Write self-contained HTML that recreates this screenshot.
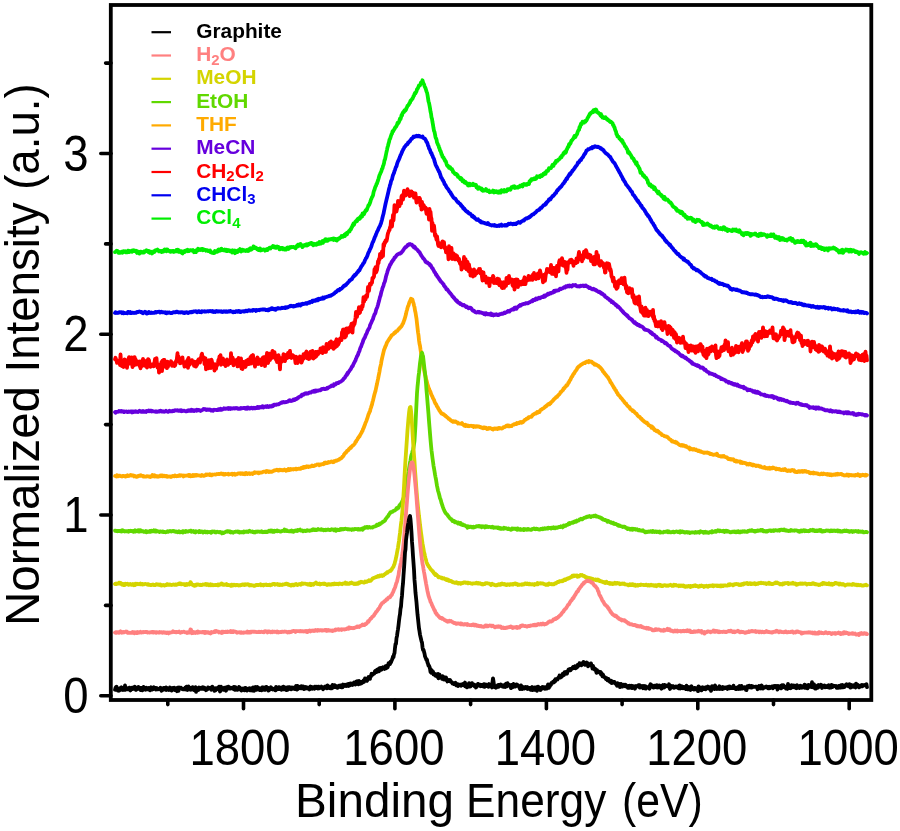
<!DOCTYPE html>
<html><head><meta charset="utf-8"><style>
html,body{margin:0;padding:0;background:#fff;}
svg{display:block;will-change:transform;}
.ax text{font-family:"Liberation Sans",sans-serif;font-size:48px;fill:#000;}
.leg text{font-family:"Liberation Sans",sans-serif;font-weight:bold;font-size:19.5px;}
.leg .sub{font-size:14px;}
.ax .tl{font-size:50px;}
</style></head><body>
<svg width="900" height="831" viewBox="0 0 900 831">
<rect width="900" height="831" fill="#fff"/>
<g fill="none" stroke-width="3.8" stroke-linejoin="round" stroke-linecap="round">
<path d="M115.0,252.1 115.5,252.0 116.0,251.3 116.5,250.8 117.0,251.1 117.5,250.9 118.0,251.7 118.5,252.8 119.0,251.9 119.5,252.0 120.0,252.8 120.5,252.7 121.0,252.5 121.5,251.8 122.0,252.2 122.5,252.7 123.0,251.5 123.5,252.1 124.0,251.2 124.5,251.6 125.0,251.3 125.5,252.2 126.0,251.6 126.5,252.4 127.0,252.3 127.5,252.0 128.0,250.6 128.5,251.7 129.0,252.0 129.5,252.0 130.0,250.9 130.5,251.4 131.0,251.0 131.5,250.9 132.0,251.8 132.5,250.4 133.0,250.7 133.5,251.1 134.0,250.3 134.5,250.7 135.0,251.0 135.5,251.3 136.0,250.8 136.5,251.9 137.0,252.9 137.5,251.3 138.0,252.9 138.5,252.5 139.0,252.0 139.5,253.6 140.0,252.8 140.5,251.6 141.0,252.3 141.5,252.5 142.0,252.0 142.5,252.4 143.0,251.9 143.5,252.2 144.0,252.6 144.5,251.2 145.0,251.6 145.5,251.1 146.0,251.2 146.5,250.3 147.0,250.6 147.5,250.8 148.0,251.6 148.5,252.1 149.0,250.9 149.5,251.7 150.0,252.9 150.5,251.6 151.0,252.6 151.5,252.8 152.0,253.5 152.5,252.9 153.0,251.9 153.5,251.5 154.0,251.2 154.5,251.9 155.0,250.4 155.5,250.2 156.0,250.5 156.5,250.1 157.0,250.1 157.5,249.6 158.0,250.4 158.5,250.3 159.0,251.4 159.5,251.2 160.0,250.9 160.5,251.5 161.0,251.0 161.5,252.0 162.0,251.4 162.5,251.8 163.0,250.6 163.5,251.5 164.0,250.1 164.5,249.6 165.0,250.4 165.5,249.7 166.0,250.1 166.5,251.2 167.0,249.4 167.5,249.6 168.0,250.3 168.5,250.8 169.0,250.7 169.5,250.9 170.0,251.7 170.5,251.8 171.0,251.0 171.5,251.6 172.0,251.7 172.5,250.9 173.0,251.6 173.5,250.9 174.0,251.9 174.5,251.5 175.0,251.4 175.5,251.0 176.0,251.2 176.5,250.0 177.0,250.4 177.5,251.3 178.0,249.8 178.5,251.7 179.0,250.2 179.5,251.8 180.0,251.0 180.5,252.1 181.0,252.0 181.5,251.2 182.0,253.1 182.5,253.4 183.0,252.4 183.5,252.1 184.0,251.9 184.5,251.1 185.0,251.9 185.5,250.6 186.0,250.7 186.5,250.1 187.0,250.1 187.5,249.7 188.0,251.3 188.5,250.5 189.0,251.1 189.5,250.6 190.0,250.1 190.5,250.3 191.0,250.2 191.5,250.6 192.0,250.4 192.5,250.5 193.0,250.0 193.5,250.5 194.0,252.2 194.5,250.9 195.0,250.8 195.5,251.6 196.0,252.1 196.5,250.1 197.0,250.4 197.5,249.8 198.0,248.8 198.5,250.2 199.0,249.6 199.5,249.7 200.0,249.2 200.5,249.9 201.0,249.3 201.5,249.5 202.0,248.8 202.5,248.8 203.0,250.3 203.5,249.3 204.0,249.9 204.5,249.9 205.0,249.8 205.5,249.9 206.0,250.7 206.5,250.1 207.0,250.2 207.5,250.3 208.0,251.0 208.5,250.8 209.0,250.9 209.5,250.6 210.0,250.4 210.5,252.1 211.0,252.4 211.5,252.1 212.0,252.7 212.5,252.9 213.0,253.0 213.5,253.0 214.0,252.0 214.5,252.9 215.0,251.0 215.5,251.9 216.0,251.4 216.5,251.5 217.0,251.9 217.5,251.6 218.0,249.9 218.5,249.5 219.0,250.9 219.5,249.7 220.0,250.2 220.5,250.6 221.0,249.0 221.5,248.7 222.0,250.2 222.5,250.1 223.0,250.0 223.5,250.3 224.0,249.9 224.5,249.6 225.0,250.5 225.5,250.1 226.0,249.8 226.5,251.1 227.0,250.7 227.5,251.0 228.0,250.1 228.5,250.4 229.0,250.2 229.5,250.4 230.0,251.2 230.5,250.7 231.0,251.5 231.5,251.5 232.0,252.5 232.5,250.3 233.0,251.5 233.5,250.6 234.0,250.5 234.5,250.8 235.0,253.2 235.5,252.4 236.0,250.8 236.5,251.2 237.0,251.2 237.5,252.1 238.0,251.5 238.5,250.1 239.0,250.9 239.5,250.0 240.0,249.1 240.5,250.5 241.0,251.5 241.5,250.5 242.0,249.6 242.5,249.6 243.0,250.8 243.5,250.2 244.0,250.2 244.5,250.3 245.0,250.4 245.5,251.0 246.0,250.9 246.5,250.8 247.0,250.0 247.5,250.9 248.0,250.0 248.5,250.9 249.0,249.2 249.5,249.5 250.0,249.3 250.5,248.2 251.0,249.8 251.5,249.4 252.0,248.1 252.5,248.6 253.0,248.3 253.5,246.4 254.0,248.1 254.5,247.9 255.0,248.1 255.5,247.5 256.0,248.1 256.5,248.2 257.0,249.2 257.5,248.9 258.0,248.9 258.5,250.0 259.0,248.9 259.5,249.2 260.0,248.4 260.5,250.5 261.0,250.2 261.5,250.2 262.0,250.0 262.5,249.6 263.0,249.7 263.5,249.4 264.0,249.5 264.5,249.8 265.0,250.7 265.5,250.1 266.0,249.7 266.5,249.2 267.0,249.0 267.5,250.1 268.0,249.2 268.5,248.8 269.0,248.3 269.5,247.7 270.0,248.1 270.5,248.4 271.0,247.4 271.5,247.2 272.0,247.1 272.5,247.2 273.0,246.1 273.5,246.9 274.0,246.6 274.5,247.6 275.0,246.6 275.5,247.3 276.0,247.8 276.5,246.7 277.0,246.5 277.5,247.1 278.0,247.2 278.5,246.9 279.0,248.1 279.5,249.4 280.0,248.2 280.5,248.3 281.0,247.9 281.5,248.7 282.0,247.8 282.5,247.9 283.0,249.4 283.5,248.2 284.0,249.4 284.5,249.6 285.0,248.8 285.5,248.9 286.0,249.6 286.5,248.2 287.0,247.9 287.5,247.4 288.0,248.1 288.5,248.9 289.0,248.5 289.5,247.3 290.0,247.1 290.5,247.1 291.0,247.4 291.5,246.9 292.0,247.1 292.5,247.1 293.0,246.8 293.5,247.0 294.0,247.3 294.5,247.1 295.0,247.5 295.5,248.3 296.0,247.4 296.5,246.9 297.0,245.6 297.5,246.5 298.0,244.7 298.5,244.7 299.0,245.8 299.5,245.5 300.0,244.9 300.5,244.0 301.0,244.9 301.5,245.0 302.0,246.0 302.5,247.1 303.0,246.1 303.5,245.5 304.0,245.2 304.5,245.7 305.0,245.5 305.5,244.7 306.0,245.2 306.5,244.3 307.0,245.5 307.5,245.3 308.0,245.1 308.5,244.0 309.0,244.3 309.5,243.7 310.0,243.4 310.5,243.3 311.0,242.8 311.5,242.9 312.0,244.4 312.5,244.1 313.0,244.6 313.5,245.3 314.0,243.7 314.5,244.3 315.0,244.7 315.5,244.7 316.0,244.1 316.5,244.8 317.0,244.2 317.5,243.2 318.0,243.2 318.5,244.0 319.0,243.6 319.5,242.0 320.0,243.7 320.5,243.1 321.0,243.4 321.5,242.1 322.0,241.9 322.5,241.1 323.0,242.9 323.5,240.9 324.0,241.7 324.5,240.1 325.0,240.5 325.5,239.3 326.0,240.0 326.5,240.8 327.0,239.5 327.5,240.8 328.0,240.3 328.5,239.4 329.0,239.5 329.5,239.4 330.0,239.6 330.5,239.2 331.0,239.0 331.5,239.3 332.0,238.9 332.5,238.7 333.0,239.4 333.5,239.9 334.0,238.5 334.5,239.4 335.0,239.1 335.5,239.0 336.0,240.1 336.5,239.3 337.0,240.5 337.5,239.0 338.0,239.5 338.5,238.9 339.0,238.2 339.5,238.6 340.0,237.7 340.5,237.7 341.0,237.0 341.5,236.1 342.0,236.5 342.5,236.4 343.0,236.8 343.5,235.6 344.0,236.0 344.5,234.8 345.0,235.9 345.5,234.5 346.0,233.6 346.5,234.2 347.0,234.4 347.5,232.4 348.0,232.2 348.5,231.9 349.0,231.1 349.5,231.5 350.0,230.1 350.5,229.4 351.0,229.3 351.5,227.5 352.0,227.3 352.5,225.6 353.0,224.6 353.5,223.4 354.0,224.9 354.5,222.8 355.0,222.3 355.5,221.5 356.0,221.0 356.5,220.5 357.0,221.2 357.5,219.2 358.0,218.6 358.5,218.6 359.0,218.1 359.5,218.9 360.0,218.4 360.5,216.8 361.0,216.0 361.5,216.0 362.0,216.6 362.5,213.5 363.0,215.0 363.5,213.5 364.0,214.2 364.5,212.3 365.0,212.1 365.5,210.6 366.0,210.0 366.5,210.5 367.0,209.4 367.5,207.8 368.0,206.7 368.5,205.2 369.0,205.1 369.5,204.1 370.0,202.8 370.5,201.4 371.0,199.4 371.5,198.6 372.0,197.2 372.5,196.5 373.0,195.3 373.5,192.6 374.0,190.7 374.5,189.6 375.0,187.9 375.5,186.5 376.0,185.7 376.5,183.9 377.0,183.6 377.5,181.8 378.0,180.5 378.5,178.8 379.0,176.9 379.5,175.2 380.0,174.3 380.5,172.8 381.0,172.1 381.5,170.8 382.0,168.8 382.5,168.3 383.0,166.1 383.5,164.9 384.0,163.3 384.5,160.3 385.0,159.3 385.5,157.0 386.0,154.5 386.5,152.0 387.0,149.8 387.5,147.3 388.0,145.8 388.5,143.7 389.0,142.2 389.5,139.7 390.0,139.0 390.5,137.4 391.0,135.8 391.5,134.3 392.0,133.7 392.5,131.3 393.0,131.6 393.5,130.5 394.0,129.7 394.5,129.0 395.0,127.7 395.5,127.1 396.0,126.9 396.5,125.9 397.0,124.9 397.5,123.0 398.0,123.3 398.5,122.8 399.0,121.9 399.5,120.5 400.0,118.6 400.5,119.1 401.0,117.5 401.5,115.0 402.0,115.6 402.5,113.4 403.0,112.4 403.5,111.8 404.0,112.1 404.5,110.3 405.0,110.1 405.5,110.4 406.0,109.7 406.5,108.1 407.0,107.3 407.5,105.9 408.0,105.4 408.5,105.2 409.0,104.2 409.5,103.1 410.0,102.7 410.5,100.7 411.0,100.3 411.5,100.0 412.0,99.1 412.5,98.7 413.0,97.5 413.5,96.2 414.0,95.8 414.5,94.1 415.0,92.9 415.5,93.4 416.0,92.1 416.5,91.4 417.0,89.2 417.5,89.0 418.0,87.9 418.5,86.9 419.0,85.3 419.5,85.4 420.0,85.2 420.5,83.9 421.0,82.5 421.5,82.2 422.0,82.4 422.5,80.3 423.0,82.2 423.5,83.3 424.0,84.3 424.5,86.1 425.0,87.1 425.5,88.1 426.0,89.7 426.5,91.5 427.0,92.5 427.5,95.0 428.0,98.1 428.5,101.4 429.0,102.8 429.5,105.4 430.0,108.1 430.5,111.5 431.0,113.6 431.5,117.4 432.0,118.9 432.5,122.2 433.0,124.9 433.5,128.2 434.0,130.9 434.5,131.8 435.0,134.4 435.5,137.2 436.0,138.4 436.5,139.5 437.0,142.5 437.5,143.5 438.0,144.8 438.5,145.5 439.0,147.7 439.5,148.4 440.0,150.6 440.5,150.8 441.0,152.3 441.5,154.2 442.0,154.8 442.5,156.7 443.0,157.3 443.5,157.4 444.0,158.8 444.5,159.3 445.0,160.9 445.5,160.8 446.0,161.9 446.5,163.8 447.0,165.3 447.5,166.1 448.0,165.8 448.5,166.6 449.0,167.9 449.5,167.3 450.0,167.1 450.5,168.2 451.0,169.0 451.5,168.9 452.0,169.1 452.5,170.0 453.0,172.0 453.5,171.8 454.0,172.7 454.5,173.4 455.0,174.0 455.5,173.7 456.0,174.5 456.5,174.0 457.0,174.8 457.5,175.0 458.0,176.9 458.5,176.9 459.0,177.2 459.5,177.9 460.0,178.4 460.5,179.2 461.0,178.1 461.5,178.6 462.0,179.3 462.5,181.4 463.0,180.8 463.5,180.5 464.0,181.4 464.5,182.6 465.0,181.7 465.5,182.0 466.0,183.4 466.5,183.4 467.0,183.9 467.5,183.6 468.0,185.4 468.5,185.6 469.0,185.2 469.5,185.4 470.0,183.7 470.5,185.2 471.0,184.6 471.5,184.9 472.0,185.0 472.5,184.5 473.0,183.7 473.5,185.1 474.0,184.6 474.5,185.1 475.0,185.2 475.5,185.7 476.0,184.8 476.5,187.3 477.0,187.0 477.5,187.9 478.0,188.8 478.5,188.0 479.0,187.3 479.5,188.1 480.0,188.1 480.5,188.8 481.0,189.4 481.5,188.5 482.0,190.2 482.5,189.4 483.0,190.7 483.5,190.5 484.0,190.5 484.5,190.5 485.0,190.1 485.5,189.9 486.0,189.1 486.5,189.9 487.0,191.0 487.5,191.1 488.0,191.0 488.5,191.0 489.0,190.6 489.5,192.3 490.0,191.8 490.5,192.0 491.0,191.9 491.5,191.9 492.0,191.4 492.5,191.3 493.0,190.6 493.5,190.9 494.0,192.5 494.5,191.2 495.0,191.2 495.5,191.9 496.0,192.1 496.5,191.2 497.0,191.7 497.5,192.4 498.0,192.0 498.5,191.9 499.0,192.7 499.5,191.3 500.0,191.8 500.5,191.3 501.0,192.4 501.5,190.1 502.0,190.7 502.5,190.6 503.0,191.3 503.5,191.2 504.0,191.7 504.5,190.0 505.0,191.4 505.5,190.8 506.0,190.6 506.5,191.2 507.0,190.2 507.5,189.3 508.0,190.1 508.5,189.1 509.0,189.3 509.5,189.6 510.0,189.2 510.5,189.7 511.0,188.3 511.5,187.2 512.0,187.3 512.5,186.9 513.0,186.5 513.5,187.5 514.0,186.9 514.5,186.2 515.0,188.0 515.5,187.5 516.0,187.7 516.5,187.4 517.0,187.5 517.5,187.0 518.0,187.6 518.5,187.0 519.0,187.0 519.5,186.9 520.0,185.7 520.5,186.3 521.0,186.1 521.5,186.1 522.0,185.0 522.5,186.5 523.0,185.4 523.5,184.4 524.0,183.9 524.5,184.7 525.0,184.7 525.5,184.3 526.0,184.8 526.5,184.2 527.0,184.7 527.5,183.6 528.0,183.6 528.5,183.7 529.0,184.0 529.5,181.3 530.0,181.0 530.5,180.2 531.0,180.8 531.5,179.2 532.0,179.3 532.5,179.4 533.0,178.8 533.5,178.8 534.0,179.2 534.5,178.3 535.0,178.6 535.5,179.0 536.0,178.8 536.5,177.9 537.0,176.3 537.5,176.6 538.0,177.1 538.5,176.9 539.0,176.6 539.5,176.1 540.0,177.0 540.5,176.0 541.0,175.3 541.5,175.1 542.0,176.1 542.5,174.9 543.0,175.1 543.5,173.8 544.0,174.2 544.5,172.9 545.0,172.7 545.5,173.8 546.0,172.3 546.5,171.1 547.0,170.9 547.5,170.8 548.0,170.9 548.5,169.5 549.0,168.2 549.5,168.6 550.0,168.3 550.5,167.8 551.0,168.0 551.5,166.8 552.0,166.6 552.5,164.9 553.0,165.5 553.5,165.7 554.0,164.3 554.5,163.4 555.0,162.7 555.5,163.1 556.0,160.9 556.5,160.9 557.0,160.9 557.5,160.8 558.0,159.8 558.5,159.9 559.0,159.2 559.5,159.0 560.0,158.4 560.5,157.2 561.0,157.3 561.5,157.2 562.0,155.4 562.5,155.1 563.0,155.0 563.5,153.3 564.0,153.5 564.5,152.2 565.0,152.9 565.5,152.9 566.0,152.0 566.5,149.7 567.0,149.3 567.5,147.9 568.0,146.9 568.5,146.8 569.0,144.3 569.5,144.9 570.0,143.4 570.5,143.4 571.0,141.8 571.5,140.4 572.0,140.2 572.5,139.8 573.0,138.7 573.5,138.5 574.0,137.4 574.5,136.0 575.0,137.3 575.5,136.6 576.0,135.5 576.5,134.7 577.0,134.3 577.5,132.4 578.0,131.1 578.5,130.2 579.0,129.8 579.5,127.0 580.0,127.4 580.5,125.1 581.0,123.8 581.5,124.4 582.0,122.9 582.5,121.7 583.0,122.0 583.5,122.6 584.0,122.7 584.5,121.5 585.0,121.8 585.5,121.7 586.0,120.4 586.5,120.3 587.0,119.3 587.5,118.2 588.0,117.3 588.5,116.6 589.0,115.7 589.5,114.4 590.0,113.6 590.5,113.8 591.0,112.6 591.5,112.5 592.0,112.3 592.5,111.6 593.0,112.3 593.5,110.1 594.0,110.9 594.5,110.1 595.0,111.4 595.5,111.5 596.0,109.5 596.5,110.4 597.0,111.8 597.5,112.3 598.0,112.7 598.5,112.7 599.0,113.5 599.5,114.1 600.0,114.3 600.5,115.5 601.0,114.1 601.5,116.4 602.0,116.0 602.5,117.6 603.0,117.3 603.5,117.2 604.0,118.1 604.5,117.4 605.0,117.5 605.5,117.2 606.0,118.3 606.5,118.8 607.0,119.5 607.5,119.2 608.0,120.3 608.5,120.2 609.0,120.5 609.5,121.3 610.0,121.9 610.5,121.4 611.0,121.8 611.5,122.3 612.0,122.9 612.5,123.0 613.0,125.0 613.5,125.1 614.0,126.8 614.5,127.3 615.0,129.4 615.5,130.7 616.0,131.6 616.5,134.3 617.0,134.5 617.5,136.4 618.0,136.8 618.5,136.6 619.0,137.5 619.5,138.6 620.0,139.0 620.5,139.6 621.0,140.1 621.5,139.8 622.0,141.4 622.5,140.8 623.0,143.0 623.5,143.1 624.0,143.9 624.5,145.1 625.0,146.4 625.5,146.4 626.0,147.2 626.5,148.6 627.0,148.8 627.5,150.2 628.0,152.5 628.5,151.6 629.0,153.3 629.5,152.7 630.0,154.3 630.5,154.6 631.0,155.4 631.5,156.4 632.0,157.9 632.5,157.7 633.0,158.5 633.5,158.6 634.0,160.4 634.5,160.6 635.0,162.0 635.5,162.1 636.0,163.9 636.5,162.3 637.0,164.1 637.5,165.7 638.0,166.0 638.5,166.8 639.0,168.2 639.5,168.6 640.0,170.5 640.5,172.8 641.0,172.9 641.5,172.4 642.0,173.3 642.5,174.2 643.0,175.6 643.5,175.0 644.0,175.5 644.5,176.9 645.0,177.4 645.5,177.3 646.0,177.7 646.5,178.5 647.0,180.0 647.5,180.1 648.0,182.8 648.5,182.8 649.0,184.0 649.5,185.4 650.0,185.4 650.5,184.5 651.0,186.1 651.5,186.7 652.0,186.0 652.5,186.3 653.0,187.3 653.5,186.8 654.0,189.1 654.5,187.3 655.0,188.6 655.5,189.6 656.0,190.3 656.5,191.1 657.0,191.7 657.5,191.9 658.0,193.2 658.5,191.6 659.0,193.3 659.5,193.3 660.0,194.3 660.5,194.8 661.0,194.6 661.5,195.3 662.0,196.6 662.5,196.8 663.0,196.5 663.5,198.4 664.0,198.9 664.5,196.9 665.0,198.2 665.5,199.8 666.0,199.1 666.5,199.2 667.0,199.4 667.5,199.6 668.0,200.3 668.5,200.6 669.0,201.9 669.5,201.8 670.0,202.3 670.5,202.3 671.0,203.6 671.5,203.6 672.0,204.6 672.5,205.9 673.0,206.1 673.5,206.8 674.0,207.1 674.5,207.4 675.0,207.7 675.5,208.1 676.0,209.3 676.5,208.8 677.0,210.8 677.5,210.6 678.0,210.5 678.5,211.0 679.0,211.1 679.5,211.8 680.0,211.5 680.5,213.0 681.0,212.2 681.5,211.7 682.0,213.0 682.5,212.6 683.0,214.2 683.5,215.2 684.0,215.4 684.5,214.6 685.0,215.3 685.5,217.1 686.0,216.6 686.5,216.6 687.0,217.5 687.5,218.7 688.0,218.3 688.5,217.8 689.0,218.2 689.5,218.6 690.0,218.0 690.5,217.8 691.0,218.5 691.5,218.0 692.0,218.7 692.5,219.1 693.0,220.9 693.5,219.6 694.0,220.6 694.5,221.1 695.0,221.7 695.5,222.1 696.0,221.1 696.5,220.6 697.0,219.8 697.5,220.0 698.0,220.7 698.5,220.4 699.0,219.9 699.5,220.5 700.0,221.0 700.5,221.7 701.0,221.6 701.5,222.4 702.0,222.0 702.5,223.0 703.0,225.1 703.5,223.1 704.0,224.4 704.5,224.9 705.0,224.6 705.5,224.3 706.0,224.6 706.5,224.5 707.0,224.4 707.5,223.4 708.0,224.5 708.5,224.3 709.0,224.8 709.5,225.4 710.0,225.9 710.5,226.2 711.0,225.5 711.5,226.6 712.0,227.0 712.5,227.2 713.0,227.6 713.5,227.0 714.0,227.1 714.5,227.7 715.0,226.4 715.5,227.3 716.0,226.8 716.5,226.9 717.0,226.2 717.5,227.0 718.0,227.7 718.5,228.5 719.0,228.8 719.5,228.3 720.0,228.4 720.5,228.1 721.0,228.9 721.5,228.4 722.0,228.8 722.5,229.4 723.0,228.1 723.5,227.2 724.0,227.7 724.5,227.5 725.0,228.0 725.5,229.9 726.0,229.6 726.5,228.9 727.0,230.4 727.5,231.0 728.0,230.0 728.5,229.7 729.0,229.8 729.5,230.0 730.0,230.2 730.5,230.5 731.0,230.7 731.5,230.9 732.0,231.2 732.5,230.9 733.0,229.5 733.5,230.2 734.0,230.3 734.5,229.7 735.0,230.4 735.5,229.6 736.0,229.4 736.5,231.0 737.0,230.7 737.5,230.7 738.0,231.4 738.5,231.8 739.0,231.7 739.5,230.3 740.0,231.7 740.5,232.2 741.0,232.3 741.5,233.4 742.0,234.3 742.5,233.6 743.0,233.4 743.5,235.3 744.0,233.8 744.5,233.2 745.0,234.0 745.5,233.9 746.0,233.1 746.5,234.0 747.0,233.2 747.5,232.9 748.0,233.6 748.5,234.1 749.0,233.4 749.5,234.1 750.0,234.0 750.5,235.9 751.0,233.9 751.5,235.2 752.0,234.3 752.5,234.1 753.0,234.4 753.5,234.3 754.0,234.4 754.5,233.8 755.0,233.4 755.5,233.6 756.0,234.5 756.5,234.8 757.0,235.6 757.5,235.2 758.0,235.7 758.5,236.0 759.0,235.1 759.5,234.0 760.0,234.1 760.5,233.8 761.0,235.4 761.5,233.7 762.0,234.7 762.5,234.2 763.0,234.9 763.5,234.6 764.0,234.2 764.5,234.4 765.0,234.9 765.5,235.2 766.0,235.1 766.5,235.6 767.0,236.9 767.5,235.1 768.0,236.3 768.5,235.5 769.0,236.0 769.5,236.1 770.0,235.4 770.5,235.8 771.0,234.4 771.5,236.1 772.0,235.1 772.5,236.0 773.0,235.9 773.5,234.4 774.0,235.7 774.5,236.6 775.0,237.8 775.5,237.3 776.0,237.5 776.5,236.6 777.0,238.3 777.5,238.5 778.0,237.6 778.5,237.6 779.0,237.0 779.5,238.7 780.0,240.0 780.5,238.9 781.0,239.3 781.5,239.0 782.0,238.1 782.5,239.6 783.0,238.2 783.5,238.9 784.0,239.4 784.5,240.0 785.0,239.9 785.5,240.1 786.0,239.7 786.5,239.6 787.0,240.5 787.5,240.0 788.0,239.5 788.5,239.2 789.0,239.4 789.5,238.3 790.0,238.4 790.5,238.1 791.0,239.2 791.5,239.5 792.0,240.7 792.5,238.9 793.0,239.8 793.5,241.2 794.0,241.0 794.5,241.3 795.0,242.9 795.5,241.8 796.0,241.4 796.5,241.2 797.0,242.1 797.5,242.0 798.0,241.0 798.5,241.2 799.0,242.1 799.5,242.1 800.0,241.4 800.5,242.1 801.0,242.1 801.5,240.6 802.0,241.5 802.5,242.0 803.0,241.5 803.5,240.7 804.0,242.1 804.5,243.1 805.0,244.0 805.5,242.2 806.0,245.5 806.5,243.6 807.0,245.1 807.5,245.3 808.0,245.2 808.5,244.6 809.0,243.7 809.5,244.7 810.0,243.9 810.5,242.8 811.0,246.1 811.5,244.9 812.0,245.7 812.5,244.2 813.0,245.7 813.5,245.9 814.0,245.9 814.5,245.0 815.0,244.4 815.5,245.2 816.0,244.2 816.5,244.7 817.0,246.1 817.5,245.8 818.0,246.5 818.5,246.7 819.0,248.1 819.5,247.9 820.0,247.2 820.5,248.2 821.0,247.3 821.5,248.0 822.0,249.1 822.5,248.1 823.0,248.9 823.5,248.3 824.0,249.2 824.5,250.1 825.0,248.6 825.5,249.2 826.0,248.5 826.5,248.3 827.0,248.3 827.5,249.9 828.0,250.4 828.5,249.2 829.0,248.3 829.5,249.0 830.0,248.2 830.5,248.7 831.0,248.3 831.5,248.3 832.0,248.6 832.5,248.0 833.0,248.3 833.5,247.6 834.0,248.4 834.5,247.9 835.0,248.8 835.5,248.6 836.0,249.5 836.5,250.1 837.0,249.5 837.5,250.2 838.0,250.5 838.5,251.7 839.0,252.4 839.5,251.9 840.0,251.2 840.5,252.3 841.0,250.5 841.5,252.4 842.0,251.1 842.5,249.7 843.0,252.9 843.5,252.2 844.0,250.5 844.5,251.1 845.0,250.7 845.5,250.7 846.0,249.5 846.5,249.7 847.0,250.1 847.5,249.8 848.0,250.4 848.5,250.0 849.0,251.6 849.5,250.0 850.0,250.8 850.5,249.7 851.0,250.1 851.5,251.6 852.0,250.2 852.5,251.0 853.0,250.7 853.5,250.2 854.0,250.8 854.5,250.9 855.0,251.1 855.5,252.1 856.0,252.2 856.5,251.6 857.0,251.6 857.5,252.4 858.0,252.2 858.5,253.0 859.0,254.0 859.5,252.9 860.0,252.4 860.5,252.4 861.0,252.2 861.5,252.4 862.0,252.5 862.5,253.1 863.0,253.2 863.5,253.8 864.0,253.0 864.5,252.9 865.0,252.0 865.5,253.6 866.0,252.8 866.5,253.5 867.0,253.0" stroke="#00ee00"/>
<path d="M115.0,313.0 115.5,312.2 116.0,312.8 116.5,312.8 117.0,313.0 117.5,312.8 118.0,312.9 118.5,312.4 119.0,312.5 119.5,312.2 120.0,312.2 120.5,312.4 121.0,312.5 121.5,312.3 122.0,313.2 122.5,312.8 123.0,312.5 123.5,313.3 124.0,312.8 124.5,313.2 125.0,313.1 125.5,313.2 126.0,313.2 126.5,312.8 127.0,312.9 127.5,313.3 128.0,311.9 128.5,312.5 129.0,312.5 129.5,312.1 130.0,312.0 130.5,313.1 131.0,312.4 131.5,313.1 132.0,312.7 132.5,312.6 133.0,312.8 133.5,312.9 134.0,313.1 134.5,312.9 135.0,312.8 135.5,312.6 136.0,312.8 136.5,312.5 137.0,311.8 137.5,311.8 138.0,312.0 138.5,311.7 139.0,311.7 139.5,311.5 140.0,311.7 140.5,312.0 141.0,312.2 141.5,312.0 142.0,312.8 142.5,312.2 143.0,313.2 143.5,312.7 144.0,312.6 144.5,312.4 145.0,311.8 145.5,312.7 146.0,312.9 146.5,313.5 147.0,312.5 147.5,313.4 148.0,312.7 148.5,313.0 149.0,312.0 149.5,312.8 150.0,312.7 150.5,313.0 151.0,312.9 151.5,312.5 152.0,313.1 152.5,312.9 153.0,312.9 153.5,312.9 154.0,312.9 154.5,312.5 155.0,312.0 155.5,311.9 156.0,312.6 156.5,312.3 157.0,312.0 157.5,311.8 158.0,311.9 158.5,311.8 159.0,311.7 159.5,311.7 160.0,312.6 160.5,312.1 161.0,311.9 161.5,311.7 162.0,311.9 162.5,312.4 163.0,312.4 163.5,312.2 164.0,312.4 164.5,312.4 165.0,312.2 165.5,313.0 166.0,312.7 166.5,313.3 167.0,312.4 167.5,312.5 168.0,312.9 168.5,312.6 169.0,312.3 169.5,312.5 170.0,313.0 170.5,313.1 171.0,313.0 171.5,313.2 172.0,313.1 172.5,312.7 173.0,312.4 173.5,312.1 174.0,312.3 174.5,312.4 175.0,312.2 175.5,312.3 176.0,312.0 176.5,311.6 177.0,311.7 177.5,312.2 178.0,312.1 178.5,312.5 179.0,312.1 179.5,312.4 180.0,312.6 180.5,312.5 181.0,312.1 181.5,312.3 182.0,312.4 182.5,312.2 183.0,312.7 183.5,312.9 184.0,312.4 184.5,313.1 185.0,312.4 185.5,312.4 186.0,312.3 186.5,312.2 187.0,312.5 187.5,312.4 188.0,313.0 188.5,312.7 189.0,312.7 189.5,312.4 190.0,312.0 190.5,312.3 191.0,311.9 191.5,312.3 192.0,311.8 192.5,312.1 193.0,311.6 193.5,311.5 194.0,311.3 194.5,311.3 195.0,311.5 195.5,311.7 196.0,311.3 196.5,311.7 197.0,312.3 197.5,311.5 198.0,311.4 198.5,311.3 199.0,311.1 199.5,312.0 200.0,311.7 200.5,311.8 201.0,312.2 201.5,312.3 202.0,311.2 202.5,311.7 203.0,311.5 203.5,311.4 204.0,311.4 204.5,311.2 205.0,311.7 205.5,311.4 206.0,311.3 206.5,311.6 207.0,311.4 207.5,311.2 208.0,311.2 208.5,311.6 209.0,311.2 209.5,311.1 210.0,310.9 210.5,311.2 211.0,311.1 211.5,311.5 212.0,311.6 212.5,311.0 213.0,311.7 213.5,312.0 214.0,311.9 214.5,311.5 215.0,312.1 215.5,311.4 216.0,311.1 216.5,311.0 217.0,311.3 217.5,311.6 218.0,311.7 218.5,311.5 219.0,311.2 219.5,311.4 220.0,311.5 220.5,311.7 221.0,311.3 221.5,311.9 222.0,312.0 222.5,311.7 223.0,311.9 223.5,311.4 224.0,311.2 224.5,311.4 225.0,311.8 225.5,311.8 226.0,311.3 226.5,311.8 227.0,311.4 227.5,311.9 228.0,311.6 228.5,311.2 229.0,311.6 229.5,311.1 230.0,311.0 230.5,310.9 231.0,311.5 231.5,311.5 232.0,311.6 232.5,311.6 233.0,312.2 233.5,311.7 234.0,311.6 234.5,312.2 235.0,312.2 235.5,311.8 236.0,311.1 236.5,311.3 237.0,311.6 237.5,311.4 238.0,311.8 238.5,310.9 239.0,311.5 239.5,311.2 240.0,311.9 240.5,311.5 241.0,312.0 241.5,311.5 242.0,311.3 242.5,311.3 243.0,311.3 243.5,311.1 244.0,311.6 244.5,311.6 245.0,311.1 245.5,310.7 246.0,310.9 246.5,310.6 247.0,311.2 247.5,310.8 248.0,310.8 248.5,310.5 249.0,310.1 249.5,310.4 250.0,310.3 250.5,310.8 251.0,310.6 251.5,310.3 252.0,310.3 252.5,310.7 253.0,309.9 253.5,309.9 254.0,310.1 254.5,310.0 255.0,310.1 255.5,310.5 256.0,310.9 256.5,309.9 257.0,310.4 257.5,310.3 258.0,310.2 258.5,310.0 259.0,309.9 259.5,310.2 260.0,309.7 260.5,309.7 261.0,309.7 261.5,309.6 262.0,309.4 262.5,309.7 263.0,309.4 263.5,309.5 264.0,309.5 264.5,309.3 265.0,309.5 265.5,309.6 266.0,310.1 266.5,309.9 267.0,309.9 267.5,310.3 268.0,310.3 268.5,309.4 269.0,310.2 269.5,309.4 270.0,309.0 270.5,309.0 271.0,308.5 271.5,308.3 272.0,309.2 272.5,308.3 273.0,308.8 273.5,309.2 274.0,308.8 274.5,309.1 275.0,309.3 275.5,309.8 276.0,308.7 276.5,308.8 277.0,308.8 277.5,308.5 278.0,308.0 278.5,308.5 279.0,308.3 279.5,308.4 280.0,308.6 280.5,308.5 281.0,308.3 281.5,308.2 282.0,307.7 282.5,308.0 283.0,308.0 283.5,307.8 284.0,307.9 284.5,307.5 285.0,308.1 285.5,308.2 286.0,307.3 286.5,307.5 287.0,307.2 287.5,307.6 288.0,307.2 288.5,306.9 289.0,306.6 289.5,306.5 290.0,305.9 290.5,306.2 291.0,305.7 291.5,306.0 292.0,306.0 292.5,306.3 293.0,306.1 293.5,306.5 294.0,305.9 294.5,306.3 295.0,306.0 295.5,306.0 296.0,305.8 296.5,305.9 297.0,304.9 297.5,305.4 298.0,304.8 298.5,305.5 299.0,304.5 299.5,304.8 300.0,304.5 300.5,305.5 301.0,304.5 301.5,304.8 302.0,304.4 302.5,303.8 303.0,304.0 303.5,304.1 304.0,303.7 304.5,303.8 305.0,303.3 305.5,303.3 306.0,303.1 306.5,303.3 307.0,303.7 307.5,303.1 308.0,302.9 308.5,302.5 309.0,302.3 309.5,302.8 310.0,301.9 310.5,301.8 311.0,301.8 311.5,301.5 312.0,302.1 312.5,300.6 313.0,301.3 313.5,301.2 314.0,300.4 314.5,300.4 315.0,300.5 315.5,300.7 316.0,299.9 316.5,299.6 317.0,300.3 317.5,300.4 318.0,299.6 318.5,298.8 319.0,299.7 319.5,298.9 320.0,299.1 320.5,298.6 321.0,298.4 321.5,298.3 322.0,298.8 322.5,298.7 323.0,297.5 323.5,297.8 324.0,298.4 324.5,297.6 325.0,297.1 325.5,297.3 326.0,297.1 326.5,297.0 327.0,296.8 327.5,296.6 328.0,296.4 328.5,296.4 329.0,295.9 329.5,295.8 330.0,295.7 330.5,295.9 331.0,295.4 331.5,295.0 332.0,294.9 332.5,294.5 333.0,294.4 333.5,293.9 334.0,293.9 334.5,293.3 335.0,292.5 335.5,292.0 336.0,292.1 336.5,291.6 337.0,291.1 337.5,290.4 338.0,290.0 338.5,290.4 339.0,290.3 339.5,290.0 340.0,289.0 340.5,289.4 341.0,288.6 341.5,288.5 342.0,288.2 342.5,287.4 343.0,287.1 343.5,286.2 344.0,286.1 344.5,285.4 345.0,285.6 345.5,285.1 346.0,284.9 346.5,284.2 347.0,283.4 347.5,283.2 348.0,282.4 348.5,282.1 349.0,281.5 349.5,280.6 350.0,280.4 350.5,280.0 351.0,279.4 351.5,279.3 352.0,279.0 352.5,277.8 353.0,277.3 353.5,276.2 354.0,276.3 354.5,275.7 355.0,274.6 355.5,274.8 356.0,274.3 356.5,273.4 357.0,272.9 357.5,272.1 358.0,272.0 358.5,270.7 359.0,270.3 359.5,270.3 360.0,268.9 360.5,268.2 361.0,267.2 361.5,266.1 362.0,265.6 362.5,264.9 363.0,263.7 363.5,263.3 364.0,262.7 364.5,261.7 365.0,260.0 365.5,259.3 366.0,258.1 366.5,257.8 367.0,256.5 367.5,255.4 368.0,253.7 368.5,252.5 369.0,251.7 369.5,250.6 370.0,249.2 370.5,248.4 371.0,247.3 371.5,246.0 372.0,244.3 372.5,242.7 373.0,242.0 373.5,240.8 374.0,239.4 374.5,238.0 375.0,236.7 375.5,235.8 376.0,234.3 376.5,233.2 377.0,231.8 377.5,230.9 378.0,230.1 378.5,228.7 379.0,227.6 379.5,226.7 380.0,226.0 380.5,224.4 381.0,223.4 381.5,221.4 382.0,219.7 382.5,217.5 383.0,215.5 383.5,213.8 384.0,211.1 384.5,208.8 385.0,206.4 385.5,204.0 386.0,201.8 386.5,199.8 387.0,197.8 387.5,195.6 388.0,193.5 388.5,191.3 389.0,189.0 389.5,187.2 390.0,185.1 390.5,183.9 391.0,181.3 391.5,180.2 392.0,179.3 392.5,176.9 393.0,175.1 393.5,174.0 394.0,172.9 394.5,171.1 395.0,169.9 395.5,168.3 396.0,166.8 396.5,166.4 397.0,164.1 397.5,162.6 398.0,161.3 398.5,160.4 399.0,159.2 399.5,158.1 400.0,156.8 400.5,155.2 401.0,154.6 401.5,153.2 402.0,152.1 402.5,150.7 403.0,149.9 403.5,148.9 404.0,148.1 404.5,146.9 405.0,146.6 405.5,146.0 406.0,145.1 406.5,144.8 407.0,144.2 407.5,144.3 408.0,142.7 408.5,142.8 409.0,141.8 409.5,141.5 410.0,141.2 410.5,140.0 411.0,139.5 411.5,138.6 412.0,138.8 412.5,138.0 413.0,137.6 413.5,136.6 414.0,136.4 414.5,136.9 415.0,136.4 415.5,136.2 416.0,136.3 416.5,135.7 417.0,136.3 417.5,136.0 418.0,136.1 418.5,135.8 419.0,136.3 419.5,136.0 420.0,136.6 420.5,136.7 421.0,136.8 421.5,136.9 422.0,137.1 422.5,136.4 423.0,137.7 423.5,137.8 424.0,138.3 424.5,138.6 425.0,138.8 425.5,139.7 426.0,140.7 426.5,141.9 427.0,142.4 427.5,143.5 428.0,145.6 428.5,146.2 429.0,148.4 429.5,149.1 430.0,150.0 430.5,151.7 431.0,153.0 431.5,153.1 432.0,155.0 432.5,155.5 433.0,157.3 433.5,158.0 434.0,159.0 434.5,161.1 435.0,162.6 435.5,164.4 436.0,165.6 436.5,166.5 437.0,167.4 437.5,168.5 438.0,169.6 438.5,170.5 439.0,171.7 439.5,172.1 440.0,174.1 440.5,175.2 441.0,177.2 441.5,177.8 442.0,178.6 442.5,179.9 443.0,180.3 443.5,181.5 444.0,182.0 444.5,183.9 445.0,184.6 445.5,185.0 446.0,186.1 446.5,187.2 447.0,187.8 447.5,188.5 448.0,188.9 448.5,189.7 449.0,190.7 449.5,191.6 450.0,191.9 450.5,192.5 451.0,193.9 451.5,194.1 452.0,195.4 452.5,195.9 453.0,196.8 453.5,197.7 454.0,197.9 454.5,198.4 455.0,198.4 455.5,198.9 456.0,199.8 456.5,200.6 457.0,201.1 457.5,201.9 458.0,201.9 458.5,202.4 459.0,203.2 459.5,203.4 460.0,203.9 460.5,204.2 461.0,205.5 461.5,205.5 462.0,206.6 462.5,206.6 463.0,208.0 463.5,207.9 464.0,209.0 464.5,208.8 465.0,209.7 465.5,210.8 466.0,210.7 466.5,211.5 467.0,211.7 467.5,211.6 468.0,212.7 468.5,213.0 469.0,212.9 469.5,213.7 470.0,213.7 470.5,214.0 471.0,214.7 471.5,214.9 472.0,216.2 472.5,215.5 473.0,216.7 473.5,217.3 474.0,216.8 474.5,217.4 475.0,218.5 475.5,218.6 476.0,219.1 476.5,219.7 477.0,219.5 477.5,219.5 478.0,219.3 478.5,220.4 479.0,220.4 479.5,221.1 480.0,221.4 480.5,221.2 481.0,222.4 481.5,222.5 482.0,222.6 482.5,222.2 483.0,222.6 483.5,222.7 484.0,222.9 484.5,222.8 485.0,223.4 485.5,223.5 486.0,223.7 486.5,223.5 487.0,224.1 487.5,223.8 488.0,223.1 488.5,223.8 489.0,224.2 489.5,224.8 490.0,224.7 490.5,224.9 491.0,225.0 491.5,225.5 492.0,225.3 492.5,225.2 493.0,225.2 493.5,225.6 494.0,225.3 494.5,225.0 495.0,225.8 495.5,225.4 496.0,225.7 496.5,225.8 497.0,226.1 497.5,226.0 498.0,225.6 498.5,225.6 499.0,225.2 499.5,226.0 500.0,225.5 500.5,225.7 501.0,225.2 501.5,224.6 502.0,225.7 502.5,225.3 503.0,225.3 503.5,225.4 504.0,225.6 504.5,225.6 505.0,224.9 505.5,225.6 506.0,225.0 506.5,224.9 507.0,225.4 507.5,224.9 508.0,224.4 508.5,223.8 509.0,224.2 509.5,224.2 510.0,223.9 510.5,223.5 511.0,223.7 511.5,223.6 512.0,224.1 512.5,224.3 513.0,224.4 513.5,223.8 514.0,224.1 514.5,224.1 515.0,223.7 515.5,223.6 516.0,224.1 516.5,223.3 517.0,223.3 517.5,222.7 518.0,222.7 518.5,222.1 519.0,222.5 519.5,222.7 520.0,222.8 520.5,222.3 521.0,221.9 521.5,221.5 522.0,221.0 522.5,220.9 523.0,220.9 523.5,220.2 524.0,220.5 524.5,219.6 525.0,219.0 525.5,218.9 526.0,218.4 526.5,218.1 527.0,218.5 527.5,217.8 528.0,217.7 528.5,217.8 529.0,217.5 529.5,216.7 530.0,217.0 530.5,216.3 531.0,215.8 531.5,215.5 532.0,214.7 532.5,214.5 533.0,214.4 533.5,214.3 534.0,213.6 534.5,213.2 535.0,213.0 535.5,212.6 536.0,211.9 536.5,211.7 537.0,210.8 537.5,210.6 538.0,210.5 538.5,210.0 539.0,209.5 539.5,209.7 540.0,208.7 540.5,208.0 541.0,208.0 541.5,207.9 542.0,206.9 542.5,206.7 543.0,205.8 543.5,205.3 544.0,204.9 544.5,204.7 545.0,204.9 545.5,203.6 546.0,203.9 546.5,202.5 547.0,202.2 547.5,201.8 548.0,201.1 548.5,200.5 549.0,199.4 549.5,199.6 550.0,198.8 550.5,199.4 551.0,198.1 551.5,197.7 552.0,196.8 552.5,196.4 553.0,195.6 553.5,195.8 554.0,194.9 554.5,194.5 555.0,193.6 555.5,193.1 556.0,193.0 556.5,191.6 557.0,190.7 557.5,190.7 558.0,189.6 558.5,189.2 559.0,189.0 559.5,187.9 560.0,187.9 560.5,186.9 561.0,186.9 561.5,186.3 562.0,185.2 562.5,184.6 563.0,183.8 563.5,183.5 564.0,183.1 564.5,181.7 565.0,181.7 565.5,180.3 566.0,179.7 566.5,178.6 567.0,178.9 567.5,177.5 568.0,176.8 568.5,175.8 569.0,175.6 569.5,174.0 570.0,174.0 570.5,174.0 571.0,172.6 571.5,172.1 572.0,171.7 572.5,170.6 573.0,170.2 573.5,169.8 574.0,168.9 574.5,168.3 575.0,167.3 575.5,166.8 576.0,165.9 576.5,165.7 577.0,164.8 577.5,163.8 578.0,162.5 578.5,162.9 579.0,162.3 579.5,161.2 580.0,160.3 580.5,160.0 581.0,160.0 581.5,158.7 582.0,158.1 582.5,157.5 583.0,157.1 583.5,155.9 584.0,155.0 584.5,154.1 585.0,153.9 585.5,152.9 586.0,151.7 586.5,150.6 587.0,150.2 587.5,150.2 588.0,149.3 588.5,149.5 589.0,149.1 589.5,148.8 590.0,148.7 590.5,148.4 591.0,147.8 591.5,147.7 592.0,148.3 592.5,147.0 593.0,147.1 593.5,147.4 594.0,146.9 594.5,146.5 595.0,146.2 595.5,146.7 596.0,146.8 596.5,146.9 597.0,146.6 597.5,147.1 598.0,146.7 598.5,147.2 599.0,147.1 599.5,147.6 600.0,148.0 600.5,148.4 601.0,148.2 601.5,149.2 602.0,149.1 602.5,149.4 603.0,150.1 603.5,150.2 604.0,151.2 604.5,151.8 605.0,152.2 605.5,153.0 606.0,153.2 606.5,153.8 607.0,153.8 607.5,154.6 608.0,154.8 608.5,155.4 609.0,156.0 609.5,156.6 610.0,156.7 610.5,157.4 611.0,158.4 611.5,159.3 612.0,160.0 612.5,160.9 613.0,161.7 613.5,162.1 614.0,162.7 614.5,163.1 615.0,164.0 615.5,165.0 616.0,166.1 616.5,166.9 617.0,167.7 617.5,168.5 618.0,169.7 618.5,170.4 619.0,171.4 619.5,172.4 620.0,173.1 620.5,173.9 621.0,175.2 621.5,176.1 622.0,176.9 622.5,177.7 623.0,179.5 623.5,179.5 624.0,180.6 624.5,181.6 625.0,182.0 625.5,183.1 626.0,184.4 626.5,184.8 627.0,185.5 627.5,186.1 628.0,186.7 628.5,187.6 629.0,188.0 629.5,188.6 630.0,189.4 630.5,190.4 631.0,190.9 631.5,191.8 632.0,191.8 632.5,193.5 633.0,194.6 633.5,195.1 634.0,195.4 634.5,196.1 635.0,197.2 635.5,197.5 636.0,198.8 636.5,199.1 637.0,200.2 637.5,201.1 638.0,200.7 638.5,202.2 639.0,202.6 639.5,203.1 640.0,204.0 640.5,204.8 641.0,205.8 641.5,205.7 642.0,207.1 642.5,208.0 643.0,208.2 643.5,208.9 644.0,209.5 644.5,209.9 645.0,211.2 645.5,211.8 646.0,212.7 646.5,213.9 647.0,214.1 647.5,214.7 648.0,215.9 648.5,215.8 649.0,216.7 649.5,217.7 650.0,218.5 650.5,219.7 651.0,220.1 651.5,221.5 652.0,222.2 652.5,222.8 653.0,223.3 653.5,224.4 654.0,225.4 654.5,225.7 655.0,227.0 655.5,228.0 656.0,228.7 656.5,229.9 657.0,230.5 657.5,230.6 658.0,231.5 658.5,231.9 659.0,232.9 659.5,233.1 660.0,234.2 660.5,234.5 661.0,235.2 661.5,235.3 662.0,235.4 662.5,236.8 663.0,236.8 663.5,237.8 664.0,238.2 664.5,239.0 665.0,240.2 665.5,240.5 666.0,241.5 666.5,241.2 667.0,242.4 667.5,242.5 668.0,243.0 668.5,243.5 669.0,244.1 669.5,245.1 670.0,244.6 670.5,245.8 671.0,246.2 671.5,247.3 672.0,247.4 672.5,248.2 673.0,248.6 673.5,249.5 674.0,250.2 674.5,250.4 675.0,251.2 675.5,251.3 676.0,252.4 676.5,253.1 677.0,253.1 677.5,254.1 678.0,253.7 678.5,254.2 679.0,254.9 679.5,255.6 680.0,256.2 680.5,256.6 681.0,257.0 681.5,257.6 682.0,257.6 682.5,257.8 683.0,258.1 683.5,259.5 684.0,258.5 684.5,259.6 685.0,260.5 685.5,260.6 686.0,260.6 686.5,261.2 687.0,261.7 687.5,262.1 688.0,261.8 688.5,262.7 689.0,263.1 689.5,263.9 690.0,264.5 690.5,264.6 691.0,264.9 691.5,266.1 692.0,267.1 692.5,267.2 693.0,267.6 693.5,268.6 694.0,268.0 694.5,268.9 695.0,268.8 695.5,269.3 696.0,269.6 696.5,270.3 697.0,269.8 697.5,270.2 698.0,270.1 698.5,271.0 699.0,271.1 699.5,271.7 700.0,271.6 700.5,272.2 701.0,273.0 701.5,273.1 702.0,273.7 702.5,274.1 703.0,274.4 703.5,274.5 704.0,275.7 704.5,275.8 705.0,276.5 705.5,275.9 706.0,276.4 706.5,276.6 707.0,277.2 707.5,278.0 708.0,278.1 708.5,278.1 709.0,278.3 709.5,278.7 710.0,278.6 710.5,279.0 711.0,279.2 711.5,278.7 712.0,279.4 712.5,280.1 713.0,279.8 713.5,280.1 714.0,280.1 714.5,280.5 715.0,281.3 715.5,281.3 716.0,281.5 716.5,281.4 717.0,282.5 717.5,282.5 718.0,282.8 718.5,283.7 719.0,283.8 719.5,283.1 720.0,284.0 720.5,283.9 721.0,283.6 721.5,284.1 722.0,283.6 722.5,283.9 723.0,284.1 723.5,284.4 724.0,285.2 724.5,284.8 725.0,285.0 725.5,285.2 726.0,285.6 726.5,285.5 727.0,285.9 727.5,285.6 728.0,285.8 728.5,286.4 729.0,287.0 729.5,287.2 730.0,288.1 730.5,289.0 731.0,288.7 731.5,289.2 732.0,289.8 732.5,289.2 733.0,289.2 733.5,289.0 734.0,289.4 734.5,289.5 735.0,289.4 735.5,289.5 736.0,290.1 736.5,290.1 737.0,289.5 737.5,290.1 738.0,290.2 738.5,290.5 739.0,290.4 739.5,290.5 740.0,290.8 740.5,290.8 741.0,291.7 741.5,291.8 742.0,292.4 742.5,292.1 743.0,292.3 743.5,292.1 744.0,292.1 744.5,292.6 745.0,292.4 745.5,292.8 746.0,292.5 746.5,293.1 747.0,292.7 747.5,293.2 748.0,293.3 748.5,293.8 749.0,293.8 749.5,293.9 750.0,294.3 750.5,294.1 751.0,294.3 751.5,294.4 752.0,294.2 752.5,294.1 753.0,294.4 753.5,294.3 754.0,294.6 754.5,294.8 755.0,294.8 755.5,294.5 756.0,294.3 756.5,294.8 757.0,294.9 757.5,295.4 758.0,295.1 758.5,295.4 759.0,295.9 759.5,295.9 760.0,296.2 760.5,297.1 761.0,297.2 761.5,297.1 762.0,297.1 762.5,296.8 763.0,297.3 763.5,297.1 764.0,297.1 764.5,296.9 765.0,297.0 765.5,296.9 766.0,297.0 766.5,297.2 767.0,296.9 767.5,296.3 768.0,296.6 768.5,296.4 769.0,296.7 769.5,297.2 770.0,297.2 770.5,296.9 771.0,297.3 771.5,297.1 772.0,297.2 772.5,297.4 773.0,297.9 773.5,298.8 774.0,298.2 774.5,299.1 775.0,299.1 775.5,298.7 776.0,298.8 776.5,298.6 777.0,298.9 777.5,299.3 778.0,299.2 778.5,299.7 779.0,299.9 779.5,299.9 780.0,300.0 780.5,300.0 781.0,300.2 781.5,299.9 782.0,300.5 782.5,300.5 783.0,300.3 783.5,301.2 784.0,300.4 784.5,300.4 785.0,300.8 785.5,300.2 786.0,300.6 786.5,300.5 787.0,300.9 787.5,301.4 788.0,301.7 788.5,302.1 789.0,302.2 789.5,302.4 790.0,302.3 790.5,302.0 791.0,302.6 791.5,302.2 792.0,302.3 792.5,303.1 793.0,302.9 793.5,302.8 794.0,303.1 794.5,303.2 795.0,302.7 795.5,303.2 796.0,303.0 796.5,303.6 797.0,303.4 797.5,304.1 798.0,303.9 798.5,303.4 799.0,303.7 799.5,303.3 800.0,303.8 800.5,304.1 801.0,304.2 801.5,303.8 802.0,304.5 802.5,304.9 803.0,304.9 803.5,305.3 804.0,304.6 804.5,305.2 805.0,304.8 805.5,305.2 806.0,305.3 806.5,305.5 807.0,305.3 807.5,305.6 808.0,305.4 808.5,305.4 809.0,306.1 809.5,306.0 810.0,305.6 810.5,306.0 811.0,306.3 811.5,306.8 812.0,306.7 812.5,306.6 813.0,305.9 813.5,306.5 814.0,306.8 814.5,306.9 815.0,307.1 815.5,306.9 816.0,307.6 816.5,307.5 817.0,307.0 817.5,306.7 818.0,307.7 818.5,306.9 819.0,307.5 819.5,307.7 820.0,306.9 820.5,307.3 821.0,307.1 821.5,307.3 822.0,307.2 822.5,307.6 823.0,307.2 823.5,307.0 824.0,307.5 824.5,307.2 825.0,307.3 825.5,308.3 826.0,307.6 826.5,307.9 827.0,308.2 827.5,308.0 828.0,307.8 828.5,308.8 829.0,308.2 829.5,308.2 830.0,308.2 830.5,308.0 831.0,308.1 831.5,308.6 832.0,309.4 832.5,309.0 833.0,309.2 833.5,308.6 834.0,309.0 834.5,308.7 835.0,309.3 835.5,309.0 836.0,309.1 836.5,309.1 837.0,309.1 837.5,308.9 838.0,309.8 838.5,309.4 839.0,309.6 839.5,310.0 840.0,310.0 840.5,310.4 841.0,310.6 841.5,310.4 842.0,310.4 842.5,310.4 843.0,310.7 843.5,309.9 844.0,310.6 844.5,310.3 845.0,310.3 845.5,310.7 846.0,310.6 846.5,311.0 847.0,311.3 847.5,310.3 848.0,311.1 848.5,311.8 849.0,311.6 849.5,311.9 850.0,311.6 850.5,311.3 851.0,311.5 851.5,312.2 852.0,312.3 852.5,311.9 853.0,312.1 853.5,312.2 854.0,311.6 854.5,311.9 855.0,312.4 855.5,312.4 856.0,311.6 856.5,312.1 857.0,311.3 857.5,311.3 858.0,310.9 858.5,312.0 859.0,311.7 859.5,312.7 860.0,312.2 860.5,312.3 861.0,311.7 861.5,312.8 862.0,312.4 862.5,312.6 863.0,312.0 863.5,313.0 864.0,313.1 864.5,312.6 865.0,312.7 865.5,312.8 866.0,313.0 866.5,312.9 867.0,313.4" stroke="#0000f0"/>
<path d="M115.0,359.3 115.5,357.7 116.0,360.1 116.5,360.4 117.0,362.8 117.5,362.4 118.0,360.8 118.5,361.2 119.0,360.9 119.5,361.0 120.0,365.1 120.5,354.5 121.0,361.2 121.5,363.2 122.0,366.2 122.5,360.9 123.0,365.3 123.5,367.0 124.0,363.5 124.5,359.5 125.0,363.5 125.5,361.1 126.0,365.8 126.5,361.4 127.0,367.9 127.5,362.7 128.0,359.3 128.5,359.4 129.0,357.2 129.5,360.8 130.0,363.6 130.5,359.0 131.0,362.3 131.5,357.5 132.0,361.3 132.5,367.2 133.0,357.6 133.5,365.1 134.0,365.2 134.5,357.1 135.0,358.3 135.5,359.4 136.0,364.6 136.5,360.8 137.0,361.5 137.5,363.8 138.0,362.4 138.5,362.9 139.0,361.7 139.5,366.0 140.0,361.4 140.5,368.4 141.0,363.3 141.5,362.2 142.0,366.1 142.5,365.5 143.0,358.8 143.5,364.7 144.0,360.4 144.5,361.7 145.0,365.9 145.5,361.2 146.0,364.1 146.5,361.8 147.0,367.7 147.5,362.1 148.0,359.2 148.5,359.5 149.0,360.3 149.5,363.5 150.0,363.7 150.5,366.8 151.0,365.0 151.5,365.1 152.0,365.7 152.5,364.4 153.0,365.3 153.5,366.3 154.0,366.0 154.5,362.3 155.0,359.0 155.5,361.7 156.0,365.0 156.5,358.2 157.0,364.3 157.5,367.5 158.0,365.5 158.5,364.5 159.0,372.6 159.5,371.6 160.0,366.8 160.5,370.4 161.0,369.4 161.5,361.8 162.0,371.1 162.5,360.7 163.0,362.2 163.5,359.9 164.0,363.3 164.5,359.9 165.0,363.8 165.5,366.9 166.0,364.6 166.5,363.3 167.0,368.2 167.5,361.6 168.0,366.6 168.5,363.2 169.0,364.4 169.5,363.7 170.0,363.7 170.5,363.1 171.0,361.3 171.5,362.3 172.0,365.8 172.5,365.2 173.0,363.1 173.5,364.8 174.0,364.8 174.5,365.9 175.0,365.6 175.5,364.2 176.0,361.0 176.5,361.9 177.0,357.5 177.5,353.1 178.0,360.7 178.5,356.5 179.0,358.6 179.5,358.1 180.0,363.4 180.5,358.7 181.0,362.9 181.5,360.9 182.0,358.7 182.5,357.6 183.0,363.0 183.5,362.6 184.0,363.7 184.5,366.7 185.0,362.7 185.5,362.9 186.0,362.0 186.5,362.6 187.0,361.4 187.5,360.0 188.0,367.9 188.5,357.8 189.0,364.0 189.5,364.9 190.0,364.3 190.5,361.3 191.0,363.1 191.5,362.1 192.0,360.2 192.5,362.9 193.0,362.0 193.5,362.0 194.0,365.8 194.5,361.6 195.0,366.2 195.5,363.7 196.0,366.6 196.5,365.3 197.0,365.1 197.5,361.0 198.0,360.6 198.5,359.4 199.0,361.4 199.5,362.2 200.0,362.5 200.5,357.9 201.0,359.4 201.5,354.9 202.0,353.8 202.5,358.0 203.0,359.2 203.5,357.5 204.0,357.4 204.5,364.0 205.0,360.6 205.5,358.4 206.0,369.4 206.5,363.8 207.0,362.6 207.5,365.5 208.0,361.9 208.5,368.4 209.0,360.1 209.5,360.8 210.0,364.0 210.5,362.3 211.0,368.0 211.5,359.7 212.0,361.8 212.5,364.2 213.0,365.0 213.5,366.3 214.0,365.0 214.5,370.6 215.0,364.2 215.5,366.7 216.0,369.0 216.5,366.0 217.0,365.6 217.5,364.2 218.0,362.4 218.5,359.7 219.0,360.0 219.5,356.3 220.0,360.9 220.5,355.1 221.0,364.8 221.5,363.7 222.0,362.2 222.5,359.0 223.0,358.5 223.5,364.0 224.0,361.9 224.5,363.5 225.0,360.7 225.5,366.1 226.0,361.5 226.5,364.3 227.0,359.5 227.5,362.2 228.0,364.9 228.5,361.7 229.0,360.9 229.5,363.3 230.0,360.2 230.5,363.2 231.0,353.2 231.5,361.6 232.0,362.2 232.5,357.5 233.0,358.9 233.5,365.3 234.0,360.2 234.5,361.1 235.0,364.0 235.5,361.2 236.0,363.3 236.5,360.0 237.0,363.7 237.5,366.4 238.0,364.7 238.5,357.9 239.0,365.2 239.5,363.2 240.0,360.2 240.5,366.4 241.0,358.3 241.5,368.6 242.0,362.5 242.5,369.0 243.0,365.1 243.5,361.8 244.0,365.5 244.5,365.9 245.0,366.1 245.5,366.9 246.0,361.0 246.5,364.1 247.0,364.4 247.5,361.4 248.0,359.6 248.5,359.5 249.0,364.0 249.5,363.8 250.0,359.0 250.5,357.2 251.0,363.7 251.5,355.9 252.0,360.3 252.5,357.6 253.0,355.0 253.5,360.2 254.0,359.6 254.5,364.2 255.0,366.6 255.5,360.1 256.0,363.2 256.5,363.0 257.0,358.5 257.5,357.4 258.0,364.1 258.5,359.1 259.0,360.4 259.5,360.1 260.0,360.9 260.5,359.9 261.0,363.7 261.5,365.1 262.0,360.7 262.5,357.9 263.0,361.6 263.5,357.2 264.0,359.0 264.5,363.6 265.0,366.0 265.5,360.3 266.0,356.1 266.5,361.0 267.0,352.9 267.5,357.2 268.0,363.1 268.5,360.8 269.0,354.8 269.5,353.6 270.0,360.1 270.5,357.5 271.0,355.8 271.5,358.2 272.0,355.0 272.5,350.8 273.0,357.6 273.5,353.4 274.0,352.5 274.5,352.2 275.0,357.2 275.5,355.2 276.0,359.8 276.5,358.1 277.0,362.1 277.5,358.6 278.0,358.3 278.5,355.2 279.0,357.9 279.5,363.0 280.0,369.4 280.5,357.8 281.0,358.2 281.5,361.7 282.0,361.6 282.5,358.0 283.0,359.4 283.5,354.2 284.0,357.0 284.5,359.6 285.0,361.1 285.5,355.8 286.0,355.1 286.5,356.8 287.0,358.3 287.5,356.5 288.0,353.0 288.5,355.8 289.0,357.3 289.5,352.6 290.0,350.9 290.5,356.0 291.0,355.9 291.5,358.0 292.0,356.3 292.5,355.1 293.0,356.6 293.5,355.9 294.0,356.9 294.5,358.4 295.0,358.7 295.5,363.0 296.0,356.6 296.5,359.5 297.0,357.8 297.5,363.1 298.0,359.5 298.5,357.4 299.0,360.3 299.5,358.1 300.0,356.5 300.5,361.9 301.0,359.7 301.5,362.6 302.0,361.1 302.5,360.0 303.0,357.9 303.5,354.2 304.0,358.3 304.5,355.8 305.0,356.7 305.5,354.4 306.0,352.4 306.5,351.6 307.0,356.5 307.5,358.4 308.0,354.5 308.5,356.6 309.0,359.0 309.5,352.8 310.0,353.9 310.5,351.6 311.0,357.8 311.5,355.5 312.0,353.8 312.5,350.9 313.0,355.2 313.5,358.5 314.0,355.2 314.5,354.7 315.0,357.3 315.5,352.0 316.0,355.0 316.5,356.1 317.0,352.1 317.5,351.7 318.0,354.2 318.5,352.9 319.0,352.0 319.5,352.6 320.0,352.0 320.5,348.3 321.0,348.4 321.5,351.0 322.0,352.5 322.5,353.1 323.0,347.2 323.5,352.3 324.0,351.2 324.5,348.7 325.0,349.6 325.5,349.9 326.0,352.0 326.5,344.0 327.0,348.1 327.5,345.9 328.0,345.4 328.5,348.8 329.0,347.7 329.5,342.6 330.0,344.4 330.5,345.7 331.0,341.3 331.5,347.3 332.0,344.7 332.5,345.1 333.0,345.2 333.5,348.8 334.0,343.7 334.5,342.4 335.0,347.7 335.5,341.6 336.0,341.5 336.5,339.3 337.0,346.1 337.5,344.1 338.0,344.8 338.5,343.9 339.0,342.6 339.5,339.9 340.0,338.6 340.5,340.3 341.0,337.8 341.5,340.1 342.0,332.2 342.5,331.9 343.0,329.8 343.5,336.0 344.0,329.3 344.5,335.2 345.0,337.5 345.5,333.6 346.0,336.1 346.5,328.4 347.0,332.6 347.5,328.6 348.0,332.6 348.5,331.1 349.0,327.9 349.5,331.5 350.0,329.3 350.5,326.5 351.0,326.3 351.5,323.7 352.0,326.9 352.5,332.6 353.0,324.2 353.5,326.1 354.0,322.2 354.5,324.2 355.0,321.4 355.5,317.7 356.0,311.8 356.5,313.6 357.0,316.9 357.5,312.2 358.0,314.0 358.5,310.8 359.0,307.1 359.5,313.1 360.0,312.5 360.5,309.4 361.0,309.0 361.5,309.5 362.0,305.7 362.5,306.8 363.0,304.0 363.5,297.1 364.0,301.8 364.5,299.4 365.0,297.5 365.5,299.4 366.0,295.6 366.5,296.9 367.0,296.9 367.5,292.9 368.0,287.0 368.5,287.8 369.0,290.9 369.5,286.4 370.0,283.6 370.5,284.2 371.0,284.5 371.5,282.7 372.0,282.7 372.5,277.8 373.0,278.4 373.5,277.4 374.0,276.5 374.5,269.1 375.0,272.0 375.5,267.1 376.0,272.5 376.5,271.4 377.0,270.1 377.5,266.2 378.0,261.2 378.5,263.4 379.0,258.8 379.5,259.5 380.0,254.1 380.5,253.7 381.0,255.3 381.5,257.5 382.0,251.3 382.5,256.1 383.0,256.1 383.5,244.1 384.0,246.2 384.5,242.4 385.0,243.2 385.5,240.5 386.0,240.0 386.5,241.0 387.0,239.1 387.5,235.5 388.0,233.2 388.5,231.9 389.0,230.4 389.5,230.1 390.0,227.2 390.5,227.1 391.0,221.0 391.5,225.3 392.0,226.4 392.5,220.7 393.0,214.8 393.5,220.4 394.0,214.0 394.5,205.2 395.0,211.0 395.5,211.8 396.0,210.0 396.5,211.4 397.0,208.9 397.5,207.0 398.0,200.8 398.5,202.5 399.0,205.4 399.5,206.1 400.0,200.8 400.5,201.3 401.0,203.5 401.5,196.4 402.0,195.5 402.5,199.2 403.0,199.5 403.5,196.5 404.0,190.7 404.5,195.9 405.0,191.3 405.5,195.6 406.0,192.5 406.5,192.5 407.0,192.7 407.5,189.2 408.0,192.9 408.5,194.4 409.0,192.8 409.5,196.0 410.0,191.3 410.5,195.9 411.0,194.6 411.5,191.4 412.0,193.9 412.5,192.7 413.0,192.7 413.5,194.6 414.0,197.6 414.5,194.6 415.0,196.7 415.5,193.5 416.0,198.8 416.5,202.5 417.0,202.2 417.5,201.6 418.0,199.1 418.5,198.1 419.0,200.8 419.5,197.9 420.0,198.9 420.5,205.5 421.0,201.4 421.5,209.6 422.0,202.0 422.5,207.9 423.0,204.5 423.5,208.7 424.0,205.7 424.5,208.7 425.0,208.2 425.5,207.5 426.0,210.5 426.5,213.8 427.0,209.0 427.5,213.8 428.0,212.5 428.5,213.0 429.0,219.7 429.5,208.9 430.0,213.8 430.5,211.8 431.0,217.1 431.5,218.7 432.0,230.8 432.5,222.9 433.0,228.1 433.5,228.3 434.0,225.6 434.5,230.3 435.0,235.9 435.5,234.4 436.0,236.9 436.5,239.7 437.0,236.3 437.5,239.9 438.0,244.4 438.5,246.0 439.0,242.8 439.5,244.8 440.0,245.4 440.5,245.2 441.0,247.3 441.5,245.5 442.0,245.5 442.5,241.3 443.0,242.5 443.5,246.7 444.0,242.2 444.5,248.2 445.0,246.8 445.5,247.5 446.0,252.4 446.5,249.5 447.0,249.5 447.5,250.2 448.0,252.1 448.5,259.3 449.0,246.2 449.5,251.9 450.0,251.6 450.5,255.4 451.0,252.7 451.5,248.0 452.0,259.0 452.5,253.3 453.0,256.6 453.5,253.3 454.0,254.2 454.5,255.8 455.0,259.4 455.5,259.2 456.0,255.2 456.5,258.1 457.0,255.9 457.5,257.6 458.0,258.4 458.5,260.7 459.0,258.8 459.5,261.4 460.0,263.6 460.5,264.2 461.0,262.5 461.5,269.5 462.0,263.6 462.5,266.6 463.0,264.6 463.5,266.7 464.0,257.0 464.5,267.9 465.0,261.7 465.5,259.0 466.0,263.0 466.5,269.3 467.0,265.5 467.5,262.0 468.0,265.2 468.5,271.1 469.0,264.5 469.5,268.4 470.0,268.5 470.5,275.6 471.0,269.8 471.5,275.0 472.0,270.6 472.5,271.2 473.0,276.6 473.5,275.8 474.0,269.4 474.5,275.6 475.0,275.3 475.5,271.7 476.0,273.7 476.5,273.7 477.0,271.5 477.5,271.1 478.0,270.8 478.5,271.8 479.0,269.0 479.5,272.6 480.0,269.0 480.5,273.6 481.0,273.6 481.5,271.6 482.0,277.2 482.5,280.5 483.0,279.3 483.5,272.5 484.0,280.0 484.5,277.6 485.0,277.4 485.5,276.5 486.0,278.6 486.5,282.7 487.0,280.9 487.5,278.8 488.0,278.5 488.5,279.5 489.0,282.5 489.5,286.2 490.0,278.6 490.5,281.5 491.0,280.4 491.5,279.1 492.0,281.7 492.5,281.6 493.0,276.0 493.5,276.9 494.0,283.1 494.5,281.2 495.0,282.3 495.5,280.1 496.0,280.8 496.5,283.1 497.0,280.4 497.5,278.6 498.0,281.4 498.5,283.9 499.0,279.1 499.5,285.4 500.0,285.2 500.5,281.9 501.0,285.0 501.5,285.5 502.0,287.8 502.5,288.1 503.0,282.7 503.5,282.2 504.0,287.9 504.5,284.6 505.0,284.5 505.5,283.4 506.0,285.9 506.5,277.9 507.0,283.5 507.5,277.9 508.0,281.7 508.5,283.1 509.0,275.9 509.5,280.9 510.0,279.5 510.5,280.1 511.0,281.6 511.5,279.4 512.0,280.2 512.5,285.1 513.0,285.9 513.5,282.3 514.0,279.9 514.5,289.6 515.0,285.9 515.5,283.4 516.0,279.3 516.5,280.3 517.0,282.6 517.5,279.7 518.0,287.0 518.5,283.7 519.0,285.0 519.5,281.7 520.0,282.2 520.5,282.4 521.0,284.6 521.5,282.3 522.0,281.4 522.5,282.1 523.0,281.2 523.5,284.2 524.0,279.5 524.5,277.3 525.0,280.0 525.5,284.0 526.0,278.7 526.5,280.3 527.0,278.9 527.5,280.5 528.0,279.5 528.5,276.0 529.0,277.0 529.5,279.7 530.0,279.8 530.5,279.2 531.0,279.0 531.5,276.1 532.0,276.2 532.5,279.9 533.0,274.5 533.5,277.6 534.0,272.9 534.5,276.9 535.0,276.0 535.5,274.6 536.0,279.1 536.5,275.3 537.0,275.8 537.5,275.4 538.0,273.4 538.5,278.4 539.0,272.8 539.5,274.3 540.0,270.3 540.5,272.9 541.0,274.0 541.5,275.1 542.0,275.4 542.5,278.2 543.0,282.3 543.5,277.6 544.0,276.7 544.5,274.6 545.0,280.8 545.5,277.0 546.0,273.1 546.5,272.9 547.0,268.9 547.5,270.4 548.0,271.6 548.5,271.6 549.0,269.1 549.5,269.2 550.0,272.3 550.5,271.4 551.0,264.8 551.5,270.6 552.0,273.9 552.5,269.3 553.0,272.0 553.5,267.9 554.0,274.0 554.5,268.7 555.0,267.9 555.5,269.7 556.0,276.3 556.5,268.0 557.0,265.9 557.5,270.0 558.0,268.7 558.5,271.5 559.0,262.5 559.5,260.3 560.0,262.5 560.5,263.5 561.0,263.0 561.5,264.8 562.0,258.1 562.5,260.3 563.0,262.5 563.5,265.6 564.0,265.1 564.5,263.2 565.0,262.0 565.5,267.4 566.0,268.0 566.5,272.8 567.0,265.2 567.5,269.9 568.0,262.1 568.5,263.4 569.0,262.4 569.5,262.2 570.0,260.3 570.5,260.5 571.0,261.2 571.5,259.8 572.0,262.7 572.5,260.9 573.0,261.5 573.5,265.9 574.0,263.2 574.5,263.0 575.0,262.5 575.5,262.4 576.0,263.0 576.5,258.4 577.0,262.4 577.5,262.4 578.0,260.3 578.5,255.3 579.0,252.0 579.5,255.1 580.0,256.9 580.5,259.1 581.0,256.8 581.5,256.6 582.0,261.3 582.5,255.1 583.0,259.1 583.5,258.1 584.0,251.6 584.5,255.5 585.0,253.2 585.5,252.3 586.0,250.2 586.5,251.4 587.0,257.1 587.5,255.4 588.0,257.5 588.5,254.4 589.0,256.9 589.5,257.7 590.0,255.0 590.5,255.3 591.0,261.2 591.5,260.5 592.0,257.5 592.5,259.5 593.0,261.4 593.5,264.3 594.0,257.0 594.5,260.7 595.0,264.4 595.5,258.7 596.0,262.4 596.5,251.8 597.0,262.8 597.5,259.5 598.0,255.2 598.5,262.9 599.0,264.2 599.5,265.2 600.0,265.7 600.5,262.8 601.0,261.1 601.5,262.1 602.0,263.5 602.5,265.0 603.0,263.2 603.5,265.2 604.0,267.9 604.5,267.0 605.0,272.6 605.5,272.5 606.0,263.9 606.5,265.4 607.0,263.3 607.5,263.5 608.0,267.8 608.5,263.7 609.0,263.8 609.5,266.5 610.0,270.5 610.5,269.1 611.0,271.1 611.5,276.4 612.0,277.1 612.5,278.7 613.0,281.4 613.5,277.6 614.0,282.2 614.5,281.2 615.0,286.7 615.5,287.0 616.0,282.5 616.5,288.9 617.0,282.1 617.5,287.9 618.0,284.9 618.5,281.6 619.0,280.4 619.5,281.9 620.0,282.1 620.5,279.9 621.0,283.2 621.5,278.1 622.0,282.2 622.5,282.6 623.0,278.1 623.5,284.3 624.0,280.5 624.5,277.7 625.0,283.3 625.5,285.0 626.0,288.9 626.5,286.2 627.0,292.3 627.5,292.9 628.0,292.4 628.5,293.2 629.0,290.6 629.5,288.1 630.0,291.3 630.5,292.5 631.0,291.3 631.5,291.2 632.0,289.2 632.5,296.9 633.0,297.9 633.5,295.1 634.0,300.2 634.5,302.7 635.0,301.0 635.5,303.5 636.0,303.4 636.5,297.3 637.0,300.2 637.5,302.1 638.0,303.1 638.5,304.6 639.0,296.3 639.5,302.3 640.0,305.8 640.5,308.9 641.0,311.8 641.5,306.4 642.0,309.2 642.5,308.3 643.0,313.9 643.5,308.7 644.0,315.7 644.5,315.5 645.0,314.6 645.5,307.7 646.0,311.9 646.5,315.7 647.0,310.0 647.5,313.2 648.0,313.5 648.5,316.1 649.0,314.3 649.5,313.9 650.0,311.6 650.5,312.4 651.0,312.0 651.5,314.5 652.0,312.4 652.5,316.3 653.0,309.8 653.5,318.6 654.0,316.2 654.5,321.1 655.0,319.7 655.5,323.1 656.0,326.1 656.5,321.8 657.0,324.5 657.5,324.7 658.0,326.5 658.5,322.1 659.0,326.1 659.5,325.8 660.0,324.0 660.5,325.2 661.0,321.1 661.5,328.6 662.0,326.1 662.5,330.0 663.0,323.0 663.5,322.5 664.0,326.8 664.5,322.1 665.0,327.6 665.5,325.7 666.0,327.3 666.5,329.3 667.0,329.0 667.5,334.0 668.0,330.8 668.5,325.9 669.0,332.3 669.5,326.5 670.0,330.7 670.5,327.5 671.0,328.8 671.5,334.6 672.0,329.7 672.5,329.7 673.0,330.5 673.5,332.0 674.0,337.9 674.5,332.1 675.0,333.3 675.5,339.2 676.0,334.2 676.5,338.1 677.0,342.6 677.5,340.0 678.0,338.9 678.5,338.4 679.0,337.7 679.5,338.4 680.0,340.1 680.5,342.9 681.0,342.2 681.5,338.3 682.0,338.2 682.5,342.6 683.0,336.6 683.5,341.2 684.0,342.6 684.5,341.8 685.0,343.4 685.5,348.0 686.0,343.4 686.5,345.8 687.0,346.8 687.5,349.0 688.0,345.3 688.5,352.1 689.0,348.5 689.5,348.7 690.0,348.2 690.5,346.9 691.0,345.5 691.5,350.6 692.0,347.7 692.5,346.9 693.0,350.2 693.5,346.5 694.0,351.0 694.5,350.3 695.0,348.4 695.5,352.9 696.0,346.5 696.5,351.6 697.0,346.6 697.5,349.3 698.0,351.3 698.5,348.6 699.0,345.3 699.5,346.7 700.0,346.0 700.5,344.1 701.0,345.0 701.5,349.0 702.0,351.5 702.5,346.7 703.0,352.4 703.5,354.8 704.0,354.2 704.5,351.3 705.0,356.6 705.5,350.6 706.0,355.5 706.5,358.2 707.0,348.6 707.5,354.8 708.0,354.7 708.5,354.1 709.0,350.9 709.5,351.3 710.0,347.6 710.5,350.9 711.0,351.2 711.5,347.5 712.0,346.5 712.5,347.8 713.0,349.3 713.5,350.0 714.0,350.1 714.5,351.3 715.0,348.4 715.5,345.4 716.0,355.2 716.5,358.1 717.0,351.2 717.5,353.5 718.0,356.0 718.5,357.1 719.0,355.3 719.5,355.8 720.0,350.9 720.5,351.0 721.0,350.0 721.5,347.1 722.0,351.0 722.5,349.3 723.0,350.0 723.5,346.3 724.0,350.1 724.5,344.6 725.0,348.4 725.5,340.3 726.0,344.3 726.5,348.6 727.0,345.1 727.5,346.7 728.0,342.2 728.5,351.3 729.0,349.7 729.5,349.2 730.0,351.4 730.5,352.0 731.0,355.3 731.5,352.3 732.0,347.7 732.5,350.7 733.0,354.7 733.5,352.9 734.0,350.4 734.5,353.1 735.0,351.6 735.5,352.4 736.0,345.8 736.5,346.6 737.0,349.8 737.5,346.8 738.0,348.0 738.5,352.3 739.0,346.6 739.5,348.4 740.0,346.6 740.5,346.7 741.0,348.4 741.5,344.8 742.0,343.1 742.5,352.0 743.0,347.6 743.5,350.3 744.0,347.1 744.5,346.6 745.0,347.4 745.5,347.0 746.0,341.4 746.5,347.5 747.0,341.5 747.5,344.6 748.0,350.9 748.5,344.7 749.0,349.1 749.5,343.9 750.0,346.4 750.5,344.7 751.0,345.2 751.5,341.1 752.0,340.1 752.5,342.4 753.0,336.3 753.5,337.2 754.0,340.2 754.5,336.2 755.0,334.9 755.5,333.9 756.0,337.0 756.5,335.4 757.0,336.7 757.5,335.9 758.0,341.5 758.5,335.8 759.0,332.0 759.5,337.6 760.0,337.2 760.5,337.1 761.0,331.6 761.5,337.8 762.0,333.4 762.5,332.3 763.0,327.5 763.5,332.8 764.0,331.8 764.5,336.4 765.0,332.7 765.5,331.3 766.0,335.4 766.5,332.8 767.0,336.2 767.5,331.9 768.0,334.0 768.5,333.2 769.0,333.2 769.5,331.6 770.0,330.4 770.5,332.3 771.0,330.9 771.5,333.0 772.0,332.2 772.5,327.5 773.0,333.9 773.5,338.4 774.0,336.4 774.5,338.0 775.0,338.3 775.5,336.3 776.0,334.3 776.5,340.0 777.0,340.5 777.5,339.1 778.0,338.6 778.5,338.2 779.0,336.6 779.5,336.6 780.0,335.0 780.5,334.8 781.0,330.7 781.5,331.1 782.0,334.2 782.5,332.3 783.0,327.4 783.5,334.7 784.0,328.9 784.5,340.1 785.0,337.0 785.5,336.7 786.0,333.1 786.5,331.6 787.0,333.8 787.5,334.2 788.0,331.9 788.5,334.3 789.0,335.8 789.5,335.9 790.0,332.3 790.5,330.1 791.0,336.4 791.5,335.4 792.0,338.8 792.5,342.2 793.0,342.3 793.5,338.8 794.0,340.7 794.5,341.6 795.0,336.9 795.5,336.8 796.0,337.6 796.5,334.8 797.0,333.3 797.5,332.5 798.0,334.5 798.5,333.0 799.0,337.0 799.5,334.6 800.0,340.1 800.5,340.5 801.0,335.6 801.5,343.0 802.0,340.4 802.5,346.0 803.0,344.2 803.5,342.9 804.0,344.5 804.5,341.0 805.0,343.1 805.5,343.3 806.0,342.2 806.5,344.1 807.0,340.8 807.5,345.1 808.0,340.6 808.5,345.3 809.0,344.9 809.5,345.6 810.0,342.3 810.5,351.5 811.0,343.1 811.5,344.0 812.0,341.7 812.5,347.4 813.0,342.6 813.5,346.6 814.0,342.0 814.5,345.8 815.0,345.0 815.5,349.3 816.0,347.1 816.5,346.4 817.0,350.4 817.5,346.6 818.0,347.4 818.5,351.8 819.0,344.8 819.5,351.1 820.0,347.7 820.5,346.0 821.0,348.6 821.5,349.6 822.0,346.5 822.5,347.9 823.0,350.9 823.5,351.4 824.0,349.9 824.5,348.7 825.0,348.7 825.5,350.0 826.0,353.5 826.5,353.4 827.0,352.8 827.5,355.6 828.0,351.3 828.5,351.2 829.0,351.1 829.5,356.8 830.0,346.3 830.5,352.1 831.0,352.6 831.5,352.0 832.0,358.6 832.5,356.8 833.0,356.9 833.5,353.6 834.0,357.6 834.5,355.3 835.0,356.0 835.5,356.1 836.0,354.2 836.5,357.1 837.0,360.0 837.5,358.9 838.0,357.0 838.5,351.4 839.0,358.5 839.5,357.7 840.0,353.6 840.5,352.2 841.0,354.8 841.5,351.1 842.0,355.5 842.5,351.3 843.0,352.3 843.5,355.2 844.0,351.7 844.5,355.5 845.0,356.8 845.5,352.0 846.0,357.6 846.5,353.8 847.0,356.8 847.5,356.4 848.0,355.2 848.5,355.7 849.0,353.4 849.5,356.5 850.0,356.7 850.5,363.0 851.0,361.4 851.5,355.2 852.0,360.5 852.5,358.8 853.0,357.0 853.5,358.8 854.0,359.2 854.5,355.3 855.0,355.5 855.5,356.4 856.0,353.3 856.5,356.2 857.0,355.7 857.5,354.5 858.0,354.5 858.5,357.9 859.0,359.8 859.5,358.7 860.0,355.9 860.5,360.0 861.0,358.3 861.5,359.1 862.0,360.3 862.5,354.7 863.0,356.4 863.5,354.9 864.0,353.9 864.5,361.0 865.0,358.2 865.5,351.6 866.0,357.4 866.5,355.5 867.0,360.4" stroke="#ff0000"/>
<path d="M115.0,412.1 115.5,412.7 116.0,411.9 116.5,411.8 117.0,411.8 117.5,411.9 118.0,411.7 118.5,411.7 119.0,410.9 119.5,411.4 120.0,411.2 120.5,411.2 121.0,411.5 121.5,410.9 122.0,411.7 122.5,411.7 123.0,411.2 123.5,411.6 124.0,412.1 124.5,411.5 125.0,411.8 125.5,411.6 126.0,411.5 126.5,411.5 127.0,411.7 127.5,412.2 128.0,412.0 128.5,411.5 129.0,411.9 129.5,411.6 130.0,411.4 130.5,411.8 131.0,411.5 131.5,411.5 132.0,412.4 132.5,411.5 133.0,412.2 133.5,411.6 134.0,412.0 134.5,411.9 135.0,411.7 135.5,411.2 136.0,411.9 136.5,411.9 137.0,411.7 137.5,411.9 138.0,412.1 138.5,411.4 139.0,411.4 139.5,410.8 140.0,411.1 140.5,411.1 141.0,411.7 141.5,411.3 142.0,411.3 142.5,411.7 143.0,411.1 143.5,411.8 144.0,411.4 144.5,411.4 145.0,411.9 145.5,411.6 146.0,411.9 146.5,411.0 147.0,411.4 147.5,411.1 148.0,411.0 148.5,410.5 149.0,411.3 149.5,411.0 150.0,410.7 150.5,410.6 151.0,410.7 151.5,411.4 152.0,411.0 152.5,411.0 153.0,411.4 153.5,411.3 154.0,411.4 154.5,411.6 155.0,411.6 155.5,411.8 156.0,411.3 156.5,411.8 157.0,411.7 157.5,411.8 158.0,411.6 158.5,411.3 159.0,411.2 159.5,411.5 160.0,411.0 160.5,410.8 161.0,411.4 161.5,411.6 162.0,411.3 162.5,411.5 163.0,411.2 163.5,411.4 164.0,411.8 164.5,411.7 165.0,411.5 165.5,411.3 166.0,410.8 166.5,411.3 167.0,411.4 167.5,411.5 168.0,411.8 168.5,411.3 169.0,411.4 169.5,410.7 170.0,411.3 170.5,411.2 171.0,411.3 171.5,411.1 172.0,411.0 172.5,411.3 173.0,410.7 173.5,411.0 174.0,411.1 174.5,410.4 175.0,410.2 175.5,410.5 176.0,410.4 176.5,410.5 177.0,410.5 177.5,410.2 178.0,410.6 178.5,410.9 179.0,410.5 179.5,410.6 180.0,410.3 180.5,410.9 181.0,411.2 181.5,410.3 182.0,410.9 182.5,411.1 183.0,410.7 183.5,410.9 184.0,410.7 184.5,410.8 185.0,411.1 185.5,411.3 186.0,411.1 186.5,411.3 187.0,411.0 187.5,410.5 188.0,411.1 188.5,410.9 189.0,410.2 189.5,410.8 190.0,410.4 190.5,410.3 191.0,410.9 191.5,409.7 192.0,410.0 192.5,410.7 193.0,410.5 193.5,410.3 194.0,411.1 194.5,410.7 195.0,410.1 195.5,410.2 196.0,410.6 196.5,410.8 197.0,409.7 197.5,410.4 198.0,410.2 198.5,409.9 199.0,410.4 199.5,410.1 200.0,410.4 200.5,410.9 201.0,410.5 201.5,410.4 202.0,410.1 202.5,409.8 203.0,409.7 203.5,408.9 204.0,409.1 204.5,409.4 205.0,409.1 205.5,409.3 206.0,409.9 206.5,410.1 207.0,409.5 207.5,409.5 208.0,409.9 208.5,409.8 209.0,409.5 209.5,409.8 210.0,409.8 210.5,409.7 211.0,410.6 211.5,410.2 212.0,410.1 212.5,410.1 213.0,410.7 213.5,410.1 214.0,409.6 214.5,409.9 215.0,409.9 215.5,409.8 216.0,410.0 216.5,410.1 217.0,409.9 217.5,409.8 218.0,410.1 218.5,409.2 219.0,409.8 219.5,409.5 220.0,409.5 220.5,408.7 221.0,409.9 221.5,408.9 222.0,409.1 222.5,409.5 223.0,409.0 223.5,409.0 224.0,408.3 224.5,408.7 225.0,408.8 225.5,408.9 226.0,408.5 226.5,408.6 227.0,408.6 227.5,408.2 228.0,408.1 228.5,408.9 229.0,408.1 229.5,408.8 230.0,408.4 230.5,408.9 231.0,408.2 231.5,408.6 232.0,408.5 232.5,408.3 233.0,408.5 233.5,408.1 234.0,408.3 234.5,408.2 235.0,408.5 235.5,408.3 236.0,407.9 236.5,408.2 237.0,408.4 237.5,408.2 238.0,408.9 238.5,408.7 239.0,408.8 239.5,408.3 240.0,408.4 240.5,408.7 241.0,407.9 241.5,408.4 242.0,408.3 242.5,408.1 243.0,408.2 243.5,407.9 244.0,408.2 244.5,407.9 245.0,407.9 245.5,408.7 246.0,408.2 246.5,407.8 247.0,408.8 247.5,408.3 248.0,407.4 248.5,408.4 249.0,408.5 249.5,408.2 250.0,408.5 250.5,407.9 251.0,408.0 251.5,407.6 252.0,408.0 252.5,408.5 253.0,408.3 253.5,408.4 254.0,407.8 254.5,408.2 255.0,407.9 255.5,408.3 256.0,407.6 256.5,407.8 257.0,407.2 257.5,407.9 258.0,407.0 258.5,407.3 259.0,408.0 259.5,407.3 260.0,407.0 260.5,407.4 261.0,407.5 261.5,407.4 262.0,406.5 262.5,407.1 263.0,406.3 263.5,407.5 264.0,406.8 264.5,406.6 265.0,406.8 265.5,406.7 266.0,406.2 266.5,407.0 267.0,406.5 267.5,406.0 268.0,407.0 268.5,407.0 269.0,406.9 269.5,406.6 270.0,406.1 270.5,406.5 271.0,406.7 271.5,406.3 272.0,406.4 272.5,405.6 273.0,406.0 273.5,405.7 274.0,404.8 274.5,404.6 275.0,404.7 275.5,404.9 276.0,404.9 276.5,404.5 277.0,404.5 277.5,404.3 278.0,404.3 278.5,404.3 279.0,404.0 279.5,403.7 280.0,403.5 280.5,403.0 281.0,403.0 281.5,402.4 282.0,402.8 282.5,402.2 283.0,402.3 283.5,402.0 284.0,402.2 284.5,402.4 285.0,402.3 285.5,402.1 286.0,401.8 286.5,402.0 287.0,401.8 287.5,401.7 288.0,401.7 288.5,401.0 289.0,400.4 289.5,400.8 290.0,400.2 290.5,400.4 291.0,401.1 291.5,400.9 292.0,400.5 292.5,400.4 293.0,400.4 293.5,399.6 294.0,400.0 294.5,399.5 295.0,399.9 295.5,398.9 296.0,399.3 296.5,398.6 297.0,398.8 297.5,397.9 298.0,398.1 298.5,397.4 299.0,396.9 299.5,396.7 300.0,396.5 300.5,396.2 301.0,396.3 301.5,395.8 302.0,394.6 302.5,395.1 303.0,394.4 303.5,394.7 304.0,394.7 304.5,393.8 305.0,393.5 305.5,393.7 306.0,393.3 306.5,393.7 307.0,393.3 307.5,393.3 308.0,393.6 308.5,392.8 309.0,392.9 309.5,392.4 310.0,392.6 310.5,392.7 311.0,392.6 311.5,392.0 312.0,391.6 312.5,391.4 313.0,391.1 313.5,391.5 314.0,391.8 314.5,390.6 315.0,390.6 315.5,391.6 316.0,390.6 316.5,391.0 317.0,390.4 317.5,390.9 318.0,390.7 318.5,390.4 319.0,390.4 319.5,390.1 320.0,390.1 320.5,390.3 321.0,389.9 321.5,389.2 322.0,388.9 322.5,388.9 323.0,388.8 323.5,388.8 324.0,388.6 324.5,389.1 325.0,388.9 325.5,389.0 326.0,388.8 326.5,388.8 327.0,388.0 327.5,388.5 328.0,387.7 328.5,387.4 329.0,387.2 329.5,387.0 330.0,386.8 330.5,386.5 331.0,386.2 331.5,385.6 332.0,386.0 332.5,385.6 333.0,385.3 333.5,385.9 334.0,384.3 334.5,384.6 335.0,384.7 335.5,384.4 336.0,384.2 336.5,383.2 337.0,383.1 337.5,383.2 338.0,382.7 338.5,383.0 339.0,382.3 339.5,382.1 340.0,382.1 340.5,381.7 341.0,381.5 341.5,381.0 342.0,380.8 342.5,380.2 343.0,379.9 343.5,378.9 344.0,378.3 344.5,378.2 345.0,377.5 345.5,376.3 346.0,375.8 346.5,374.7 347.0,374.9 347.5,373.0 348.0,373.4 348.5,371.9 349.0,371.7 349.5,370.8 350.0,370.0 350.5,369.6 351.0,368.7 351.5,367.6 352.0,366.5 352.5,366.5 353.0,365.4 353.5,364.1 354.0,363.0 354.5,362.2 355.0,361.1 355.5,360.4 356.0,358.6 356.5,357.7 357.0,356.3 357.5,355.7 358.0,354.7 358.5,352.9 359.0,351.8 359.5,350.8 360.0,349.0 360.5,347.5 361.0,346.8 361.5,345.3 362.0,343.8 362.5,343.0 363.0,341.4 363.5,339.6 364.0,339.1 364.5,337.8 365.0,337.3 365.5,335.6 366.0,334.5 366.5,333.6 367.0,332.5 367.5,330.9 368.0,330.2 368.5,329.0 369.0,328.4 369.5,327.6 370.0,325.4 370.5,324.3 371.0,323.2 371.5,322.1 372.0,320.9 372.5,319.9 373.0,319.0 373.5,317.0 374.0,315.7 374.5,314.3 375.0,313.9 375.5,312.6 376.0,310.3 376.5,308.8 377.0,307.9 377.5,306.6 378.0,304.8 378.5,302.8 379.0,301.1 379.5,299.1 380.0,296.9 380.5,295.8 381.0,293.5 381.5,291.5 382.0,290.0 382.5,288.0 383.0,286.9 383.5,285.6 384.0,283.3 384.5,282.4 385.0,281.0 385.5,278.8 386.0,276.5 386.5,274.9 387.0,273.3 387.5,271.4 388.0,269.9 388.5,268.8 389.0,267.4 389.5,266.4 390.0,264.7 390.5,264.6 391.0,263.4 391.5,262.5 392.0,261.3 392.5,261.2 393.0,259.9 393.5,259.8 394.0,258.9 394.5,257.6 395.0,257.1 395.5,257.1 396.0,256.2 396.5,255.3 397.0,255.0 397.5,254.6 398.0,254.1 398.5,254.0 399.0,253.7 399.5,253.6 400.0,253.7 400.5,252.9 401.0,253.1 401.5,252.4 402.0,251.9 402.5,251.3 403.0,250.6 403.5,249.7 404.0,249.1 404.5,248.2 405.0,247.9 405.5,247.1 406.0,246.9 406.5,246.8 407.0,246.0 407.5,245.7 408.0,244.7 408.5,245.0 409.0,244.1 409.5,244.1 410.0,244.0 410.5,244.4 411.0,244.3 411.5,244.6 412.0,244.8 412.5,245.8 413.0,246.0 413.5,246.9 414.0,247.4 414.5,246.6 415.0,247.3 415.5,248.1 416.0,248.8 416.5,249.0 417.0,249.5 417.5,250.1 418.0,250.6 418.5,251.4 419.0,251.8 419.5,252.0 420.0,253.1 420.5,254.2 421.0,254.8 421.5,255.8 422.0,256.5 422.5,257.2 423.0,258.2 423.5,258.6 424.0,259.0 424.5,259.8 425.0,260.6 425.5,261.8 426.0,261.8 426.5,262.6 427.0,262.8 427.5,262.4 428.0,263.5 428.5,263.5 429.0,263.7 429.5,264.1 430.0,265.4 430.5,264.9 431.0,265.9 431.5,267.1 432.0,267.8 432.5,268.0 433.0,269.3 433.5,270.1 434.0,271.0 434.5,272.1 435.0,272.5 435.5,273.4 436.0,274.8 436.5,274.6 437.0,275.9 437.5,276.9 438.0,277.2 438.5,278.1 439.0,278.6 439.5,279.7 440.0,280.1 440.5,281.1 441.0,281.7 441.5,282.0 442.0,282.5 442.5,283.3 443.0,283.9 443.5,284.2 444.0,285.7 444.5,286.2 445.0,287.1 445.5,287.1 446.0,288.4 446.5,289.4 447.0,289.5 447.5,289.5 448.0,290.5 448.5,291.1 449.0,291.8 449.5,292.3 450.0,293.2 450.5,293.5 451.0,294.3 451.5,294.7 452.0,295.6 452.5,296.5 453.0,296.6 453.5,297.6 454.0,297.7 454.5,298.5 455.0,299.1 455.5,300.0 456.0,299.9 456.5,301.0 457.0,300.7 457.5,301.6 458.0,302.4 458.5,302.8 459.0,302.7 459.5,303.0 460.0,303.9 460.5,303.6 461.0,304.3 461.5,304.2 462.0,304.4 462.5,305.3 463.0,305.2 463.5,305.2 464.0,304.9 464.5,305.7 465.0,306.0 465.5,306.3 466.0,307.1 466.5,306.4 467.0,307.3 467.5,307.5 468.0,307.4 468.5,308.3 469.0,307.6 469.5,308.1 470.0,308.2 470.5,307.7 471.0,308.2 471.5,308.7 472.0,309.7 472.5,310.3 473.0,310.7 473.5,311.1 474.0,310.7 474.5,311.7 475.0,311.6 475.5,312.2 476.0,312.3 476.5,312.6 477.0,312.2 477.5,312.3 478.0,311.8 478.5,312.2 479.0,311.9 479.5,312.6 480.0,312.1 480.5,312.4 481.0,312.3 481.5,312.6 482.0,313.0 482.5,312.9 483.0,313.3 483.5,313.1 484.0,314.0 484.5,313.6 485.0,314.1 485.5,314.5 486.0,313.1 486.5,313.6 487.0,313.9 487.5,314.3 488.0,313.9 488.5,314.3 489.0,314.0 489.5,314.5 490.0,314.0 490.5,314.7 491.0,313.6 491.5,314.0 492.0,315.1 492.5,314.7 493.0,314.4 493.5,315.4 494.0,315.0 494.5,315.0 495.0,314.5 495.5,314.8 496.0,314.8 496.5,314.2 497.0,314.9 497.5,314.7 498.0,315.2 498.5,315.1 499.0,314.4 499.5,314.2 500.0,314.3 500.5,314.2 501.0,313.8 501.5,313.7 502.0,313.8 502.5,313.7 503.0,313.8 503.5,313.4 504.0,312.9 504.5,312.5 505.0,313.1 505.5,312.6 506.0,312.5 506.5,312.3 507.0,311.7 507.5,311.9 508.0,311.0 508.5,311.4 509.0,310.9 509.5,311.5 510.0,310.7 510.5,310.3 511.0,310.1 511.5,310.0 512.0,309.3 512.5,309.2 513.0,308.9 513.5,309.6 514.0,308.6 514.5,307.8 515.0,308.4 515.5,308.8 516.0,307.5 516.5,308.7 517.0,307.4 517.5,307.5 518.0,306.8 518.5,306.6 519.0,306.0 519.5,305.7 520.0,305.1 520.5,305.8 521.0,304.8 521.5,304.9 522.0,304.6 522.5,304.1 523.0,304.2 523.5,304.0 524.0,303.8 524.5,303.9 525.0,303.8 525.5,303.3 526.0,303.1 526.5,303.1 527.0,303.2 527.5,303.4 528.0,303.2 528.5,302.7 529.0,302.7 529.5,302.2 530.0,302.2 530.5,301.7 531.0,301.5 531.5,301.0 532.0,300.8 532.5,301.2 533.0,300.0 533.5,300.1 534.0,299.7 534.5,300.0 535.0,300.1 535.5,299.4 536.0,298.5 536.5,299.4 537.0,299.3 537.5,298.4 538.0,298.7 538.5,298.5 539.0,297.7 539.5,298.4 540.0,298.2 540.5,298.0 541.0,297.3 541.5,297.2 542.0,297.0 542.5,297.1 543.0,296.4 543.5,297.0 544.0,296.5 544.5,295.6 545.0,296.6 545.5,295.9 546.0,295.4 546.5,295.3 547.0,294.4 547.5,294.7 548.0,293.6 548.5,293.7 549.0,294.2 549.5,293.9 550.0,293.2 550.5,292.9 551.0,293.3 551.5,292.8 552.0,292.7 552.5,292.7 553.0,291.9 553.5,292.2 554.0,291.0 554.5,291.8 555.0,290.6 555.5,290.7 556.0,290.5 556.5,290.8 557.0,290.7 557.5,290.4 558.0,290.4 558.5,290.3 559.0,290.0 559.5,289.2 560.0,288.8 560.5,288.6 561.0,289.0 561.5,288.7 562.0,288.5 562.5,288.4 563.0,288.1 563.5,287.7 564.0,287.3 564.5,286.9 565.0,287.6 565.5,287.2 566.0,286.2 566.5,286.3 567.0,286.3 567.5,286.6 568.0,285.8 568.5,286.1 569.0,286.4 569.5,285.5 570.0,285.9 570.5,286.1 571.0,285.8 571.5,286.6 572.0,286.1 572.5,285.7 573.0,285.1 573.5,285.6 574.0,285.4 574.5,285.1 575.0,285.2 575.5,285.0 576.0,285.6 576.5,286.1 577.0,286.3 577.5,286.4 578.0,286.5 578.5,286.1 579.0,286.2 579.5,286.6 580.0,286.3 580.5,285.7 581.0,286.0 581.5,286.0 582.0,285.9 582.5,285.6 583.0,285.4 583.5,285.8 584.0,286.2 584.5,285.8 585.0,285.6 585.5,286.0 586.0,285.6 586.5,286.2 587.0,286.2 587.5,286.8 588.0,286.7 588.5,287.3 589.0,288.0 589.5,287.5 590.0,287.6 590.5,288.3 591.0,288.5 591.5,288.8 592.0,288.8 592.5,289.3 593.0,289.3 593.5,288.7 594.0,289.4 594.5,289.7 595.0,290.1 595.5,289.7 596.0,289.9 596.5,290.8 597.0,290.6 597.5,291.2 598.0,291.6 598.5,292.0 599.0,292.0 599.5,291.8 600.0,292.7 600.5,292.4 601.0,292.7 601.5,293.8 602.0,293.9 602.5,293.7 603.0,294.3 603.5,294.8 604.0,295.1 604.5,295.2 605.0,296.5 605.5,296.9 606.0,297.2 606.5,297.3 607.0,297.9 607.5,298.4 608.0,298.3 608.5,299.0 609.0,299.3 609.5,300.1 610.0,300.4 610.5,300.2 611.0,300.8 611.5,301.9 612.0,301.4 612.5,302.1 613.0,302.2 613.5,303.2 614.0,303.3 614.5,303.7 615.0,303.9 615.5,304.6 616.0,305.4 616.5,305.7 617.0,305.5 617.5,306.7 618.0,306.5 618.5,306.7 619.0,307.5 619.5,307.8 620.0,308.4 620.5,309.0 621.0,309.8 621.5,310.2 622.0,310.4 622.5,311.6 623.0,311.7 623.5,312.7 624.0,313.0 624.5,313.4 625.0,313.8 625.5,314.6 626.0,314.7 626.5,315.0 627.0,316.0 627.5,315.6 628.0,316.8 628.5,317.4 629.0,317.6 629.5,318.5 630.0,318.6 630.5,318.7 631.0,318.9 631.5,319.8 632.0,319.7 632.5,320.3 633.0,321.3 633.5,321.8 634.0,322.7 634.5,322.4 635.0,322.2 635.5,323.3 636.0,323.8 636.5,323.6 637.0,324.5 637.5,324.9 638.0,324.4 638.5,324.8 639.0,324.9 639.5,325.8 640.0,326.1 640.5,326.4 641.0,326.1 641.5,326.5 642.0,326.6 642.5,327.0 643.0,327.5 643.5,327.9 644.0,328.9 644.5,329.4 645.0,329.8 645.5,329.8 646.0,329.7 646.5,329.9 647.0,330.2 647.5,330.1 648.0,330.4 648.5,330.7 649.0,331.0 649.5,331.6 650.0,331.7 650.5,332.7 651.0,332.3 651.5,333.3 652.0,333.0 652.5,334.3 653.0,334.4 653.5,334.3 654.0,334.8 654.5,335.0 655.0,335.7 655.5,336.3 656.0,337.4 656.5,336.6 657.0,337.9 657.5,337.8 658.0,338.4 658.5,339.0 659.0,339.3 659.5,339.5 660.0,339.6 660.5,339.9 661.0,340.2 661.5,340.9 662.0,340.4 662.5,341.0 663.0,341.2 663.5,341.6 664.0,341.9 664.5,342.8 665.0,343.4 665.5,343.4 666.0,343.0 666.5,343.8 667.0,343.8 667.5,344.7 668.0,345.3 668.5,345.5 669.0,346.0 669.5,346.1 670.0,346.0 670.5,346.5 671.0,347.6 671.5,348.3 672.0,349.0 672.5,348.9 673.0,349.3 673.5,349.7 674.0,350.3 674.5,350.2 675.0,350.3 675.5,351.3 676.0,351.4 676.5,351.8 677.0,351.7 677.5,352.5 678.0,352.4 678.5,352.8 679.0,353.7 679.5,354.0 680.0,354.6 680.5,355.2 681.0,355.1 681.5,356.0 682.0,355.6 682.5,356.4 683.0,356.1 683.5,356.8 684.0,357.0 684.5,357.4 685.0,357.9 685.5,357.4 686.0,358.4 686.5,358.4 687.0,359.1 687.5,359.5 688.0,359.7 688.5,360.0 689.0,360.2 689.5,361.0 690.0,361.0 690.5,361.8 691.0,361.6 691.5,362.9 692.0,362.6 692.5,363.7 693.0,363.5 693.5,364.1 694.0,364.1 694.5,364.5 695.0,364.4 695.5,365.0 696.0,364.9 696.5,365.1 697.0,365.7 697.5,365.2 698.0,366.2 698.5,366.1 699.0,366.0 699.5,366.8 700.0,366.9 700.5,367.7 701.0,367.2 701.5,367.6 702.0,367.9 702.5,367.5 703.0,368.5 703.5,368.3 704.0,369.3 704.5,369.8 705.0,369.7 705.5,369.7 706.0,370.7 706.5,371.2 707.0,371.7 707.5,371.8 708.0,371.8 708.5,372.4 709.0,372.5 709.5,373.6 710.0,373.1 710.5,373.4 711.0,373.8 711.5,373.6 712.0,374.0 712.5,374.2 713.0,374.2 713.5,374.5 714.0,375.1 714.5,375.1 715.0,374.8 715.5,375.3 716.0,376.0 716.5,375.8 717.0,376.3 717.5,376.5 718.0,376.9 718.5,377.0 719.0,377.2 719.5,377.3 720.0,377.9 720.5,377.8 721.0,378.9 721.5,378.6 722.0,378.7 722.5,379.3 723.0,379.2 723.5,379.5 724.0,379.7 724.5,379.8 725.0,380.1 725.5,380.5 726.0,381.4 726.5,381.1 727.0,381.4 727.5,381.6 728.0,382.1 728.5,382.7 729.0,381.9 729.5,382.6 730.0,382.7 730.5,382.8 731.0,383.3 731.5,383.0 732.0,383.9 732.5,383.9 733.0,383.7 733.5,384.6 734.0,384.6 734.5,384.8 735.0,384.1 735.5,384.5 736.0,384.5 736.5,385.0 737.0,385.4 737.5,384.6 738.0,385.4 738.5,385.7 739.0,386.4 739.5,386.4 740.0,386.2 740.5,386.8 741.0,386.6 741.5,386.7 742.0,387.0 742.5,386.9 743.0,387.2 743.5,386.8 744.0,388.3 744.5,388.3 745.0,388.4 745.5,388.2 746.0,388.3 746.5,389.0 747.0,389.4 747.5,390.3 748.0,390.0 748.5,389.5 749.0,390.0 749.5,390.1 750.0,389.8 750.5,390.4 751.0,390.4 751.5,390.3 752.0,390.5 752.5,391.1 753.0,391.7 753.5,391.2 754.0,391.3 754.5,392.1 755.0,391.2 755.5,392.6 756.0,391.9 756.5,392.3 757.0,392.7 757.5,391.7 758.0,391.9 758.5,393.1 759.0,392.5 759.5,392.9 760.0,393.4 760.5,394.1 761.0,394.5 761.5,394.4 762.0,394.4 762.5,394.5 763.0,394.7 763.5,395.1 764.0,394.8 764.5,395.5 765.0,394.8 765.5,395.4 766.0,396.0 766.5,396.1 767.0,395.9 767.5,395.7 768.0,395.9 768.5,396.3 769.0,396.5 769.5,396.4 770.0,396.1 770.5,396.3 771.0,396.7 771.5,396.8 772.0,396.1 772.5,396.5 773.0,396.2 773.5,396.6 774.0,398.0 774.5,397.1 775.0,397.2 775.5,397.4 776.0,397.4 776.5,397.5 777.0,398.3 777.5,398.4 778.0,399.2 778.5,398.5 779.0,399.3 779.5,399.7 780.0,398.7 780.5,399.6 781.0,399.0 781.5,399.7 782.0,400.0 782.5,399.6 783.0,399.8 783.5,399.7 784.0,400.2 784.5,400.7 785.0,400.5 785.5,400.7 786.0,401.1 786.5,401.4 787.0,400.8 787.5,401.5 788.0,401.4 788.5,401.9 789.0,402.3 789.5,402.2 790.0,402.8 790.5,402.3 791.0,402.6 791.5,402.6 792.0,403.0 792.5,403.1 793.0,403.0 793.5,402.8 794.0,403.2 794.5,403.2 795.0,403.6 795.5,403.3 796.0,403.8 796.5,403.4 797.0,402.7 797.5,403.2 798.0,402.8 798.5,403.6 799.0,403.9 799.5,403.8 800.0,404.3 800.5,404.0 801.0,404.1 801.5,404.9 802.0,405.1 802.5,404.7 803.0,405.2 803.5,405.1 804.0,405.1 804.5,405.4 805.0,405.1 805.5,404.9 806.0,405.2 806.5,405.5 807.0,405.2 807.5,406.2 808.0,406.4 808.5,406.3 809.0,406.4 809.5,408.0 810.0,407.2 810.5,407.4 811.0,407.7 811.5,407.4 812.0,407.3 812.5,407.5 813.0,407.2 813.5,407.9 814.0,407.4 814.5,408.2 815.0,408.3 815.5,407.6 816.0,408.7 816.5,407.6 817.0,408.2 817.5,407.6 818.0,407.8 818.5,407.5 819.0,408.6 819.5,408.2 820.0,408.6 820.5,408.4 821.0,408.5 821.5,408.5 822.0,408.6 822.5,409.1 823.0,409.3 823.5,409.4 824.0,409.3 824.5,409.9 825.0,410.3 825.5,410.1 826.0,410.4 826.5,410.3 827.0,410.1 827.5,410.2 828.0,410.3 828.5,410.6 829.0,410.7 829.5,411.2 830.0,410.6 830.5,410.3 831.0,411.2 831.5,410.8 832.0,410.9 832.5,411.7 833.0,411.4 833.5,411.2 834.0,411.4 834.5,411.3 835.0,411.6 835.5,411.2 836.0,411.2 836.5,411.3 837.0,412.0 837.5,412.0 838.0,411.4 838.5,412.0 839.0,411.6 839.5,412.1 840.0,411.8 840.5,412.3 841.0,412.2 841.5,412.3 842.0,412.5 842.5,412.7 843.0,412.6 843.5,412.4 844.0,413.4 844.5,412.9 845.0,412.5 845.5,412.3 846.0,412.2 846.5,412.8 847.0,413.3 847.5,412.3 848.0,412.7 848.5,412.3 849.0,413.3 849.5,413.1 850.0,413.2 850.5,413.5 851.0,413.7 851.5,413.6 852.0,413.2 852.5,413.0 853.0,413.3 853.5,413.2 854.0,414.5 854.5,414.0 855.0,414.2 855.5,414.4 856.0,415.0 856.5,414.3 857.0,414.8 857.5,414.5 858.0,414.3 858.5,413.7 859.0,414.5 859.5,413.9 860.0,413.9 860.5,414.1 861.0,414.1 861.5,414.5 862.0,414.1 862.5,414.5 863.0,414.7 863.5,414.7 864.0,415.1 864.5,414.9 865.0,415.5 865.5,415.0 866.0,414.8 866.5,415.2 867.0,415.5" stroke="#6600dd"/>
<path d="M115.0,476.0 115.5,476.1 116.0,476.0 116.5,476.4 117.0,475.3 117.5,476.0 118.0,476.3 118.5,476.2 119.0,475.7 119.5,475.6 120.0,475.8 120.5,476.1 121.0,476.2 121.5,476.3 122.0,476.5 122.5,476.0 123.0,476.0 123.5,476.0 124.0,475.9 124.5,476.1 125.0,476.1 125.5,476.6 126.0,475.9 126.5,475.6 127.0,476.0 127.5,475.3 128.0,475.7 128.5,476.0 129.0,475.9 129.5,475.8 130.0,475.4 130.5,475.0 131.0,475.3 131.5,475.1 132.0,475.6 132.5,475.4 133.0,475.8 133.5,475.4 134.0,476.4 134.5,476.0 135.0,476.0 135.5,476.2 136.0,476.4 136.5,476.9 137.0,476.7 137.5,476.1 138.0,476.4 138.5,476.2 139.0,475.7 139.5,475.9 140.0,475.5 140.5,475.8 141.0,475.3 141.5,475.8 142.0,475.8 142.5,475.9 143.0,475.9 143.5,476.6 144.0,476.2 144.5,476.4 145.0,476.6 145.5,476.7 146.0,476.6 146.5,476.3 147.0,476.2 147.5,476.3 148.0,476.4 148.5,476.5 149.0,476.5 149.5,476.8 150.0,476.4 150.5,476.9 151.0,476.5 151.5,476.0 152.0,476.3 152.5,475.0 153.0,476.2 153.5,475.9 154.0,475.8 154.5,475.2 155.0,476.5 155.5,475.8 156.0,476.0 156.5,476.5 157.0,476.3 157.5,476.2 158.0,476.7 158.5,476.2 159.0,476.6 159.5,476.2 160.0,476.4 160.5,475.5 161.0,476.1 161.5,475.7 162.0,476.2 162.5,475.4 163.0,476.2 163.5,476.0 164.0,476.1 164.5,475.8 165.0,476.3 165.5,476.4 166.0,476.0 166.5,475.9 167.0,476.1 167.5,476.8 168.0,476.4 168.5,476.7 169.0,476.5 169.5,476.5 170.0,476.6 170.5,476.4 171.0,476.9 171.5,476.5 172.0,476.5 172.5,475.9 173.0,476.3 173.5,475.9 174.0,475.9 174.5,476.3 175.0,475.5 175.5,475.8 176.0,476.1 176.5,476.3 177.0,475.9 177.5,476.2 178.0,476.1 178.5,475.7 179.0,475.3 179.5,475.2 180.0,475.9 180.5,475.7 181.0,475.2 181.5,475.4 182.0,475.4 182.5,475.5 183.0,475.6 183.5,476.4 184.0,475.6 184.5,475.9 185.0,475.7 185.5,475.7 186.0,475.6 186.5,475.6 187.0,475.4 187.5,475.6 188.0,475.5 188.5,475.1 189.0,475.9 189.5,475.0 190.0,475.6 190.5,476.2 191.0,475.4 191.5,476.0 192.0,476.0 192.5,475.7 193.0,474.9 193.5,475.9 194.0,475.4 194.5,475.2 195.0,475.7 195.5,475.0 196.0,475.6 196.5,475.1 197.0,475.5 197.5,475.1 198.0,475.4 198.5,475.3 199.0,475.4 199.5,475.7 200.0,475.6 200.5,475.6 201.0,476.0 201.5,475.6 202.0,475.0 202.5,475.5 203.0,475.6 203.5,475.9 204.0,475.8 204.5,475.7 205.0,475.2 205.5,475.3 206.0,474.4 206.5,475.1 207.0,474.7 207.5,474.7 208.0,474.4 208.5,474.6 209.0,474.5 209.5,474.9 210.0,474.3 210.5,475.0 211.0,474.8 211.5,475.3 212.0,474.6 212.5,474.5 213.0,474.6 213.5,474.6 214.0,474.6 214.5,474.4 215.0,474.4 215.5,474.6 216.0,474.6 216.5,474.2 217.0,474.0 217.5,474.1 218.0,474.2 218.5,473.8 219.0,474.0 219.5,474.1 220.0,474.0 220.5,473.7 221.0,473.8 221.5,473.4 222.0,473.8 222.5,474.2 223.0,473.8 223.5,474.6 224.0,474.7 224.5,474.2 225.0,474.6 225.5,473.9 226.0,474.0 226.5,474.2 227.0,474.2 227.5,474.1 228.0,473.8 228.5,474.6 229.0,474.1 229.5,474.1 230.0,474.2 230.5,474.1 231.0,474.0 231.5,474.0 232.0,473.7 232.5,474.7 233.0,474.0 233.5,473.8 234.0,474.0 234.5,473.7 235.0,474.7 235.5,474.2 236.0,474.4 236.5,474.3 237.0,474.0 237.5,473.9 238.0,473.4 238.5,473.5 239.0,473.3 239.5,473.5 240.0,473.3 240.5,474.0 241.0,473.9 241.5,473.7 242.0,473.2 242.5,474.0 243.0,474.1 243.5,473.8 244.0,473.4 244.5,474.0 245.0,474.2 245.5,473.2 246.0,474.0 246.5,473.1 247.0,473.6 247.5,474.0 248.0,473.4 248.5,473.4 249.0,473.2 249.5,473.3 250.0,474.0 250.5,473.8 251.0,473.3 251.5,473.3 252.0,473.4 252.5,474.0 253.0,473.3 253.5,473.4 254.0,472.7 254.5,472.3 255.0,473.0 255.5,472.6 256.0,472.4 256.5,472.6 257.0,472.7 257.5,472.8 258.0,472.5 258.5,473.3 259.0,473.0 259.5,473.0 260.0,472.5 260.5,472.6 261.0,472.4 261.5,472.6 262.0,472.4 262.5,472.2 263.0,471.9 263.5,471.6 264.0,471.7 264.5,471.7 265.0,471.6 265.5,471.3 266.0,472.2 266.5,471.7 267.0,471.0 267.5,471.2 268.0,471.2 268.5,471.7 269.0,472.0 269.5,471.4 270.0,471.9 270.5,471.6 271.0,471.9 271.5,471.9 272.0,471.5 272.5,471.5 273.0,471.1 273.5,470.8 274.0,470.4 274.5,470.7 275.0,470.4 275.5,470.1 276.0,470.1 276.5,470.0 277.0,469.7 277.5,469.9 278.0,470.4 278.5,470.0 279.0,470.5 279.5,469.8 280.0,469.7 280.5,470.1 281.0,470.3 281.5,469.9 282.0,470.2 282.5,470.3 283.0,470.3 283.5,470.0 284.0,470.0 284.5,469.6 285.0,470.1 285.5,470.3 286.0,470.7 286.5,469.9 287.0,470.0 287.5,469.9 288.0,470.3 288.5,469.0 289.0,469.3 289.5,470.1 290.0,469.6 290.5,469.0 291.0,469.3 291.5,469.6 292.0,469.5 292.5,469.3 293.0,469.1 293.5,469.5 294.0,469.1 294.5,469.2 295.0,469.0 295.5,468.8 296.0,469.4 296.5,468.8 297.0,469.2 297.5,468.9 298.0,468.9 298.5,468.8 299.0,468.6 299.5,468.7 300.0,468.8 300.5,468.8 301.0,468.5 301.5,467.8 302.0,468.1 302.5,467.7 303.0,468.0 303.5,467.0 304.0,467.7 304.5,467.0 305.0,467.4 305.5,466.8 306.0,467.2 306.5,466.8 307.0,466.3 307.5,466.6 308.0,467.0 308.5,467.1 309.0,466.4 309.5,466.7 310.0,466.7 310.5,466.6 311.0,466.5 311.5,466.0 312.0,465.6 312.5,466.1 313.0,465.8 313.5,466.1 314.0,465.6 314.5,465.8 315.0,465.2 315.5,465.4 316.0,465.1 316.5,465.0 317.0,464.5 317.5,464.6 318.0,464.3 318.5,464.4 319.0,464.6 319.5,465.3 320.0,464.4 320.5,464.5 321.0,464.3 321.5,464.5 322.0,464.1 322.5,464.1 323.0,463.8 323.5,464.2 324.0,463.8 324.5,462.8 325.0,463.4 325.5,463.3 326.0,462.6 326.5,462.9 327.0,463.0 327.5,462.7 328.0,462.8 328.5,462.0 329.0,462.6 329.5,462.4 330.0,462.1 330.5,461.8 331.0,461.7 331.5,461.5 332.0,461.9 332.5,461.7 333.0,462.2 333.5,461.4 334.0,461.9 334.5,461.2 335.0,461.1 335.5,460.7 336.0,460.9 336.5,460.5 337.0,460.5 337.5,460.5 338.0,459.8 338.5,459.8 339.0,459.7 339.5,459.1 340.0,458.7 340.5,458.6 341.0,458.3 341.5,458.0 342.0,457.6 342.5,456.6 343.0,456.3 343.5,455.9 344.0,454.6 344.5,454.2 345.0,453.2 345.5,452.8 346.0,452.7 346.5,451.7 347.0,450.9 347.5,450.8 348.0,450.3 348.5,450.1 349.0,448.9 349.5,448.6 350.0,448.4 350.5,447.5 351.0,447.9 351.5,446.5 352.0,446.4 352.5,445.7 353.0,445.3 353.5,445.2 354.0,444.5 354.5,444.0 355.0,443.2 355.5,441.8 356.0,441.8 356.5,440.4 357.0,440.0 357.5,439.2 358.0,438.2 358.5,437.7 359.0,436.5 359.5,436.4 360.0,435.2 360.5,434.5 361.0,433.5 361.5,432.7 362.0,431.5 362.5,431.1 363.0,429.1 363.5,428.4 364.0,427.0 364.5,425.6 365.0,424.5 365.5,422.8 366.0,421.9 366.5,420.6 367.0,419.0 367.5,417.8 368.0,416.0 368.5,414.4 369.0,413.4 369.5,412.0 370.0,411.4 370.5,408.9 371.0,407.6 371.5,405.9 372.0,404.5 372.5,402.1 373.0,400.5 373.5,398.4 374.0,396.3 374.5,394.3 375.0,392.4 375.5,391.0 376.0,388.5 376.5,386.2 377.0,384.0 377.5,381.5 378.0,379.2 378.5,376.6 379.0,374.2 379.5,371.6 380.0,368.3 380.5,366.3 381.0,364.1 381.5,360.8 382.0,358.5 382.5,356.3 383.0,354.3 383.5,352.1 384.0,350.0 384.5,348.7 385.0,347.6 385.5,346.1 386.0,345.4 386.5,343.9 387.0,342.5 387.5,341.7 388.0,341.0 388.5,340.1 389.0,339.5 389.5,338.5 390.0,338.1 390.5,337.1 391.0,336.6 391.5,335.4 392.0,335.0 392.5,334.9 393.0,334.3 393.5,334.0 394.0,333.4 394.5,332.7 395.0,333.0 395.5,332.5 396.0,331.4 396.5,331.3 397.0,331.1 397.5,330.8 398.0,330.0 398.5,329.1 399.0,329.1 399.5,328.1 400.0,328.0 400.5,327.1 401.0,326.8 401.5,326.1 402.0,325.4 402.5,324.1 403.0,323.6 403.5,322.3 404.0,320.7 404.5,319.5 405.0,317.8 405.5,316.0 406.0,314.1 406.5,311.5 407.0,310.0 407.5,308.0 408.0,306.2 408.5,305.4 409.0,303.5 409.5,302.0 410.0,301.2 410.5,300.1 411.0,298.8 411.5,299.0 412.0,299.2 412.5,299.7 413.0,301.9 413.5,303.2 414.0,305.5 414.5,307.1 415.0,310.5 415.5,312.5 416.0,315.7 416.5,318.6 417.0,323.4 417.5,327.8 418.0,332.3 418.5,335.2 419.0,340.3 419.5,343.8 420.0,345.8 420.5,349.5 421.0,352.6 421.5,355.9 422.0,358.1 422.5,361.2 423.0,363.9 423.5,366.7 424.0,369.1 424.5,372.0 425.0,374.4 425.5,376.0 426.0,378.9 426.5,380.3 427.0,382.3 427.5,384.4 428.0,385.7 428.5,387.4 429.0,388.8 429.5,390.1 430.0,391.0 430.5,392.1 431.0,393.8 431.5,394.9 432.0,395.9 432.5,396.9 433.0,398.3 433.5,399.1 434.0,399.8 434.5,401.4 435.0,402.6 435.5,403.7 436.0,404.2 436.5,405.2 437.0,406.4 437.5,407.0 438.0,407.9 438.5,409.0 439.0,409.6 439.5,410.8 440.0,411.1 440.5,412.2 441.0,412.7 441.5,413.6 442.0,413.3 442.5,413.6 443.0,414.3 443.5,414.1 444.0,414.5 444.5,415.2 445.0,415.7 445.5,415.6 446.0,416.5 446.5,416.7 447.0,417.2 447.5,417.6 448.0,417.9 448.5,418.7 449.0,418.9 449.5,419.1 450.0,419.6 450.5,420.2 451.0,420.5 451.5,421.0 452.0,420.8 452.5,421.1 453.0,421.8 453.5,421.3 454.0,421.9 454.5,421.7 455.0,421.4 455.5,421.3 456.0,422.1 456.5,422.0 457.0,422.4 457.5,422.4 458.0,423.5 458.5,423.3 459.0,423.4 459.5,423.6 460.0,423.6 460.5,423.6 461.0,423.8 461.5,423.6 462.0,423.1 462.5,424.3 463.0,424.5 463.5,424.7 464.0,425.5 464.5,424.9 465.0,424.7 465.5,426.1 466.0,425.9 466.5,425.3 467.0,425.7 467.5,426.0 468.0,425.4 468.5,425.9 469.0,426.3 469.5,426.1 470.0,425.8 470.5,425.9 471.0,425.7 471.5,426.1 472.0,426.1 472.5,426.0 473.0,426.0 473.5,427.0 474.0,426.5 474.5,426.1 475.0,426.3 475.5,426.9 476.0,426.9 476.5,426.2 477.0,426.5 477.5,426.7 478.0,426.4 478.5,426.3 479.0,426.5 479.5,427.0 480.0,426.9 480.5,426.9 481.0,427.4 481.5,427.8 482.0,427.8 482.5,427.6 483.0,428.2 483.5,427.4 484.0,427.7 484.5,427.4 485.0,428.1 485.5,428.0 486.0,427.7 486.5,428.1 487.0,429.0 487.5,428.7 488.0,428.5 488.5,428.7 489.0,427.9 489.5,428.1 490.0,428.0 490.5,428.2 491.0,428.4 491.5,428.7 492.0,429.0 492.5,429.0 493.0,429.6 493.5,428.6 494.0,428.7 494.5,428.8 495.0,428.4 495.5,428.5 496.0,428.8 496.5,428.5 497.0,428.9 497.5,429.1 498.0,428.4 498.5,427.9 499.0,428.5 499.5,428.0 500.0,428.3 500.5,428.1 501.0,428.4 501.5,428.6 502.0,428.6 502.5,428.2 503.0,427.8 503.5,427.2 504.0,427.1 504.5,427.1 505.0,427.0 505.5,426.4 506.0,426.1 506.5,425.6 507.0,425.5 507.5,425.4 508.0,426.2 508.5,425.5 509.0,426.3 509.5,425.8 510.0,426.3 510.5,426.1 511.0,426.2 511.5,426.2 512.0,425.4 512.5,425.1 513.0,425.0 513.5,424.5 514.0,424.6 514.5,424.1 515.0,424.0 515.5,424.0 516.0,423.6 516.5,423.9 517.0,422.9 517.5,423.4 518.0,423.3 518.5,422.8 519.0,422.7 519.5,423.0 520.0,422.5 520.5,422.0 521.0,422.1 521.5,422.7 522.0,422.0 522.5,422.4 523.0,422.1 523.5,421.2 524.0,421.0 524.5,420.2 525.0,419.9 525.5,419.5 526.0,419.5 526.5,418.7 527.0,418.7 527.5,418.5 528.0,418.4 528.5,417.3 529.0,417.1 529.5,417.1 530.0,417.0 530.5,416.8 531.0,416.5 531.5,416.7 532.0,415.9 532.5,415.4 533.0,414.7 533.5,414.6 534.0,414.2 534.5,413.9 535.0,413.4 535.5,413.4 536.0,413.6 536.5,412.7 537.0,412.1 537.5,412.8 538.0,412.5 538.5,411.9 539.0,411.5 539.5,412.1 540.0,410.7 540.5,410.0 541.0,409.8 541.5,409.7 542.0,409.0 542.5,408.8 543.0,408.7 543.5,408.2 544.0,408.0 544.5,407.5 545.0,406.7 545.5,406.7 546.0,405.9 546.5,406.1 547.0,405.2 547.5,405.0 548.0,404.2 548.5,404.3 549.0,403.7 549.5,404.3 550.0,403.5 550.5,403.4 551.0,402.3 551.5,402.0 552.0,401.7 552.5,400.8 553.0,400.8 553.5,399.7 554.0,399.3 554.5,398.8 555.0,398.2 555.5,398.0 556.0,397.2 556.5,397.1 557.0,396.9 557.5,396.1 558.0,395.6 558.5,395.0 559.0,394.6 559.5,394.2 560.0,393.3 560.5,392.2 561.0,392.1 561.5,391.4 562.0,391.0 562.5,390.3 563.0,390.1 563.5,388.7 564.0,388.2 564.5,388.1 565.0,387.0 565.5,386.9 566.0,386.3 566.5,385.1 567.0,385.3 567.5,384.8 568.0,383.7 568.5,382.4 569.0,382.2 569.5,380.9 570.0,380.3 570.5,379.6 571.0,378.3 571.5,377.2 572.0,376.7 572.5,375.9 573.0,374.8 573.5,374.0 574.0,373.7 574.5,372.7 575.0,371.8 575.5,371.0 576.0,370.5 576.5,369.8 577.0,368.9 577.5,367.8 578.0,367.4 578.5,366.7 579.0,366.3 579.5,366.2 580.0,365.7 580.5,365.2 581.0,364.8 581.5,364.4 582.0,364.3 582.5,363.8 583.0,363.6 583.5,363.2 584.0,363.2 584.5,362.8 585.0,363.1 585.5,362.4 586.0,361.8 586.5,361.9 587.0,361.4 587.5,361.8 588.0,361.6 588.5,362.2 589.0,361.0 589.5,361.3 590.0,361.4 590.5,361.6 591.0,361.9 591.5,361.6 592.0,362.0 592.5,362.7 593.0,363.4 593.5,363.2 594.0,363.5 594.5,364.6 595.0,364.7 595.5,364.9 596.0,364.5 596.5,364.8 597.0,365.2 597.5,365.5 598.0,365.7 598.5,366.0 599.0,366.8 599.5,366.8 600.0,367.2 600.5,367.8 601.0,368.3 601.5,369.2 602.0,369.7 602.5,370.3 603.0,371.5 603.5,371.9 604.0,372.4 604.5,373.5 605.0,373.7 605.5,374.5 606.0,375.1 606.5,375.6 607.0,376.3 607.5,377.1 608.0,377.3 608.5,378.3 609.0,379.2 609.5,380.0 610.0,380.9 610.5,382.3 611.0,382.7 611.5,383.4 612.0,384.3 612.5,385.2 613.0,386.1 613.5,386.7 614.0,388.0 614.5,388.1 615.0,389.4 615.5,390.2 616.0,390.6 616.5,391.9 617.0,392.7 617.5,393.1 618.0,394.7 618.5,395.0 619.0,395.3 619.5,396.0 620.0,396.5 620.5,397.5 621.0,398.1 621.5,398.3 622.0,399.0 622.5,399.6 623.0,400.3 623.5,400.8 624.0,401.3 624.5,402.3 625.0,403.0 625.5,403.4 626.0,403.4 626.5,404.5 627.0,405.3 627.5,405.6 628.0,406.3 628.5,406.7 629.0,406.9 629.5,407.2 630.0,408.7 630.5,408.9 631.0,409.6 631.5,409.8 632.0,410.2 632.5,410.9 633.0,410.5 633.5,411.2 634.0,411.4 634.5,412.1 635.0,412.7 635.5,413.2 636.0,413.6 636.5,413.6 637.0,414.6 637.5,415.3 638.0,415.8 638.5,416.6 639.0,416.7 639.5,416.7 640.0,417.3 640.5,418.0 641.0,418.8 641.5,418.7 642.0,419.7 642.5,420.2 643.0,420.2 643.5,421.1 644.0,421.1 644.5,421.8 645.0,422.1 645.5,422.5 646.0,422.4 646.5,423.2 647.0,422.8 647.5,423.7 648.0,424.1 648.5,425.2 649.0,425.3 649.5,425.5 650.0,425.7 650.5,426.4 651.0,426.5 651.5,427.7 652.0,426.6 652.5,427.8 653.0,427.5 653.5,428.9 654.0,428.8 654.5,430.0 655.0,429.8 655.5,430.6 656.0,430.8 656.5,431.4 657.0,431.3 657.5,430.7 658.0,431.6 658.5,431.7 659.0,432.7 659.5,432.9 660.0,433.1 660.5,433.5 661.0,433.8 661.5,434.0 662.0,435.1 662.5,435.1 663.0,435.3 663.5,435.3 664.0,435.8 664.5,436.2 665.0,436.3 665.5,436.3 666.0,436.6 666.5,436.5 667.0,437.1 667.5,436.9 668.0,437.5 668.5,437.9 669.0,438.7 669.5,439.1 670.0,439.4 670.5,439.5 671.0,440.1 671.5,440.9 672.0,441.4 672.5,440.9 673.0,441.4 673.5,441.8 674.0,442.0 674.5,442.0 675.0,442.3 675.5,441.8 676.0,442.8 676.5,442.2 677.0,442.9 677.5,443.3 678.0,443.9 678.5,444.2 679.0,444.5 679.5,445.0 680.0,444.8 680.5,445.2 681.0,445.6 681.5,445.0 682.0,444.9 682.5,445.1 683.0,445.8 683.5,445.9 684.0,445.5 684.5,445.8 685.0,446.1 685.5,446.5 686.0,445.9 686.5,446.5 687.0,446.9 687.5,447.3 688.0,447.6 688.5,447.7 689.0,448.2 689.5,447.6 690.0,449.5 690.5,449.0 691.0,449.1 691.5,448.7 692.0,449.1 692.5,449.6 693.0,449.7 693.5,449.3 694.0,449.0 694.5,449.5 695.0,449.5 695.5,450.0 696.0,449.6 696.5,450.1 697.0,450.4 697.5,450.4 698.0,451.0 698.5,450.6 699.0,450.7 699.5,451.0 700.0,451.5 700.5,451.3 701.0,451.4 701.5,452.0 702.0,452.1 702.5,452.1 703.0,452.5 703.5,452.5 704.0,452.9 704.5,452.8 705.0,452.5 705.5,452.6 706.0,452.5 706.5,452.7 707.0,452.8 707.5,452.5 708.0,452.7 708.5,453.0 709.0,453.3 709.5,453.2 710.0,453.9 710.5,453.6 711.0,454.1 711.5,454.0 712.0,454.1 712.5,454.6 713.0,454.8 713.5,454.8 714.0,454.8 714.5,454.6 715.0,454.4 715.5,454.5 716.0,454.8 716.5,455.0 717.0,453.8 717.5,455.1 718.0,455.5 718.5,455.8 719.0,455.8 719.5,456.2 720.0,456.1 720.5,456.3 721.0,456.6 721.5,456.1 722.0,456.2 722.5,456.5 723.0,456.0 723.5,456.5 724.0,456.1 724.5,456.7 725.0,456.9 725.5,457.0 726.0,457.2 726.5,457.6 727.0,457.5 727.5,458.3 728.0,458.6 728.5,459.1 729.0,458.7 729.5,458.9 730.0,459.4 730.5,459.5 731.0,458.9 731.5,459.4 732.0,459.6 732.5,459.5 733.0,459.2 733.5,459.5 734.0,460.1 734.5,460.9 735.0,460.5 735.5,461.2 736.0,461.5 736.5,460.7 737.0,460.9 737.5,461.6 738.0,461.4 738.5,461.4 739.0,461.3 739.5,461.7 740.0,461.5 740.5,462.7 741.0,461.9 741.5,461.9 742.0,462.6 742.5,463.1 743.0,462.6 743.5,462.8 744.0,462.7 744.5,463.1 745.0,463.0 745.5,463.2 746.0,463.2 746.5,463.6 747.0,464.4 747.5,463.9 748.0,464.0 748.5,464.6 749.0,463.8 749.5,463.7 750.0,464.3 750.5,463.9 751.0,464.5 751.5,464.9 752.0,464.4 752.5,464.7 753.0,465.4 753.5,464.7 754.0,465.0 754.5,465.4 755.0,465.3 755.5,465.3 756.0,466.1 756.5,465.6 757.0,465.9 757.5,465.7 758.0,465.8 758.5,465.6 759.0,466.3 759.5,466.1 760.0,466.7 760.5,466.3 761.0,466.7 761.5,467.2 762.0,467.3 762.5,467.3 763.0,467.6 763.5,467.4 764.0,467.8 764.5,467.1 765.0,467.9 765.5,468.3 766.0,468.2 766.5,468.3 767.0,468.0 767.5,468.5 768.0,468.4 768.5,468.6 769.0,468.6 769.5,467.7 770.0,468.8 770.5,468.6 771.0,468.6 771.5,468.0 772.0,468.4 772.5,468.2 773.0,467.5 773.5,467.6 774.0,468.2 774.5,468.1 775.0,468.5 775.5,468.5 776.0,469.3 776.5,468.6 777.0,468.9 777.5,469.1 778.0,469.0 778.5,469.2 779.0,469.4 779.5,469.0 780.0,469.5 780.5,469.8 781.0,469.8 781.5,470.1 782.0,469.9 782.5,469.5 783.0,470.0 783.5,469.6 784.0,470.0 784.5,469.5 785.0,469.1 785.5,469.6 786.0,470.3 786.5,470.6 787.0,470.5 787.5,470.9 788.0,470.3 788.5,470.4 789.0,470.9 789.5,470.6 790.0,470.6 790.5,471.0 791.0,470.8 791.5,470.2 792.0,470.4 792.5,469.9 793.0,470.5 793.5,470.7 794.0,470.3 794.5,471.6 795.0,471.9 795.5,471.7 796.0,472.0 796.5,472.2 797.0,471.7 797.5,472.0 798.0,471.7 798.5,471.1 799.0,471.2 799.5,471.3 800.0,471.8 800.5,471.5 801.0,471.7 801.5,471.2 802.0,470.9 802.5,471.8 803.0,471.9 803.5,471.2 804.0,471.0 804.5,471.5 805.0,470.9 805.5,471.3 806.0,471.1 806.5,471.8 807.0,471.9 807.5,471.9 808.0,472.0 808.5,471.9 809.0,472.2 809.5,472.9 810.0,472.6 810.5,473.2 811.0,472.7 811.5,473.0 812.0,473.0 812.5,473.1 813.0,473.4 813.5,472.6 814.0,473.4 814.5,473.4 815.0,473.2 815.5,473.2 816.0,473.1 816.5,473.5 817.0,473.4 817.5,473.3 818.0,473.7 818.5,474.2 819.0,474.2 819.5,474.2 820.0,474.4 820.5,474.1 821.0,474.1 821.5,473.5 822.0,473.9 822.5,474.2 823.0,473.7 823.5,473.5 824.0,474.1 824.5,473.9 825.0,473.9 825.5,474.1 826.0,474.3 826.5,474.1 827.0,473.9 827.5,474.7 828.0,474.3 828.5,474.2 829.0,474.5 829.5,474.9 830.0,474.2 830.5,475.0 831.0,474.6 831.5,475.2 832.0,474.8 832.5,474.6 833.0,474.9 833.5,474.9 834.0,474.4 834.5,474.5 835.0,474.3 835.5,474.7 836.0,474.1 836.5,474.4 837.0,473.9 837.5,474.6 838.0,473.8 838.5,474.1 839.0,474.4 839.5,474.2 840.0,474.2 840.5,474.0 841.0,474.2 841.5,473.9 842.0,474.6 842.5,474.9 843.0,475.0 843.5,474.9 844.0,475.4 844.5,475.3 845.0,475.5 845.5,475.4 846.0,475.3 846.5,475.0 847.0,474.4 847.5,475.4 848.0,475.2 848.5,475.8 849.0,474.7 849.5,475.5 850.0,475.0 850.5,475.2 851.0,475.0 851.5,475.3 852.0,475.2 852.5,475.4 853.0,475.2 853.5,475.3 854.0,475.5 854.5,475.3 855.0,475.1 855.5,475.5 856.0,475.0 856.5,475.1 857.0,474.9 857.5,474.9 858.0,474.2 858.5,475.4 859.0,475.0 859.5,475.6 860.0,476.0 860.5,475.1 861.0,475.7 861.5,475.4 862.0,475.4 862.5,474.8 863.0,475.0 863.5,475.0 864.0,475.3 864.5,475.5 865.0,475.0 865.5,474.8 866.0,475.6 866.5,474.9 867.0,475.0" stroke="#ffaa00"/>
<path d="M115.0,530.7 115.5,530.6 116.0,531.0 116.5,531.0 117.0,530.8 117.5,531.2 118.0,530.8 118.5,531.0 119.0,530.8 119.5,531.0 120.0,531.2 120.5,531.3 121.0,530.7 121.5,531.0 122.0,531.4 122.5,530.2 123.0,530.5 123.5,530.6 124.0,531.1 124.5,531.5 125.0,531.4 125.5,531.2 126.0,531.1 126.5,531.3 127.0,531.3 127.5,531.4 128.0,531.0 128.5,531.7 129.0,531.0 129.5,531.3 130.0,531.2 130.5,530.8 131.0,531.1 131.5,531.0 132.0,531.0 132.5,531.3 133.0,530.9 133.5,531.8 134.0,531.4 134.5,530.8 135.0,530.3 135.5,531.4 136.0,531.0 136.5,531.0 137.0,530.6 137.5,530.5 138.0,530.3 138.5,531.6 139.0,531.3 139.5,530.6 140.0,531.4 140.5,530.3 141.0,531.2 141.5,531.3 142.0,531.0 142.5,531.2 143.0,531.1 143.5,531.5 144.0,531.9 144.5,531.8 145.0,531.7 145.5,531.9 146.0,531.1 146.5,532.3 147.0,531.8 147.5,531.5 148.0,531.8 148.5,531.8 149.0,531.9 149.5,531.9 150.0,530.9 150.5,531.8 151.0,531.7 151.5,530.7 152.0,531.3 152.5,531.2 153.0,531.0 153.5,531.2 154.0,530.3 154.5,530.9 155.0,530.5 155.5,531.6 156.0,530.7 156.5,530.7 157.0,531.5 157.5,531.4 158.0,531.3 158.5,531.4 159.0,531.6 159.5,532.0 160.0,531.3 160.5,531.4 161.0,531.5 161.5,531.7 162.0,531.8 162.5,531.5 163.0,532.1 163.5,531.7 164.0,532.0 164.5,532.0 165.0,531.9 165.5,532.3 166.0,532.2 166.5,531.9 167.0,531.9 167.5,531.3 168.0,531.8 168.5,531.3 169.0,531.4 169.5,531.4 170.0,530.9 170.5,531.2 171.0,531.3 171.5,531.5 172.0,531.3 172.5,531.0 173.0,530.9 173.5,531.3 174.0,531.0 174.5,531.1 175.0,531.5 175.5,531.8 176.0,531.6 176.5,531.5 177.0,532.1 177.5,532.3 178.0,531.9 178.5,531.9 179.0,531.3 179.5,532.3 180.0,531.7 180.5,532.2 181.0,531.8 181.5,531.9 182.0,531.8 182.5,531.3 183.0,532.6 183.5,531.2 184.0,531.7 184.5,531.4 185.0,531.5 185.5,532.0 186.0,531.0 186.5,531.5 187.0,531.6 187.5,531.5 188.0,531.6 188.5,531.3 189.0,531.1 189.5,531.2 190.0,531.2 190.5,530.7 191.0,530.6 191.5,531.8 192.0,531.5 192.5,531.6 193.0,531.6 193.5,531.1 194.0,531.9 194.5,531.4 195.0,531.6 195.5,532.4 196.0,531.3 196.5,531.6 197.0,531.6 197.5,531.6 198.0,531.5 198.5,531.4 199.0,532.2 199.5,531.0 200.0,531.4 200.5,532.1 201.0,531.9 201.5,531.5 202.0,531.5 202.5,531.7 203.0,532.6 203.5,532.0 204.0,531.6 204.5,532.0 205.0,531.6 205.5,532.2 206.0,531.8 206.5,532.0 207.0,531.7 207.5,532.4 208.0,532.0 208.5,532.1 209.0,531.8 209.5,532.1 210.0,532.3 210.5,532.0 211.0,532.8 211.5,531.9 212.0,531.5 212.5,531.9 213.0,531.4 213.5,531.7 214.0,531.6 214.5,531.5 215.0,532.3 215.5,532.1 216.0,532.5 216.5,532.1 217.0,531.7 217.5,531.8 218.0,532.0 218.5,532.1 219.0,532.2 219.5,532.4 220.0,532.0 220.5,532.5 221.0,532.2 221.5,532.4 222.0,533.4 222.5,533.0 223.0,532.4 223.5,533.0 224.0,532.7 224.5,532.4 225.0,532.4 225.5,531.8 226.0,531.7 226.5,531.4 227.0,531.7 227.5,531.1 228.0,531.3 228.5,531.6 229.0,531.3 229.5,531.7 230.0,532.2 230.5,531.6 231.0,532.4 231.5,532.0 232.0,532.0 232.5,532.4 233.0,532.7 233.5,532.1 234.0,532.1 234.5,532.0 235.0,531.8 235.5,531.9 236.0,531.5 236.5,531.6 237.0,531.7 237.5,531.5 238.0,532.1 238.5,531.6 239.0,531.6 239.5,532.6 240.0,532.5 240.5,532.1 241.0,532.3 241.5,532.2 242.0,531.9 242.5,532.3 243.0,532.1 243.5,532.4 244.0,531.4 244.5,532.1 245.0,531.9 245.5,531.7 246.0,531.8 246.5,531.8 247.0,531.5 247.5,531.6 248.0,531.9 248.5,531.2 249.0,531.4 249.5,530.8 250.0,531.3 250.5,531.6 251.0,531.6 251.5,531.6 252.0,531.4 252.5,532.0 253.0,531.7 253.5,532.3 254.0,532.1 254.5,531.9 255.0,532.4 255.5,531.7 256.0,532.0 256.5,531.6 257.0,531.5 257.5,531.8 258.0,531.6 258.5,531.5 259.0,531.6 259.5,531.8 260.0,531.9 260.5,531.8 261.0,531.7 261.5,531.3 262.0,532.0 262.5,531.8 263.0,532.2 263.5,531.9 264.0,532.1 264.5,532.2 265.0,531.7 265.5,531.6 266.0,532.1 266.5,531.6 267.0,531.6 267.5,532.0 268.0,531.6 268.5,531.6 269.0,530.8 269.5,531.1 270.0,531.4 270.5,530.6 271.0,531.2 271.5,531.3 272.0,530.6 272.5,531.8 273.0,531.1 273.5,531.3 274.0,531.8 274.5,530.7 275.0,531.3 275.5,530.9 276.0,531.0 276.5,530.7 277.0,531.3 277.5,530.6 278.0,531.1 278.5,531.2 279.0,531.1 279.5,531.2 280.0,531.3 280.5,531.7 281.0,531.5 281.5,531.3 282.0,530.8 282.5,530.9 283.0,530.8 283.5,530.4 284.0,530.7 284.5,529.6 285.0,531.0 285.5,530.2 286.0,530.1 286.5,530.1 287.0,531.1 287.5,531.2 288.0,531.1 288.5,531.2 289.0,531.3 289.5,531.1 290.0,531.4 290.5,531.2 291.0,530.9 291.5,530.5 292.0,531.5 292.5,531.1 293.0,531.0 293.5,531.8 294.0,531.6 294.5,530.8 295.0,530.7 295.5,530.9 296.0,530.4 296.5,530.5 297.0,531.1 297.5,531.0 298.0,529.9 298.5,530.1 299.0,530.1 299.5,529.9 300.0,529.6 300.5,530.5 301.0,530.3 301.5,530.6 302.0,530.8 302.5,530.4 303.0,531.3 303.5,530.8 304.0,530.9 304.5,530.7 305.0,531.0 305.5,531.1 306.0,530.6 306.5,530.9 307.0,530.5 307.5,530.2 308.0,530.4 308.5,530.7 309.0,530.7 309.5,530.8 310.0,530.3 310.5,530.4 311.0,530.4 311.5,530.4 312.0,530.0 312.5,529.6 313.0,529.2 313.5,530.0 314.0,529.9 314.5,529.4 315.0,530.1 315.5,529.7 316.0,529.9 316.5,530.1 317.0,529.6 317.5,529.5 318.0,529.1 318.5,529.6 319.0,529.6 319.5,529.7 320.0,529.6 320.5,529.5 321.0,529.8 321.5,529.3 322.0,529.8 322.5,529.9 323.0,529.7 323.5,530.3 324.0,529.9 324.5,530.1 325.0,529.9 325.5,529.6 326.0,530.2 326.5,529.9 327.0,529.7 327.5,529.7 328.0,529.5 328.5,529.8 329.0,529.8 329.5,530.0 330.0,529.8 330.5,530.0 331.0,529.8 331.5,529.3 332.0,529.6 332.5,529.5 333.0,529.4 333.5,529.8 334.0,530.2 334.5,529.6 335.0,529.3 335.5,529.9 336.0,530.8 336.5,529.6 337.0,529.9 337.5,529.7 338.0,530.1 338.5,530.2 339.0,529.7 339.5,530.1 340.0,529.3 340.5,529.7 341.0,529.1 341.5,529.5 342.0,529.2 342.5,529.4 343.0,529.0 343.5,529.3 344.0,529.2 344.5,529.0 345.0,528.8 345.5,528.7 346.0,528.9 346.5,529.1 347.0,529.0 347.5,529.1 348.0,529.5 348.5,529.1 349.0,529.3 349.5,529.5 350.0,529.4 350.5,529.4 351.0,529.3 351.5,529.9 352.0,529.3 352.5,529.2 353.0,529.4 353.5,529.7 354.0,529.5 354.5,529.0 355.0,529.2 355.5,529.0 356.0,528.9 356.5,529.1 357.0,529.2 357.5,529.1 358.0,529.6 358.5,528.9 359.0,529.5 359.5,529.7 360.0,529.7 360.5,529.2 361.0,529.1 361.5,528.7 362.0,529.1 362.5,529.7 363.0,528.3 363.5,528.1 364.0,528.5 364.5,528.2 365.0,527.2 365.5,527.5 366.0,527.5 366.5,526.9 367.0,527.6 367.5,526.9 368.0,527.7 368.5,527.5 369.0,527.3 369.5,527.0 370.0,527.5 370.5,527.6 371.0,527.6 371.5,527.4 372.0,527.4 372.5,527.6 373.0,526.8 373.5,526.8 374.0,526.7 374.5,526.3 375.0,526.4 375.5,526.4 376.0,525.7 376.5,525.8 377.0,524.6 377.5,525.2 378.0,525.2 378.5,524.4 379.0,524.8 379.5,523.6 380.0,524.3 380.5,523.4 381.0,523.0 381.5,522.9 382.0,522.7 382.5,522.1 383.0,521.6 383.5,521.5 384.0,521.5 384.5,520.8 385.0,520.5 385.5,519.3 386.0,518.7 386.5,518.0 387.0,517.4 387.5,516.7 388.0,516.3 388.5,515.3 389.0,514.4 389.5,514.1 390.0,512.9 390.5,512.3 391.0,512.5 391.5,512.1 392.0,511.8 392.5,511.8 393.0,511.1 393.5,511.0 394.0,510.8 394.5,510.6 395.0,510.4 395.5,509.8 396.0,509.5 396.5,508.3 397.0,509.0 397.5,507.7 398.0,507.7 398.5,507.9 399.0,506.4 399.5,505.3 400.0,505.6 400.5,504.2 401.0,503.5 401.5,502.6 402.0,502.0 402.5,500.9 403.0,499.4 403.5,498.5 404.0,496.5 404.5,495.2 405.0,492.5 405.5,490.3 406.0,487.0 406.5,484.0 407.0,481.4 407.5,477.5 408.0,474.6 408.5,472.1 409.0,468.8 409.5,465.6 410.0,462.5 410.5,460.3 411.0,456.7 411.5,454.8 412.0,453.2 412.5,451.3 413.0,449.7 413.5,447.7 414.0,444.5 414.5,440.8 415.0,432.8 415.5,424.3 416.0,413.3 416.5,403.3 417.0,393.1 417.5,386.8 418.0,382.0 418.5,376.4 419.0,372.8 419.5,368.3 420.0,363.3 420.5,359.7 421.0,355.9 421.5,353.9 422.0,352.8 422.5,354.6 423.0,356.1 423.5,360.2 424.0,364.7 424.5,368.9 425.0,372.9 425.5,377.6 426.0,383.1 426.5,390.1 427.0,395.6 427.5,402.0 428.0,408.0 428.5,414.2 429.0,421.0 429.5,427.1 430.0,433.5 430.5,439.6 431.0,445.2 431.5,450.2 432.0,454.2 432.5,458.2 433.0,461.7 433.5,465.6 434.0,468.4 434.5,471.3 435.0,474.4 435.5,477.1 436.0,479.5 436.5,482.7 437.0,485.9 437.5,488.1 438.0,490.7 438.5,492.3 439.0,494.0 439.5,496.0 440.0,498.3 440.5,499.2 441.0,500.9 441.5,503.1 442.0,504.3 442.5,505.8 443.0,507.4 443.5,508.7 444.0,509.8 444.5,511.1 445.0,511.8 445.5,512.8 446.0,513.7 446.5,513.8 447.0,514.6 447.5,514.8 448.0,515.9 448.5,516.4 449.0,517.1 449.5,517.7 450.0,518.3 450.5,518.8 451.0,518.9 451.5,519.9 452.0,519.8 452.5,521.1 453.0,520.9 453.5,521.3 454.0,521.0 454.5,522.0 455.0,522.3 455.5,521.7 456.0,522.2 456.5,522.4 457.0,522.5 457.5,523.2 458.0,523.5 458.5,522.6 459.0,523.4 459.5,523.2 460.0,523.9 460.5,523.0 461.0,523.9 461.5,524.6 462.0,524.2 462.5,525.0 463.0,524.6 463.5,525.2 464.0,525.3 464.5,525.2 465.0,525.3 465.5,525.8 466.0,526.4 466.5,526.4 467.0,526.4 467.5,527.7 468.0,526.3 468.5,526.8 469.0,527.1 469.5,526.6 470.0,526.9 470.5,526.8 471.0,526.6 471.5,527.2 472.0,526.8 472.5,526.9 473.0,527.5 473.5,526.7 474.0,527.2 474.5,527.3 475.0,527.1 475.5,526.9 476.0,526.6 476.5,526.1 477.0,526.4 477.5,526.4 478.0,526.1 478.5,525.9 479.0,526.5 479.5,526.1 480.0,526.6 480.5,526.5 481.0,526.2 481.5,527.2 482.0,526.9 482.5,526.9 483.0,526.3 483.5,526.7 484.0,526.9 484.5,526.6 485.0,527.4 485.5,526.3 486.0,527.1 486.5,526.4 487.0,526.4 487.5,526.5 488.0,527.1 488.5,526.8 489.0,526.9 489.5,526.9 490.0,526.9 490.5,527.1 491.0,527.2 491.5,527.4 492.0,527.3 492.5,526.7 493.0,527.2 493.5,527.8 494.0,527.3 494.5,527.5 495.0,527.4 495.5,527.5 496.0,527.7 496.5,527.4 497.0,527.8 497.5,527.4 498.0,528.1 498.5,527.6 499.0,528.4 499.5,528.6 500.0,527.9 500.5,528.7 501.0,528.3 501.5,528.8 502.0,528.3 502.5,528.4 503.0,528.4 503.5,528.8 504.0,527.8 504.5,528.5 505.0,528.3 505.5,528.1 506.0,528.2 506.5,528.6 507.0,528.7 507.5,529.1 508.0,528.6 508.5,528.4 509.0,529.0 509.5,529.2 510.0,529.1 510.5,529.6 511.0,529.9 511.5,529.3 512.0,528.5 512.5,529.2 513.0,528.5 513.5,528.6 514.0,528.8 514.5,528.7 515.0,528.6 515.5,528.8 516.0,529.1 516.5,529.2 517.0,529.8 517.5,528.4 518.0,529.1 518.5,529.2 519.0,529.7 519.5,529.6 520.0,529.8 520.5,529.1 521.0,529.5 521.5,529.8 522.0,529.6 522.5,529.5 523.0,529.7 523.5,530.1 524.0,528.9 524.5,529.9 525.0,529.5 525.5,529.1 526.0,529.5 526.5,529.3 527.0,529.7 527.5,529.1 528.0,529.6 528.5,529.1 529.0,529.5 529.5,529.7 530.0,529.6 530.5,529.8 531.0,529.4 531.5,529.8 532.0,529.1 532.5,528.9 533.0,528.9 533.5,528.8 534.0,528.5 534.5,529.1 535.0,528.9 535.5,529.2 536.0,528.6 536.5,528.8 537.0,529.1 537.5,528.9 538.0,529.2 538.5,529.4 539.0,529.6 539.5,529.7 540.0,529.5 540.5,528.9 541.0,529.2 541.5,528.8 542.0,529.0 542.5,528.5 543.0,529.2 543.5,528.8 544.0,528.6 544.5,528.3 545.0,528.8 545.5,528.5 546.0,528.7 546.5,528.3 547.0,528.2 547.5,528.5 548.0,528.6 548.5,527.7 549.0,528.0 549.5,528.2 550.0,527.9 550.5,527.8 551.0,528.6 551.5,527.7 552.0,528.1 552.5,527.8 553.0,528.0 553.5,527.3 554.0,528.2 554.5,527.9 555.0,527.6 555.5,528.3 556.0,527.7 556.5,527.5 557.0,527.4 557.5,527.8 558.0,527.4 558.5,527.2 559.0,526.8 559.5,526.8 560.0,527.2 560.5,527.0 561.0,526.3 561.5,526.6 562.0,526.8 562.5,527.4 563.0,526.2 563.5,525.6 564.0,526.4 564.5,525.9 565.0,525.5 565.5,525.9 566.0,525.5 566.5,525.0 567.0,524.7 567.5,524.8 568.0,524.5 568.5,523.6 569.0,524.1 569.5,523.1 570.0,523.7 570.5,523.2 571.0,522.9 571.5,522.9 572.0,522.5 572.5,522.5 573.0,522.8 573.5,522.0 574.0,522.2 574.5,521.5 575.0,521.7 575.5,521.9 576.0,521.1 576.5,521.4 577.0,520.5 577.5,520.6 578.0,520.5 578.5,520.5 579.0,520.2 579.5,519.4 580.0,519.4 580.5,519.4 581.0,518.8 581.5,519.3 582.0,519.4 582.5,519.3 583.0,518.5 583.5,518.4 584.0,517.9 584.5,517.8 585.0,517.6 585.5,517.7 586.0,517.3 586.5,516.8 587.0,517.1 587.5,517.0 588.0,516.4 588.5,516.5 589.0,516.5 589.5,516.1 590.0,516.6 590.5,516.7 591.0,517.0 591.5,516.4 592.0,516.1 592.5,516.1 593.0,516.2 593.5,516.3 594.0,515.8 594.5,516.1 595.0,516.2 595.5,515.5 596.0,516.5 596.5,516.2 597.0,516.6 597.5,516.5 598.0,516.7 598.5,516.9 599.0,517.2 599.5,517.6 600.0,517.5 600.5,517.5 601.0,517.9 601.5,518.1 602.0,518.9 602.5,518.7 603.0,519.6 603.5,519.4 604.0,519.5 604.5,520.1 605.0,519.8 605.5,520.0 606.0,520.6 606.5,520.8 607.0,520.6 607.5,521.8 608.0,521.4 608.5,521.0 609.0,521.5 609.5,522.0 610.0,521.9 610.5,522.2 611.0,522.8 611.5,522.5 612.0,523.0 612.5,522.9 613.0,522.7 613.5,523.7 614.0,523.3 614.5,524.0 615.0,524.1 615.5,523.8 616.0,524.0 616.5,524.3 617.0,524.6 617.5,525.1 618.0,524.9 618.5,525.8 619.0,525.7 619.5,525.5 620.0,525.8 620.5,526.2 621.0,526.1 621.5,526.4 622.0,526.7 622.5,526.7 623.0,527.0 623.5,526.6 624.0,526.6 624.5,526.7 625.0,526.8 625.5,527.5 626.0,527.9 626.5,528.1 627.0,528.3 627.5,529.1 628.0,528.3 628.5,528.6 629.0,528.6 629.5,528.6 630.0,529.4 630.5,529.0 631.0,529.5 631.5,528.8 632.0,529.7 632.5,529.8 633.0,528.8 633.5,529.0 634.0,529.0 634.5,529.3 635.0,528.9 635.5,529.6 636.0,529.8 636.5,529.6 637.0,529.2 637.5,529.8 638.0,530.0 638.5,530.4 639.0,530.0 639.5,529.9 640.0,530.5 640.5,530.5 641.0,530.6 641.5,530.5 642.0,530.8 642.5,530.8 643.0,530.3 643.5,531.1 644.0,531.5 644.5,531.5 645.0,532.2 645.5,531.8 646.0,532.2 646.5,531.7 647.0,532.1 647.5,531.8 648.0,531.6 648.5,531.4 649.0,531.8 649.5,531.8 650.0,531.4 650.5,531.2 651.0,531.3 651.5,531.8 652.0,531.2 652.5,531.9 653.0,531.0 653.5,531.6 654.0,531.8 654.5,532.0 655.0,531.5 655.5,531.4 656.0,531.3 656.5,532.0 657.0,531.7 657.5,531.6 658.0,531.7 658.5,532.0 659.0,532.0 659.5,532.5 660.0,531.6 660.5,532.6 661.0,532.3 661.5,532.4 662.0,532.4 662.5,532.4 663.0,532.5 663.5,532.3 664.0,531.7 664.5,531.9 665.0,531.8 665.5,531.8 666.0,531.6 666.5,531.5 667.0,531.8 667.5,531.2 668.0,532.2 668.5,531.5 669.0,531.5 669.5,532.1 670.0,532.3 670.5,532.4 671.0,532.4 671.5,532.1 672.0,531.9 672.5,532.0 673.0,531.8 673.5,531.6 674.0,532.3 674.5,532.4 675.0,531.8 675.5,531.8 676.0,531.7 676.5,531.4 677.0,531.7 677.5,531.8 678.0,532.1 678.5,531.8 679.0,531.6 679.5,532.3 680.0,532.6 680.5,531.3 681.0,531.8 681.5,532.1 682.0,531.4 682.5,531.4 683.0,531.9 683.5,531.9 684.0,531.9 684.5,532.6 685.0,532.6 685.5,532.3 686.0,532.1 686.5,532.0 687.0,532.4 687.5,532.1 688.0,532.7 688.5,532.7 689.0,532.2 689.5,532.7 690.0,533.0 690.5,532.8 691.0,532.3 691.5,532.5 692.0,532.4 692.5,532.5 693.0,532.4 693.5,532.3 694.0,532.6 694.5,532.8 695.0,532.2 695.5,532.0 696.0,532.6 696.5,532.5 697.0,532.6 697.5,532.2 698.0,532.4 698.5,532.0 699.0,532.5 699.5,532.7 700.0,531.8 700.5,531.2 701.0,531.8 701.5,531.7 702.0,531.9 702.5,531.9 703.0,532.0 703.5,532.8 704.0,531.9 704.5,532.0 705.0,532.4 705.5,531.8 706.0,532.6 706.5,532.3 707.0,532.1 707.5,532.4 708.0,532.8 708.5,532.8 709.0,532.8 709.5,532.4 710.0,531.9 710.5,532.1 711.0,531.8 711.5,532.4 712.0,531.1 712.5,532.2 713.0,532.0 713.5,531.9 714.0,531.7 714.5,531.5 715.0,531.2 715.5,530.9 716.0,531.8 716.5,531.3 717.0,531.1 717.5,530.9 718.0,530.2 718.5,530.7 719.0,530.8 719.5,531.2 720.0,530.6 720.5,531.1 721.0,531.1 721.5,531.2 722.0,531.0 722.5,531.4 723.0,531.4 723.5,530.8 724.0,531.8 724.5,532.0 725.0,531.0 725.5,531.5 726.0,530.7 726.5,530.8 727.0,531.5 727.5,531.1 728.0,531.6 728.5,531.4 729.0,531.8 729.5,531.6 730.0,532.2 730.5,532.4 731.0,532.2 731.5,531.8 732.0,531.8 732.5,531.6 733.0,532.0 733.5,531.9 734.0,531.5 734.5,532.0 735.0,531.5 735.5,532.2 736.0,531.9 736.5,532.2 737.0,531.5 737.5,531.5 738.0,531.3 738.5,532.1 739.0,531.6 739.5,532.3 740.0,532.0 740.5,532.2 741.0,531.5 741.5,531.7 742.0,531.8 742.5,531.9 743.0,531.2 743.5,531.6 744.0,531.2 744.5,531.7 745.0,531.4 745.5,531.4 746.0,531.7 746.5,531.9 747.0,531.4 747.5,531.7 748.0,530.9 748.5,531.1 749.0,530.6 749.5,530.9 750.0,530.4 750.5,530.6 751.0,530.8 751.5,530.3 752.0,530.1 752.5,530.7 753.0,531.0 753.5,531.1 754.0,530.9 754.5,531.5 755.0,531.2 755.5,531.5 756.0,530.9 756.5,531.1 757.0,531.2 757.5,530.5 758.0,530.5 758.5,530.8 759.0,530.7 759.5,530.7 760.0,530.6 760.5,530.1 761.0,530.5 761.5,530.1 762.0,530.5 762.5,529.9 763.0,531.1 763.5,531.4 764.0,531.1 764.5,530.9 765.0,531.2 765.5,531.6 766.0,531.5 766.5,531.1 767.0,531.6 767.5,531.3 768.0,531.0 768.5,530.6 769.0,530.6 769.5,530.3 770.0,530.6 770.5,530.4 771.0,531.0 771.5,530.7 772.0,530.8 772.5,530.8 773.0,530.7 773.5,530.2 774.0,530.9 774.5,530.6 775.0,530.3 775.5,530.2 776.0,530.3 776.5,530.4 777.0,530.6 777.5,530.3 778.0,530.5 778.5,530.4 779.0,530.0 779.5,530.7 780.0,529.9 780.5,529.9 781.0,529.7 781.5,529.6 782.0,529.8 782.5,530.1 783.0,529.8 783.5,529.7 784.0,530.2 784.5,529.6 785.0,530.4 785.5,530.4 786.0,530.7 786.5,530.2 787.0,530.6 787.5,530.6 788.0,530.8 788.5,531.1 789.0,530.9 789.5,530.7 790.0,531.1 790.5,530.7 791.0,530.0 791.5,530.2 792.0,530.5 792.5,530.6 793.0,530.6 793.5,530.6 794.0,530.4 794.5,530.7 795.0,530.3 795.5,530.4 796.0,530.4 796.5,530.4 797.0,530.7 797.5,530.8 798.0,530.8 798.5,531.5 799.0,531.2 799.5,531.8 800.0,531.5 800.5,530.8 801.0,531.3 801.5,530.5 802.0,531.3 802.5,531.0 803.0,530.6 803.5,530.2 804.0,530.7 804.5,530.4 805.0,531.2 805.5,530.5 806.0,530.8 806.5,531.1 807.0,531.0 807.5,531.1 808.0,530.9 808.5,531.2 809.0,530.7 809.5,531.0 810.0,530.3 810.5,530.5 811.0,530.0 811.5,530.1 812.0,530.3 812.5,530.6 813.0,529.8 813.5,530.2 814.0,530.2 814.5,531.0 815.0,530.4 815.5,531.0 816.0,530.7 816.5,530.4 817.0,530.9 817.5,530.5 818.0,531.0 818.5,530.9 819.0,530.9 819.5,530.1 820.0,530.8 820.5,530.7 821.0,530.1 821.5,531.5 822.0,531.6 822.5,531.0 823.0,531.5 823.5,531.0 824.0,531.3 824.5,531.2 825.0,531.2 825.5,530.6 826.0,530.6 826.5,530.3 827.0,530.6 827.5,530.7 828.0,530.5 828.5,530.9 829.0,530.8 829.5,530.8 830.0,531.2 830.5,530.5 831.0,531.0 831.5,530.5 832.0,531.0 832.5,530.7 833.0,531.0 833.5,530.6 834.0,530.5 834.5,530.7 835.0,530.8 835.5,531.1 836.0,530.7 836.5,530.6 837.0,530.5 837.5,531.3 838.0,530.5 838.5,530.8 839.0,530.6 839.5,531.3 840.0,530.9 840.5,531.6 841.0,531.1 841.5,531.4 842.0,531.6 842.5,531.7 843.0,531.0 843.5,531.1 844.0,531.1 844.5,530.5 845.0,531.1 845.5,531.0 846.0,531.0 846.5,530.4 847.0,530.9 847.5,531.0 848.0,531.3 848.5,530.9 849.0,531.3 849.5,531.8 850.0,531.2 850.5,531.3 851.0,531.4 851.5,531.0 852.0,531.4 852.5,531.9 853.0,531.1 853.5,531.2 854.0,531.6 854.5,531.3 855.0,531.2 855.5,531.0 856.0,531.1 856.5,531.2 857.0,531.5 857.5,531.5 858.0,531.8 858.5,531.0 859.0,531.9 859.5,531.5 860.0,531.6 860.5,531.5 861.0,531.8 861.5,531.6 862.0,531.8 862.5,531.5 863.0,531.9 863.5,532.4 864.0,532.4 864.5,532.1 865.0,532.2 865.5,532.0 866.0,532.0 866.5,531.9 867.0,532.2" stroke="#60d800"/>
<path d="M115.0,584.0 115.5,583.6 116.0,583.5 116.5,584.1 117.0,583.7 117.5,583.6 118.0,583.3 118.5,583.6 119.0,582.7 119.5,583.5 120.0,582.8 120.5,583.7 121.0,583.1 121.5,583.9 122.0,584.6 122.5,584.0 123.0,583.9 123.5,585.0 124.0,584.4 124.5,584.3 125.0,585.0 125.5,583.7 126.0,584.0 126.5,584.1 127.0,584.2 127.5,583.8 128.0,584.7 128.5,584.8 129.0,584.5 129.5,584.4 130.0,584.0 130.5,584.6 131.0,584.3 131.5,584.7 132.0,584.9 132.5,584.7 133.0,584.1 133.5,584.5 134.0,585.2 134.5,584.8 135.0,585.0 135.5,583.8 136.0,584.4 136.5,584.2 137.0,583.7 137.5,583.9 138.0,584.3 138.5,584.1 139.0,583.8 139.5,584.0 140.0,584.2 140.5,583.6 141.0,584.1 141.5,584.4 142.0,583.9 142.5,584.5 143.0,584.1 143.5,584.4 144.0,584.3 144.5,584.1 145.0,583.9 145.5,583.9 146.0,584.1 146.5,584.1 147.0,584.5 147.5,584.1 148.0,584.3 148.5,584.8 149.0,584.5 149.5,584.7 150.0,585.1 150.5,584.8 151.0,585.0 151.5,585.1 152.0,584.9 152.5,584.6 153.0,584.4 153.5,584.8 154.0,585.1 154.5,585.0 155.0,585.2 155.5,585.0 156.0,584.5 156.5,584.2 157.0,584.5 157.5,584.5 158.0,584.3 158.5,584.8 159.0,584.4 159.5,584.9 160.0,585.2 160.5,584.5 161.0,585.0 161.5,585.6 162.0,585.5 162.5,585.3 163.0,584.9 163.5,585.0 164.0,585.2 164.5,585.5 165.0,585.2 165.5,585.0 166.0,585.0 166.5,585.0 167.0,584.1 167.5,584.2 168.0,584.5 168.5,584.8 169.0,584.8 169.5,584.4 170.0,584.8 170.5,584.7 171.0,584.9 171.5,585.1 172.0,584.9 172.5,584.8 173.0,584.6 173.5,584.4 174.0,584.8 174.5,584.8 175.0,584.9 175.5,584.4 176.0,584.3 176.5,584.8 177.0,584.4 177.5,584.4 178.0,583.9 178.5,583.7 179.0,583.5 179.5,584.1 180.0,583.4 180.5,583.3 181.0,583.6 181.5,584.3 182.0,584.0 182.5,584.1 183.0,584.2 183.5,584.3 184.0,584.3 184.5,584.1 185.0,585.1 185.5,584.5 186.0,585.0 186.5,584.1 187.0,584.7 187.5,584.1 188.0,584.0 188.5,584.4 189.0,584.6 189.5,584.6 190.0,584.0 190.5,582.1 191.0,582.7 191.5,583.9 192.0,584.4 192.5,584.9 193.0,585.0 193.5,585.5 194.0,584.9 194.5,585.8 195.0,585.2 195.5,585.6 196.0,585.3 196.5,584.5 197.0,584.7 197.5,584.8 198.0,584.4 198.5,584.5 199.0,584.7 199.5,585.0 200.0,585.1 200.5,584.7 201.0,585.1 201.5,585.2 202.0,585.0 202.5,584.5 203.0,584.4 203.5,584.6 204.0,584.7 204.5,584.5 205.0,584.2 205.5,584.0 206.0,584.7 206.5,584.3 207.0,585.0 207.5,584.2 208.0,584.5 208.5,584.4 209.0,585.2 209.5,585.0 210.0,584.6 210.5,584.2 211.0,585.3 211.5,585.1 212.0,584.8 212.5,584.7 213.0,585.3 213.5,585.1 214.0,585.2 214.5,585.2 215.0,584.9 215.5,584.9 216.0,585.2 216.5,585.0 217.0,585.0 217.5,585.2 218.0,584.5 218.5,585.3 219.0,584.9 219.5,584.4 220.0,584.3 220.5,584.5 221.0,584.2 221.5,583.4 222.0,583.7 222.5,584.2 223.0,584.9 223.5,584.7 224.0,584.5 224.5,584.8 225.0,584.6 225.5,584.6 226.0,584.8 226.5,584.1 227.0,585.2 227.5,585.1 228.0,585.0 228.5,584.9 229.0,584.9 229.5,585.3 230.0,585.3 230.5,585.3 231.0,585.8 231.5,584.6 232.0,585.0 232.5,585.0 233.0,585.5 233.5,585.0 234.0,584.7 234.5,585.0 235.0,585.0 235.5,585.4 236.0,585.0 236.5,584.8 237.0,584.9 237.5,584.9 238.0,585.3 238.5,585.5 239.0,585.1 239.5,585.1 240.0,585.5 240.5,585.1 241.0,585.2 241.5,584.7 242.0,584.8 242.5,584.3 243.0,584.5 243.5,584.9 244.0,585.1 244.5,584.6 245.0,584.2 245.5,584.5 246.0,584.8 246.5,584.4 247.0,584.7 247.5,584.5 248.0,584.2 248.5,584.4 249.0,584.7 249.5,585.5 250.0,585.1 250.5,585.0 251.0,585.3 251.5,585.3 252.0,585.2 252.5,585.4 253.0,585.3 253.5,585.6 254.0,585.9 254.5,585.8 255.0,585.3 255.5,585.5 256.0,585.0 256.5,584.8 257.0,585.0 257.5,585.1 258.0,584.8 258.5,585.0 259.0,585.0 259.5,584.9 260.0,584.7 260.5,584.3 261.0,585.3 261.5,584.7 262.0,585.1 262.5,585.1 263.0,584.8 263.5,585.5 264.0,585.1 264.5,584.8 265.0,584.7 265.5,584.6 266.0,584.5 266.5,585.1 267.0,584.8 267.5,584.8 268.0,585.0 268.5,584.8 269.0,585.1 269.5,584.7 270.0,584.8 270.5,585.2 271.0,584.6 271.5,584.9 272.0,584.7 272.5,584.4 273.0,583.8 273.5,583.9 274.0,584.0 274.5,584.0 275.0,584.7 275.5,584.2 276.0,584.1 276.5,584.4 277.0,584.5 277.5,584.1 278.0,584.8 278.5,584.9 279.0,584.6 279.5,585.1 280.0,584.4 280.5,584.7 281.0,584.8 281.5,584.8 282.0,585.0 282.5,584.5 283.0,584.3 283.5,584.6 284.0,584.4 284.5,584.4 285.0,584.0 285.5,584.0 286.0,583.7 286.5,584.0 287.0,583.7 287.5,583.9 288.0,584.6 288.5,584.3 289.0,584.8 289.5,585.2 290.0,585.0 290.5,585.5 291.0,585.0 291.5,585.5 292.0,584.6 292.5,584.6 293.0,585.0 293.5,585.3 294.0,585.3 294.5,584.5 295.0,584.7 295.5,584.5 296.0,584.0 296.5,584.8 297.0,584.5 297.5,585.0 298.0,584.6 298.5,584.3 299.0,584.2 299.5,584.2 300.0,584.3 300.5,583.9 301.0,584.7 301.5,583.8 302.0,583.3 302.5,583.6 303.0,583.9 303.5,583.7 304.0,583.6 304.5,583.6 305.0,583.7 305.5,583.7 306.0,583.9 306.5,584.1 307.0,583.9 307.5,584.5 308.0,584.2 308.5,584.1 309.0,584.3 309.5,584.8 310.0,583.8 310.5,584.4 311.0,585.1 311.5,584.5 312.0,583.9 312.5,584.1 313.0,583.9 313.5,584.7 314.0,583.6 314.5,583.6 315.0,583.5 315.5,583.1 316.0,582.5 316.5,583.5 317.0,583.9 317.5,583.7 318.0,584.1 318.5,584.2 319.0,584.2 319.5,583.5 320.0,584.5 320.5,584.3 321.0,584.2 321.5,583.9 322.0,583.9 322.5,583.7 323.0,583.9 323.5,584.0 324.0,583.6 324.5,584.1 325.0,583.8 325.5,584.2 326.0,584.1 326.5,584.5 327.0,584.9 327.5,584.4 328.0,584.1 328.5,584.2 329.0,584.5 329.5,584.2 330.0,584.6 330.5,584.5 331.0,584.7 331.5,584.2 332.0,584.0 332.5,584.0 333.0,584.3 333.5,583.9 334.0,584.3 334.5,583.5 335.0,584.0 335.5,584.2 336.0,583.7 336.5,584.1 337.0,583.8 337.5,584.2 338.0,584.1 338.5,584.3 339.0,583.7 339.5,583.4 340.0,583.6 340.5,583.8 341.0,583.8 341.5,583.9 342.0,584.2 342.5,583.7 343.0,583.6 343.5,583.3 344.0,583.3 344.5,583.7 345.0,583.5 345.5,582.6 346.0,583.8 346.5,582.9 347.0,583.5 347.5,583.9 348.0,583.7 348.5,583.8 349.0,583.8 349.5,583.5 350.0,583.0 350.5,583.3 351.0,583.0 351.5,582.5 352.0,583.1 352.5,583.4 353.0,583.4 353.5,583.4 354.0,584.0 354.5,583.6 355.0,583.8 355.5,583.7 356.0,584.0 356.5,583.4 357.0,583.8 357.5,583.9 358.0,583.1 358.5,583.4 359.0,582.5 359.5,582.8 360.0,582.8 360.5,582.1 361.0,581.7 361.5,582.1 362.0,582.0 362.5,582.2 363.0,582.3 363.5,582.5 364.0,582.7 364.5,582.3 365.0,581.6 365.5,582.1 366.0,581.8 366.5,581.6 367.0,581.8 367.5,581.2 368.0,580.9 368.5,581.0 369.0,580.2 369.5,580.9 370.0,580.5 370.5,580.8 371.0,580.3 371.5,579.8 372.0,579.3 372.5,578.5 373.0,578.3 373.5,578.1 374.0,578.0 374.5,577.6 375.0,577.5 375.5,577.4 376.0,576.9 376.5,577.0 377.0,576.7 377.5,576.3 378.0,576.0 378.5,576.5 379.0,576.5 379.5,576.3 380.0,575.5 380.5,576.0 381.0,575.9 381.5,575.2 382.0,575.5 382.5,575.9 383.0,575.3 383.5,575.5 384.0,574.7 384.5,574.4 385.0,574.4 385.5,573.7 386.0,573.4 386.5,573.0 387.0,572.3 387.5,572.7 388.0,571.9 388.5,571.7 389.0,571.4 389.5,571.3 390.0,570.7 390.5,570.9 391.0,570.1 391.5,569.9 392.0,568.8 392.5,568.0 393.0,567.3 393.5,566.7 394.0,565.0 394.5,564.1 395.0,561.9 395.5,560.3 396.0,557.7 396.5,555.8 397.0,552.8 397.5,550.1 398.0,547.6 398.5,544.0 399.0,541.0 399.5,536.7 400.0,533.0 400.5,528.5 401.0,523.9 401.5,520.4 402.0,515.1 402.5,509.8 403.0,503.2 403.5,494.9 404.0,486.6 404.5,477.2 405.0,467.9 405.5,459.8 406.0,452.4 406.5,445.1 407.0,437.9 407.5,430.4 408.0,424.2 408.5,418.2 409.0,413.1 409.5,409.1 410.0,407.4 410.5,406.9 411.0,410.6 411.5,415.9 412.0,423.6 412.5,432.2 413.0,440.6 413.5,448.3 414.0,455.2 414.5,461.5 415.0,470.0 415.5,476.7 416.0,483.7 416.5,490.1 417.0,496.6 417.5,502.0 418.0,507.0 418.5,511.2 419.0,516.1 419.5,520.0 420.0,524.6 420.5,528.4 421.0,532.4 421.5,536.1 422.0,540.0 422.5,543.4 423.0,546.2 423.5,548.8 424.0,552.2 424.5,553.7 425.0,556.2 425.5,558.3 426.0,559.9 426.5,562.2 427.0,563.3 427.5,564.6 428.0,565.1 428.5,566.3 429.0,566.7 429.5,567.4 430.0,568.2 430.5,569.0 431.0,569.7 431.5,570.2 432.0,570.5 432.5,571.5 433.0,571.5 433.5,572.8 434.0,573.1 434.5,574.1 435.0,573.4 435.5,575.1 436.0,574.7 436.5,574.7 437.0,575.6 437.5,576.0 438.0,576.4 438.5,577.3 439.0,576.7 439.5,577.3 440.0,577.4 440.5,577.3 441.0,577.7 441.5,578.2 442.0,577.7 442.5,578.3 443.0,578.6 443.5,578.7 444.0,578.3 444.5,579.0 445.0,579.0 445.5,579.6 446.0,579.3 446.5,580.1 447.0,579.3 447.5,579.9 448.0,579.7 448.5,580.7 449.0,580.9 449.5,580.4 450.0,581.1 450.5,581.1 451.0,580.9 451.5,581.2 452.0,581.8 452.5,582.1 453.0,582.0 453.5,582.4 454.0,582.6 454.5,582.8 455.0,582.4 455.5,582.8 456.0,582.9 456.5,582.3 457.0,583.2 457.5,583.3 458.0,582.9 458.5,583.6 459.0,582.9 459.5,583.0 460.0,583.1 460.5,583.1 461.0,583.8 461.5,583.1 462.0,582.9 462.5,582.9 463.0,583.1 463.5,582.5 464.0,582.3 464.5,582.4 465.0,582.7 465.5,582.4 466.0,582.9 466.5,582.7 467.0,582.6 467.5,582.8 468.0,583.3 468.5,582.7 469.0,583.2 469.5,583.1 470.0,583.1 470.5,583.2 471.0,583.6 471.5,583.6 472.0,583.7 472.5,583.8 473.0,583.4 473.5,583.4 474.0,583.3 474.5,583.4 475.0,583.3 475.5,583.2 476.0,583.4 476.5,582.8 477.0,583.0 477.5,583.2 478.0,583.5 478.5,583.0 479.0,583.5 479.5,583.7 480.0,583.2 480.5,583.8 481.0,583.6 481.5,584.0 482.0,584.4 482.5,584.0 483.0,584.5 483.5,584.3 484.0,584.1 484.5,584.2 485.0,583.6 485.5,583.1 486.0,583.4 486.5,583.2 487.0,583.4 487.5,583.2 488.0,583.4 488.5,583.6 489.0,583.6 489.5,583.8 490.0,583.9 490.5,584.1 491.0,585.0 491.5,583.9 492.0,583.7 492.5,584.5 493.0,584.1 493.5,584.4 494.0,584.7 494.5,585.0 495.0,585.2 495.5,585.3 496.0,585.1 496.5,585.4 497.0,585.2 497.5,584.6 498.0,584.6 498.5,584.2 499.0,584.7 499.5,584.3 500.0,584.8 500.5,583.9 501.0,584.5 501.5,583.7 502.0,583.5 502.5,583.7 503.0,584.2 503.5,584.4 504.0,583.9 504.5,584.5 505.0,584.2 505.5,584.3 506.0,584.4 506.5,585.1 507.0,584.7 507.5,584.8 508.0,584.2 508.5,584.7 509.0,584.6 509.5,584.9 510.0,584.2 510.5,584.2 511.0,584.2 511.5,584.3 512.0,584.6 512.5,584.1 513.0,584.6 513.5,584.1 514.0,583.7 514.5,583.7 515.0,583.4 515.5,583.4 516.0,584.3 516.5,584.3 517.0,583.9 517.5,584.2 518.0,585.0 518.5,584.4 519.0,584.7 519.5,584.8 520.0,584.6 520.5,584.7 521.0,584.6 521.5,584.8 522.0,584.3 522.5,584.7 523.0,584.6 523.5,584.1 524.0,584.4 524.5,583.9 525.0,583.3 525.5,583.4 526.0,584.0 526.5,584.1 527.0,583.8 527.5,583.5 528.0,583.9 528.5,584.3 529.0,584.0 529.5,583.7 530.0,584.3 530.5,584.1 531.0,584.2 531.5,584.3 532.0,584.5 532.5,584.3 533.0,584.1 533.5,584.4 534.0,584.5 534.5,584.9 535.0,584.1 535.5,584.4 536.0,584.1 536.5,584.3 537.0,583.9 537.5,583.1 538.0,584.2 538.5,583.6 539.0,583.4 539.5,583.3 540.0,583.3 540.5,583.2 541.0,583.5 541.5,583.5 542.0,583.4 542.5,583.5 543.0,583.3 543.5,583.8 544.0,583.8 544.5,584.2 545.0,584.4 545.5,584.3 546.0,584.8 546.5,584.7 547.0,584.3 547.5,584.9 548.0,584.8 548.5,583.8 549.0,583.5 549.5,583.8 550.0,584.0 550.5,584.1 551.0,584.1 551.5,583.9 552.0,584.4 552.5,584.4 553.0,584.1 553.5,584.3 554.0,584.4 554.5,583.7 555.0,583.4 555.5,583.1 556.0,583.4 556.5,582.9 557.0,582.6 557.5,582.0 558.0,581.8 558.5,582.0 559.0,581.4 559.5,581.7 560.0,581.2 560.5,581.1 561.0,581.2 561.5,581.2 562.0,581.3 562.5,580.6 563.0,581.0 563.5,580.1 564.0,580.0 564.5,579.4 565.0,580.2 565.5,580.2 566.0,579.2 566.5,579.3 567.0,579.1 567.5,578.4 568.0,578.7 568.5,578.5 569.0,578.1 569.5,577.7 570.0,577.8 570.5,577.7 571.0,576.8 571.5,576.9 572.0,576.8 572.5,575.6 573.0,576.2 573.5,576.4 574.0,575.4 574.5,576.0 575.0,575.5 575.5,575.8 576.0,575.6 576.5,575.5 577.0,575.5 577.5,576.8 578.0,575.8 578.5,576.1 579.0,576.5 579.5,576.0 580.0,575.8 580.5,575.0 581.0,575.3 581.5,575.1 582.0,574.9 582.5,575.6 583.0,575.9 583.5,575.6 584.0,575.9 584.5,576.5 585.0,577.0 585.5,576.7 586.0,577.7 586.5,577.8 587.0,577.7 587.5,577.5 588.0,578.1 588.5,578.3 589.0,578.7 589.5,578.1 590.0,578.8 590.5,578.3 591.0,578.6 591.5,578.5 592.0,578.7 592.5,579.4 593.0,579.0 593.5,579.6 594.0,579.5 594.5,579.7 595.0,579.6 595.5,580.0 596.0,579.4 596.5,580.0 597.0,580.3 597.5,580.3 598.0,579.6 598.5,579.9 599.0,580.2 599.5,581.1 600.0,580.7 600.5,581.0 601.0,581.2 601.5,581.5 602.0,581.3 602.5,581.8 603.0,582.1 603.5,582.4 604.0,581.9 604.5,582.6 605.0,583.0 605.5,582.7 606.0,582.7 606.5,581.7 607.0,582.9 607.5,583.1 608.0,582.9 608.5,582.8 609.0,583.0 609.5,583.8 610.0,582.9 610.5,583.2 611.0,583.8 611.5,583.7 612.0,583.2 612.5,584.0 613.0,584.0 613.5,583.5 614.0,583.8 614.5,583.6 615.0,582.8 615.5,583.4 616.0,583.8 616.5,583.6 617.0,582.8 617.5,582.8 618.0,583.3 618.5,583.6 619.0,583.2 619.5,583.5 620.0,584.2 620.5,583.8 621.0,584.0 621.5,583.6 622.0,583.9 622.5,583.5 623.0,583.6 623.5,583.7 624.0,583.5 624.5,584.2 625.0,584.0 625.5,584.4 626.0,584.6 626.5,584.6 627.0,584.7 627.5,584.6 628.0,584.8 628.5,585.3 629.0,585.0 629.5,585.0 630.0,584.2 630.5,584.5 631.0,585.0 631.5,584.4 632.0,584.2 632.5,584.9 633.0,584.3 633.5,585.2 634.0,585.0 634.5,585.0 635.0,584.7 635.5,585.8 636.0,584.9 636.5,585.1 637.0,585.6 637.5,585.0 638.0,585.5 638.5,585.2 639.0,585.1 639.5,584.8 640.0,584.8 640.5,585.0 641.0,584.5 641.5,584.9 642.0,584.8 642.5,584.9 643.0,584.8 643.5,585.0 644.0,584.9 644.5,585.1 645.0,585.0 645.5,585.1 646.0,584.8 646.5,584.6 647.0,585.2 647.5,585.6 648.0,585.1 648.5,584.9 649.0,585.2 649.5,585.5 650.0,585.5 650.5,585.1 651.0,584.7 651.5,585.0 652.0,585.3 652.5,585.1 653.0,585.5 653.5,585.2 654.0,585.7 654.5,585.9 655.0,585.1 655.5,585.1 656.0,585.5 656.5,586.2 657.0,585.3 657.5,585.1 658.0,585.5 658.5,585.1 659.0,584.6 659.5,584.9 660.0,585.7 660.5,585.0 661.0,585.2 661.5,586.0 662.0,585.8 662.5,586.1 663.0,585.4 663.5,585.4 664.0,585.4 664.5,585.1 665.0,585.3 665.5,585.4 666.0,585.8 666.5,585.5 667.0,585.4 667.5,585.7 668.0,585.8 668.5,585.7 669.0,585.4 669.5,585.1 670.0,585.1 670.5,584.8 671.0,585.2 671.5,585.3 672.0,585.8 672.5,585.4 673.0,585.6 673.5,585.8 674.0,584.8 674.5,585.2 675.0,585.2 675.5,585.3 676.0,584.9 676.5,585.5 677.0,585.6 677.5,585.6 678.0,585.8 678.5,585.4 679.0,586.2 679.5,585.8 680.0,585.4 680.5,586.0 681.0,586.1 681.5,585.7 682.0,585.4 682.5,585.6 683.0,586.0 683.5,585.4 684.0,586.5 684.5,586.6 685.0,586.3 685.5,586.8 686.0,586.5 686.5,586.2 687.0,586.7 687.5,586.6 688.0,586.1 688.5,585.9 689.0,586.0 689.5,586.6 690.0,586.1 690.5,587.0 691.0,585.9 691.5,586.2 692.0,586.1 692.5,586.0 693.0,586.3 693.5,585.7 694.0,586.0 694.5,585.6 695.0,585.3 695.5,586.0 696.0,585.6 696.5,585.6 697.0,586.2 697.5,586.1 698.0,586.3 698.5,586.8 699.0,586.3 699.5,586.4 700.0,585.8 700.5,586.3 701.0,586.2 701.5,585.6 702.0,586.0 702.5,586.0 703.0,585.9 703.5,586.1 704.0,586.9 704.5,586.1 705.0,586.2 705.5,586.4 706.0,586.3 706.5,585.8 707.0,586.5 707.5,586.5 708.0,586.7 708.5,585.9 709.0,585.7 709.5,586.1 710.0,585.6 710.5,585.8 711.0,585.6 711.5,585.8 712.0,585.5 712.5,585.9 713.0,585.3 713.5,586.3 714.0,585.9 714.5,585.5 715.0,585.4 715.5,585.7 716.0,585.6 716.5,585.5 717.0,586.2 717.5,586.1 718.0,585.5 718.5,586.0 719.0,585.8 719.5,586.0 720.0,585.6 720.5,586.3 721.0,585.7 721.5,586.2 722.0,585.4 722.5,585.9 723.0,585.5 723.5,586.0 724.0,585.5 724.5,585.3 725.0,585.3 725.5,585.4 726.0,585.7 726.5,585.6 727.0,585.4 727.5,585.5 728.0,585.5 728.5,584.5 729.0,584.9 729.5,585.2 730.0,584.2 730.5,584.3 731.0,584.6 731.5,584.7 732.0,584.6 732.5,584.8 733.0,585.3 733.5,585.0 734.0,584.4 734.5,584.1 735.0,584.1 735.5,584.3 736.0,583.9 736.5,583.9 737.0,584.3 737.5,584.1 738.0,584.2 738.5,584.5 739.0,585.0 739.5,584.7 740.0,584.9 740.5,584.7 741.0,585.1 741.5,584.1 742.0,584.0 742.5,584.0 743.0,584.6 743.5,584.3 744.0,583.3 744.5,583.4 745.0,583.7 745.5,583.5 746.0,583.7 746.5,583.3 747.0,583.0 747.5,583.8 748.0,584.1 748.5,583.4 749.0,583.3 749.5,583.8 750.0,583.3 750.5,584.0 751.0,583.4 751.5,584.0 752.0,583.6 752.5,583.7 753.0,583.9 753.5,583.6 754.0,583.3 754.5,583.9 755.0,583.2 755.5,584.2 756.0,583.6 756.5,583.7 757.0,584.0 757.5,583.9 758.0,583.8 758.5,583.1 759.0,583.0 759.5,583.2 760.0,583.1 760.5,582.8 761.0,583.2 761.5,582.7 762.0,583.1 762.5,583.2 763.0,583.1 763.5,583.0 764.0,583.4 764.5,583.4 765.0,583.6 765.5,583.2 766.0,583.7 766.5,584.0 767.0,583.5 767.5,583.5 768.0,583.4 768.5,583.6 769.0,582.7 769.5,583.9 770.0,583.6 770.5,583.5 771.0,583.8 771.5,584.1 772.0,583.9 772.5,584.0 773.0,584.0 773.5,583.5 774.0,583.4 774.5,583.4 775.0,583.0 775.5,582.5 776.0,582.8 776.5,583.1 777.0,582.5 777.5,582.8 778.0,583.0 778.5,583.4 779.0,583.3 779.5,583.6 780.0,584.4 780.5,584.2 781.0,583.9 781.5,584.4 782.0,584.2 782.5,584.6 783.0,583.5 783.5,583.9 784.0,583.9 784.5,583.1 785.0,583.1 785.5,583.3 786.0,583.1 786.5,583.1 787.0,583.3 787.5,582.9 788.0,583.1 788.5,584.0 789.0,583.3 789.5,583.6 790.0,583.5 790.5,583.7 791.0,583.5 791.5,583.5 792.0,583.7 792.5,583.4 793.0,582.8 793.5,583.2 794.0,583.9 794.5,583.9 795.0,583.6 795.5,583.4 796.0,583.8 796.5,584.8 797.0,584.6 797.5,584.6 798.0,583.8 798.5,583.8 799.0,583.9 799.5,583.6 800.0,583.9 800.5,583.5 801.0,583.9 801.5,583.6 802.0,583.5 802.5,583.8 803.0,583.8 803.5,583.7 804.0,583.6 804.5,583.7 805.0,583.3 805.5,583.3 806.0,583.8 806.5,584.1 807.0,584.6 807.5,584.2 808.0,583.8 808.5,583.9 809.0,583.7 809.5,584.1 810.0,584.0 810.5,584.0 811.0,584.0 811.5,584.1 812.0,583.9 812.5,583.3 813.0,583.8 813.5,583.2 814.0,583.7 814.5,583.7 815.0,584.3 815.5,583.9 816.0,584.1 816.5,584.2 817.0,584.6 817.5,584.6 818.0,584.4 818.5,584.8 819.0,585.1 819.5,584.9 820.0,584.8 820.5,584.2 821.0,584.2 821.5,584.1 822.0,583.4 822.5,584.2 823.0,583.1 823.5,583.6 824.0,583.1 824.5,583.5 825.0,583.8 825.5,583.8 826.0,583.5 826.5,583.6 827.0,584.1 827.5,583.9 828.0,583.9 828.5,584.2 829.0,583.2 829.5,584.0 830.0,584.3 830.5,584.5 831.0,584.2 831.5,583.8 832.0,584.4 832.5,584.8 833.0,584.0 833.5,583.9 834.0,584.0 834.5,583.7 835.0,583.0 835.5,582.8 836.0,583.0 836.5,583.2 837.0,583.5 837.5,583.3 838.0,583.5 838.5,583.9 839.0,584.5 839.5,584.0 840.0,583.5 840.5,584.2 841.0,584.0 841.5,584.2 842.0,584.5 842.5,584.5 843.0,584.0 843.5,584.2 844.0,584.8 844.5,585.0 845.0,585.5 845.5,585.1 846.0,584.8 846.5,584.8 847.0,584.7 847.5,584.4 848.0,584.4 848.5,584.5 849.0,584.7 849.5,584.4 850.0,584.7 850.5,584.6 851.0,584.7 851.5,584.7 852.0,584.9 852.5,584.7 853.0,583.9 853.5,584.7 854.0,584.7 854.5,584.5 855.0,584.8 855.5,584.6 856.0,585.0 856.5,584.7 857.0,585.3 857.5,585.2 858.0,584.6 858.5,584.9 859.0,585.3 859.5,585.2 860.0,585.2 860.5,584.9 861.0,585.1 861.5,585.5 862.0,585.6 862.5,585.6 863.0,585.4 863.5,585.6 864.0,585.4 864.5,585.1 865.0,585.0 865.5,585.0 866.0,584.7 866.5,585.3 867.0,585.4" stroke="#d4d400"/>
<path d="M115.0,632.6 115.5,632.3 116.0,632.9 116.5,632.3 117.0,632.5 117.5,632.2 118.0,632.4 118.5,632.7 119.0,632.8 119.5,631.9 120.0,631.8 120.5,631.3 121.0,632.4 121.5,632.7 122.0,632.3 122.5,632.2 123.0,632.5 123.5,631.9 124.0,632.3 124.5,632.3 125.0,632.1 125.5,631.9 126.0,631.5 126.5,631.7 127.0,631.7 127.5,632.8 128.0,632.9 128.5,632.7 129.0,632.8 129.5,632.9 130.0,632.6 130.5,632.9 131.0,632.9 131.5,632.9 132.0,632.7 132.5,632.0 133.0,632.7 133.5,632.3 134.0,632.2 134.5,633.3 135.0,632.4 135.5,632.5 136.0,632.5 136.5,632.4 137.0,633.1 137.5,632.1 138.0,632.7 138.5,632.3 139.0,632.7 139.5,632.6 140.0,632.3 140.5,631.8 141.0,632.5 141.5,632.6 142.0,632.5 142.5,632.2 143.0,632.4 143.5,631.9 144.0,632.2 144.5,632.2 145.0,632.0 145.5,631.8 146.0,632.0 146.5,631.9 147.0,631.8 147.5,632.6 148.0,632.3 148.5,632.3 149.0,632.4 149.5,632.7 150.0,632.4 150.5,632.2 151.0,632.4 151.5,632.3 152.0,631.9 152.5,631.8 153.0,632.5 153.5,632.0 154.0,632.5 154.5,632.3 155.0,632.1 155.5,632.1 156.0,632.7 156.5,632.1 157.0,632.3 157.5,632.3 158.0,632.5 158.5,632.3 159.0,632.6 159.5,632.1 160.0,632.6 160.5,632.4 161.0,632.3 161.5,632.1 162.0,632.6 162.5,632.9 163.0,632.3 163.5,632.2 164.0,632.7 164.5,632.5 165.0,632.7 165.5,632.9 166.0,632.4 166.5,633.0 167.0,632.6 167.5,632.5 168.0,632.8 168.5,633.4 169.0,632.7 169.5,632.9 170.0,632.4 170.5,632.6 171.0,632.4 171.5,632.4 172.0,632.0 172.5,631.9 173.0,631.3 173.5,632.0 174.0,632.1 174.5,632.0 175.0,632.0 175.5,632.2 176.0,632.3 176.5,631.8 177.0,632.0 177.5,632.2 178.0,632.2 178.5,631.9 179.0,631.6 179.5,632.3 180.0,632.5 180.5,632.8 181.0,632.4 181.5,632.0 182.0,632.3 182.5,632.1 183.0,631.9 183.5,631.7 184.0,631.7 184.5,632.1 185.0,632.2 185.5,632.4 186.0,632.4 186.5,632.4 187.0,632.9 187.5,632.3 188.0,632.7 188.5,632.2 189.0,632.3 189.5,632.5 190.0,631.1 190.5,629.4 191.0,629.5 191.5,632.4 192.0,633.2 192.5,632.8 193.0,633.1 193.5,631.9 194.0,632.9 194.5,632.7 195.0,632.4 195.5,632.9 196.0,632.5 196.5,632.2 197.0,631.7 197.5,632.7 198.0,631.4 198.5,632.1 199.0,632.6 199.5,632.4 200.0,632.1 200.5,632.2 201.0,632.1 201.5,632.4 202.0,632.3 202.5,631.9 203.0,631.8 203.5,632.6 204.0,631.8 204.5,631.9 205.0,633.0 205.5,632.0 206.0,632.0 206.5,632.1 207.0,632.7 207.5,632.4 208.0,632.7 208.5,632.2 209.0,632.8 209.5,633.1 210.0,633.1 210.5,633.5 211.0,633.1 211.5,632.0 212.0,632.2 212.5,632.3 213.0,632.3 213.5,632.2 214.0,632.2 214.5,631.4 215.0,631.1 215.5,631.9 216.0,631.4 216.5,631.0 217.0,631.5 217.5,631.7 218.0,631.6 218.5,631.7 219.0,632.5 219.5,631.9 220.0,632.4 220.5,632.4 221.0,632.2 221.5,632.9 222.0,631.7 222.5,632.8 223.0,631.7 223.5,631.8 224.0,632.0 224.5,632.2 225.0,632.0 225.5,631.7 226.0,631.7 226.5,632.1 227.0,632.2 227.5,631.6 228.0,632.1 228.5,631.9 229.0,631.9 229.5,631.5 230.0,631.5 230.5,632.0 231.0,631.1 231.5,631.7 232.0,632.0 232.5,631.3 233.0,632.2 233.5,632.1 234.0,631.3 234.5,631.6 235.0,631.7 235.5,631.7 236.0,631.8 236.5,632.3 237.0,632.7 237.5,632.3 238.0,632.4 238.5,632.4 239.0,632.2 239.5,632.6 240.0,632.4 240.5,632.3 241.0,632.9 241.5,632.2 242.0,632.7 242.5,632.7 243.0,632.8 243.5,632.3 244.0,632.4 244.5,632.5 245.0,632.6 245.5,632.4 246.0,632.3 246.5,632.2 247.0,632.5 247.5,631.6 248.0,632.7 248.5,632.7 249.0,632.3 249.5,631.9 250.0,632.5 250.5,631.8 251.0,632.3 251.5,631.8 252.0,631.6 252.5,631.7 253.0,631.6 253.5,631.7 254.0,631.9 254.5,631.7 255.0,631.7 255.5,631.9 256.0,632.1 256.5,632.0 257.0,632.2 257.5,632.1 258.0,631.9 258.5,632.0 259.0,631.7 259.5,632.0 260.0,631.9 260.5,632.1 261.0,632.0 261.5,631.7 262.0,632.0 262.5,632.1 263.0,632.2 263.5,631.9 264.0,632.3 264.5,631.4 265.0,631.1 265.5,631.5 266.0,631.3 266.5,631.5 267.0,631.8 267.5,632.5 268.0,631.4 268.5,631.5 269.0,631.9 269.5,631.5 270.0,631.7 270.5,632.3 271.0,631.8 271.5,631.9 272.0,632.2 272.5,631.4 273.0,632.0 273.5,631.9 274.0,632.0 274.5,631.6 275.0,631.8 275.5,631.9 276.0,632.1 276.5,631.8 277.0,632.3 277.5,631.5 278.0,632.4 278.5,632.5 279.0,632.0 279.5,632.1 280.0,632.0 280.5,632.0 281.0,632.2 281.5,631.8 282.0,631.7 282.5,631.7 283.0,631.8 283.5,631.9 284.0,631.7 284.5,631.5 285.0,631.6 285.5,631.6 286.0,631.7 286.5,631.9 287.0,632.0 287.5,632.5 288.0,631.9 288.5,632.2 289.0,631.8 289.5,632.3 290.0,632.0 290.5,632.2 291.0,632.0 291.5,631.4 292.0,631.5 292.5,631.2 293.0,631.1 293.5,630.8 294.0,631.0 294.5,631.1 295.0,631.2 295.5,631.9 296.0,631.2 296.5,631.3 297.0,631.2 297.5,631.1 298.0,631.1 298.5,631.2 299.0,631.1 299.5,631.4 300.0,631.3 300.5,631.0 301.0,631.3 301.5,631.4 302.0,631.2 302.5,631.2 303.0,631.3 303.5,631.5 304.0,631.4 304.5,631.2 305.0,631.3 305.5,631.6 306.0,630.9 306.5,631.4 307.0,631.0 307.5,632.1 308.0,631.1 308.5,630.9 309.0,630.8 309.5,630.4 310.0,630.7 310.5,631.4 311.0,630.9 311.5,630.7 312.0,630.8 312.5,630.7 313.0,630.5 313.5,630.8 314.0,631.0 314.5,630.4 315.0,630.7 315.5,630.0 316.0,630.1 316.5,630.7 317.0,630.7 317.5,630.8 318.0,629.9 318.5,630.2 319.0,630.1 319.5,630.5 320.0,630.3 320.5,630.2 321.0,630.4 321.5,630.1 322.0,630.6 322.5,630.2 323.0,630.6 323.5,630.4 324.0,630.4 324.5,630.0 325.0,629.9 325.5,629.9 326.0,630.6 326.5,629.9 327.0,630.9 327.5,630.5 328.0,630.1 328.5,630.6 329.0,630.1 329.5,630.4 330.0,630.3 330.5,630.7 331.0,630.7 331.5,630.8 332.0,630.5 332.5,631.0 333.0,630.6 333.5,630.6 334.0,630.6 334.5,630.4 335.0,629.8 335.5,630.2 336.0,629.4 336.5,629.8 337.0,629.6 337.5,629.6 338.0,629.2 338.5,629.8 339.0,629.5 339.5,629.8 340.0,629.4 340.5,629.4 341.0,629.6 341.5,629.9 342.0,629.2 342.5,629.4 343.0,629.4 343.5,629.4 344.0,629.2 344.5,629.6 345.0,629.4 345.5,629.1 346.0,629.2 346.5,629.1 347.0,628.5 347.5,628.3 348.0,628.6 348.5,628.8 349.0,627.4 349.5,627.8 350.0,628.2 350.5,627.7 351.0,628.2 351.5,628.1 352.0,627.8 352.5,628.1 353.0,628.3 353.5,627.9 354.0,628.2 354.5,627.9 355.0,627.6 355.5,627.5 356.0,627.1 356.5,627.0 357.0,626.5 357.5,627.0 358.0,626.4 358.5,626.8 359.0,627.0 359.5,626.7 360.0,626.1 360.5,625.9 361.0,625.7 361.5,625.6 362.0,625.0 362.5,624.6 363.0,625.1 363.5,624.9 364.0,625.2 364.5,625.2 365.0,624.1 365.5,623.9 366.0,624.0 366.5,623.7 367.0,622.9 367.5,622.3 368.0,621.2 368.5,621.8 369.0,620.4 369.5,620.2 370.0,619.5 370.5,618.6 371.0,618.5 371.5,618.2 372.0,617.2 372.5,616.7 373.0,616.4 373.5,615.9 374.0,615.4 374.5,614.3 375.0,613.7 375.5,613.2 376.0,611.9 376.5,611.6 377.0,611.2 377.5,610.3 378.0,609.5 378.5,609.2 379.0,608.2 379.5,607.6 380.0,606.5 380.5,605.6 381.0,604.7 381.5,604.4 382.0,603.1 382.5,602.8 383.0,602.8 383.5,602.4 384.0,601.8 384.5,601.1 385.0,601.2 385.5,600.4 386.0,600.0 386.5,599.3 387.0,599.6 387.5,599.1 388.0,598.0 388.5,597.5 389.0,597.5 389.5,597.4 390.0,597.2 390.5,596.4 391.0,595.5 391.5,595.4 392.0,594.5 392.5,593.0 393.0,592.3 393.5,591.0 394.0,589.6 394.5,588.6 395.0,587.5 395.5,586.1 396.0,584.1 396.5,582.7 397.0,581.5 397.5,579.3 398.0,577.1 398.5,575.4 399.0,571.5 399.5,569.4 400.0,566.7 400.5,564.3 401.0,562.4 401.5,559.4 402.0,556.5 402.5,553.1 403.0,548.8 403.5,544.1 404.0,539.3 404.5,532.6 405.0,526.7 405.5,520.3 406.0,513.3 406.5,507.6 407.0,501.0 407.5,494.2 408.0,488.7 408.5,483.2 409.0,477.8 409.5,473.7 410.0,469.3 410.5,465.8 411.0,464.1 411.5,462.5 412.0,462.3 412.5,462.5 413.0,464.4 413.5,467.1 414.0,470.8 414.5,475.0 415.0,480.3 415.5,485.7 416.0,491.2 416.5,497.4 417.0,504.4 417.5,510.5 418.0,517.4 418.5,523.6 419.0,530.1 419.5,536.3 420.0,542.0 420.5,547.6 421.0,552.1 421.5,556.3 422.0,560.0 422.5,563.8 423.0,565.7 423.5,569.1 424.0,572.0 424.5,574.5 425.0,577.6 425.5,580.4 426.0,583.3 426.5,585.8 427.0,588.6 427.5,591.2 428.0,593.3 428.5,595.7 429.0,597.2 429.5,598.7 430.0,599.8 430.5,601.8 431.0,602.5 431.5,603.5 432.0,605.1 432.5,605.9 433.0,607.2 433.5,608.1 434.0,609.4 434.5,610.4 435.0,610.7 435.5,612.7 436.0,613.4 436.5,613.4 437.0,614.7 437.5,614.9 438.0,615.5 438.5,616.3 439.0,616.7 439.5,617.2 440.0,618.0 440.5,618.1 441.0,618.0 441.5,618.0 442.0,618.8 442.5,618.3 443.0,618.9 443.5,619.2 444.0,619.3 444.5,620.2 445.0,620.2 445.5,620.3 446.0,620.8 446.5,620.7 447.0,621.3 447.5,621.7 448.0,621.2 448.5,621.2 449.0,621.6 449.5,620.7 450.0,620.9 450.5,621.1 451.0,621.0 451.5,621.6 452.0,621.9 452.5,622.1 453.0,622.3 453.5,622.7 454.0,623.0 454.5,623.2 455.0,622.9 455.5,623.1 456.0,623.7 456.5,623.5 457.0,623.8 457.5,623.4 458.0,623.5 458.5,623.4 459.0,623.6 459.5,623.7 460.0,623.5 460.5,624.3 461.0,623.4 461.5,624.2 462.0,623.8 462.5,624.3 463.0,624.2 463.5,624.5 464.0,624.5 464.5,624.2 465.0,624.0 465.5,624.1 466.0,624.3 466.5,624.6 467.0,624.9 467.5,624.1 468.0,624.8 468.5,624.7 469.0,624.9 469.5,625.1 470.0,625.2 470.5,625.1 471.0,624.9 471.5,625.2 472.0,624.8 472.5,624.7 473.0,625.0 473.5,624.4 474.0,624.6 474.5,625.4 475.0,625.1 475.5,624.8 476.0,625.6 476.5,625.8 477.0,625.3 477.5,625.3 478.0,625.7 478.5,626.0 479.0,625.8 479.5,625.8 480.0,626.3 480.5,626.4 481.0,626.0 481.5,626.3 482.0,626.7 482.5,626.6 483.0,626.8 483.5,626.7 484.0,626.9 484.5,626.3 485.0,626.3 485.5,625.5 486.0,625.8 486.5,626.3 487.0,625.6 487.5,626.4 488.0,626.2 488.5,626.0 489.0,625.8 489.5,625.4 490.0,625.4 490.5,625.6 491.0,625.7 491.5,626.2 492.0,625.7 492.5,626.0 493.0,625.8 493.5,626.5 494.0,626.5 494.5,627.0 495.0,627.3 495.5,627.0 496.0,626.6 496.5,626.8 497.0,626.8 497.5,626.6 498.0,626.3 498.5,626.8 499.0,626.4 499.5,626.9 500.0,626.9 500.5,626.4 501.0,627.5 501.5,628.0 502.0,627.4 502.5,627.5 503.0,628.0 503.5,627.5 504.0,628.0 504.5,628.1 505.0,627.9 505.5,628.0 506.0,627.7 506.5,627.7 507.0,627.9 507.5,627.3 508.0,627.3 508.5,627.1 509.0,627.3 509.5,626.9 510.0,626.7 510.5,627.1 511.0,626.5 511.5,626.7 512.0,627.5 512.5,628.0 513.0,627.4 513.5,627.7 514.0,627.1 514.5,627.4 515.0,627.4 515.5,627.4 516.0,627.0 516.5,627.8 517.0,627.1 517.5,627.9 518.0,627.2 518.5,627.7 519.0,627.7 519.5,627.7 520.0,626.7 520.5,625.9 521.0,626.3 521.5,625.6 522.0,625.3 522.5,625.4 523.0,625.4 523.5,625.9 524.0,625.9 524.5,626.1 525.0,626.2 525.5,625.9 526.0,626.3 526.5,626.5 527.0,626.7 527.5,626.2 528.0,626.1 528.5,625.9 529.0,626.0 529.5,626.0 530.0,626.0 530.5,625.5 531.0,625.6 531.5,625.6 532.0,625.4 532.5,625.2 533.0,625.4 533.5,625.0 534.0,625.3 534.5,624.8 535.0,625.2 535.5,624.7 536.0,625.3 536.5,625.0 537.0,625.1 537.5,624.3 538.0,624.1 538.5,624.0 539.0,624.2 539.5,624.5 540.0,624.3 540.5,624.3 541.0,623.7 541.5,624.5 542.0,624.4 542.5,624.1 543.0,623.5 543.5,624.0 544.0,624.1 544.5,624.5 545.0,624.0 545.5,623.8 546.0,624.1 546.5,623.9 547.0,623.3 547.5,623.0 548.0,622.9 548.5,622.0 549.0,622.0 549.5,621.5 550.0,621.2 550.5,621.5 551.0,621.5 551.5,621.5 552.0,621.0 552.5,620.8 553.0,620.1 553.5,619.4 554.0,619.3 554.5,619.3 555.0,618.7 555.5,619.1 556.0,618.6 556.5,617.9 557.0,618.2 557.5,617.7 558.0,617.6 558.5,616.7 559.0,616.6 559.5,615.8 560.0,615.3 560.5,615.1 561.0,614.7 561.5,613.7 562.0,613.2 562.5,612.3 563.0,611.9 563.5,611.5 564.0,610.3 564.5,609.9 565.0,609.1 565.5,608.8 566.0,608.4 566.5,607.5 567.0,606.7 567.5,605.8 568.0,605.0 568.5,604.7 569.0,604.4 569.5,603.1 570.0,602.4 570.5,601.5 571.0,600.6 571.5,600.6 572.0,599.8 572.5,598.5 573.0,597.9 573.5,598.0 574.0,596.6 574.5,596.1 575.0,595.0 575.5,594.6 576.0,593.4 576.5,592.6 577.0,591.7 577.5,591.7 578.0,591.2 578.5,589.7 579.0,589.2 579.5,588.5 580.0,587.6 580.5,587.0 581.0,586.3 581.5,586.0 582.0,584.8 582.5,584.3 583.0,584.2 583.5,583.0 584.0,583.3 584.5,582.3 585.0,581.9 585.5,581.9 586.0,581.2 586.5,581.0 587.0,580.7 587.5,581.0 588.0,581.1 588.5,580.7 589.0,581.3 589.5,581.5 590.0,581.6 590.5,581.4 591.0,582.2 591.5,582.7 592.0,582.6 592.5,582.7 593.0,583.6 593.5,584.3 594.0,585.2 594.5,585.7 595.0,586.0 595.5,586.1 596.0,587.1 596.5,587.7 597.0,588.3 597.5,589.1 598.0,591.1 598.5,591.5 599.0,593.5 599.5,595.0 600.0,595.6 600.5,596.4 601.0,597.5 601.5,598.5 602.0,599.7 602.5,600.8 603.0,601.2 603.5,602.2 604.0,602.9 604.5,604.1 605.0,604.7 605.5,604.8 606.0,605.5 606.5,606.2 607.0,606.2 607.5,607.1 608.0,607.9 608.5,608.1 609.0,609.3 609.5,610.0 610.0,610.6 610.5,611.9 611.0,612.1 611.5,613.1 612.0,613.5 612.5,614.4 613.0,614.3 613.5,615.0 614.0,615.3 614.5,615.7 615.0,616.0 615.5,615.4 616.0,616.1 616.5,616.2 617.0,617.1 617.5,617.6 618.0,617.5 618.5,618.1 619.0,618.9 619.5,619.0 620.0,619.3 620.5,619.2 621.0,619.8 621.5,620.4 622.0,619.8 622.5,620.3 623.0,620.2 623.5,620.2 624.0,620.5 624.5,620.2 625.0,621.1 625.5,621.0 626.0,621.8 626.5,621.7 627.0,622.3 627.5,622.5 628.0,623.4 628.5,622.9 629.0,623.3 629.5,624.2 630.0,624.3 630.5,624.3 631.0,624.4 631.5,624.2 632.0,624.5 632.5,624.8 633.0,625.0 633.5,625.0 634.0,625.2 634.5,625.0 635.0,624.8 635.5,625.1 636.0,625.8 636.5,625.7 637.0,626.3 637.5,625.7 638.0,626.2 638.5,626.2 639.0,626.6 639.5,626.3 640.0,626.2 640.5,626.6 641.0,626.0 641.5,626.6 642.0,627.1 642.5,626.9 643.0,627.4 643.5,627.4 644.0,627.7 644.5,627.9 645.0,628.0 645.5,628.1 646.0,627.8 646.5,628.5 647.0,628.2 647.5,627.9 648.0,628.6 648.5,628.1 649.0,628.9 649.5,628.8 650.0,628.7 650.5,628.9 651.0,629.1 651.5,629.3 652.0,629.7 652.5,630.4 653.0,630.2 653.5,630.1 654.0,630.3 654.5,630.0 655.0,629.5 655.5,629.2 656.0,629.9 656.5,629.2 657.0,629.7 657.5,629.8 658.0,629.4 658.5,629.7 659.0,629.5 659.5,629.7 660.0,630.0 660.5,630.1 661.0,630.6 661.5,630.2 662.0,630.5 662.5,630.3 663.0,630.4 663.5,630.8 664.0,629.8 664.5,630.6 665.0,630.1 665.5,630.2 666.0,629.9 666.5,629.7 667.0,629.3 667.5,628.7 668.0,630.1 668.5,629.7 669.0,629.5 669.5,629.3 670.0,630.3 670.5,630.9 671.0,630.8 671.5,630.4 672.0,630.9 672.5,631.3 673.0,631.3 673.5,631.6 674.0,631.0 674.5,631.0 675.0,630.4 675.5,631.4 676.0,631.2 676.5,630.9 677.0,630.6 677.5,631.5 678.0,630.9 678.5,631.1 679.0,630.9 679.5,631.1 680.0,631.2 680.5,631.0 681.0,631.6 681.5,631.4 682.0,631.2 682.5,630.9 683.0,631.1 683.5,630.7 684.0,631.3 684.5,630.9 685.0,631.0 685.5,631.2 686.0,630.7 686.5,630.5 687.0,631.2 687.5,630.3 688.0,630.5 688.5,630.7 689.0,631.0 689.5,631.4 690.0,630.6 690.5,631.6 691.0,632.2 691.5,632.2 692.0,632.2 692.5,631.9 693.0,632.0 693.5,631.7 694.0,631.3 694.5,631.8 695.0,631.9 695.5,631.5 696.0,631.3 696.5,631.5 697.0,631.4 697.5,631.6 698.0,631.1 698.5,630.7 699.0,631.4 699.5,631.6 700.0,631.2 700.5,631.6 701.0,631.9 701.5,631.0 702.0,632.7 702.5,632.4 703.0,632.2 703.5,632.1 704.0,632.0 704.5,633.6 705.0,632.4 705.5,632.6 706.0,632.1 706.5,632.0 707.0,632.1 707.5,631.4 708.0,631.5 708.5,631.4 709.0,631.6 709.5,631.8 710.0,631.6 710.5,632.2 711.0,631.6 711.5,631.6 712.0,631.6 712.5,631.4 713.0,631.6 713.5,630.5 714.0,630.8 714.5,630.7 715.0,631.9 715.5,631.7 716.0,631.3 716.5,631.6 717.0,631.0 717.5,631.4 718.0,632.0 718.5,631.7 719.0,632.2 719.5,631.5 720.0,632.1 720.5,631.8 721.0,631.9 721.5,631.8 722.0,631.9 722.5,632.1 723.0,631.7 723.5,631.8 724.0,631.7 724.5,631.9 725.0,631.6 725.5,632.2 726.0,632.2 726.5,632.0 727.0,631.8 727.5,631.4 728.0,631.2 728.5,631.0 729.0,631.0 729.5,631.4 730.0,631.2 730.5,630.6 731.0,630.8 731.5,631.5 732.0,631.7 732.5,631.6 733.0,632.1 733.5,631.4 734.0,631.8 734.5,631.4 735.0,632.2 735.5,631.6 736.0,631.5 736.5,631.4 737.0,631.1 737.5,631.3 738.0,630.7 738.5,631.4 739.0,631.4 739.5,632.0 740.0,632.3 740.5,632.0 741.0,631.7 741.5,631.7 742.0,632.2 742.5,632.0 743.0,632.1 743.5,632.0 744.0,632.5 744.5,632.6 745.0,632.9 745.5,632.4 746.0,632.6 746.5,632.1 747.0,632.4 747.5,632.1 748.0,631.9 748.5,632.1 749.0,631.3 749.5,632.0 750.0,631.6 750.5,631.5 751.0,631.3 751.5,630.9 752.0,630.9 752.5,631.4 753.0,631.2 753.5,631.4 754.0,631.2 754.5,631.6 755.0,631.6 755.5,631.0 756.0,632.0 756.5,631.7 757.0,631.6 757.5,631.5 758.0,631.4 758.5,631.7 759.0,632.3 759.5,631.6 760.0,631.4 760.5,631.8 761.0,631.9 761.5,632.3 762.0,631.6 762.5,631.8 763.0,631.9 763.5,632.2 764.0,632.3 764.5,632.0 765.0,632.2 765.5,631.9 766.0,631.9 766.5,631.1 767.0,631.5 767.5,631.5 768.0,632.1 768.5,632.0 769.0,631.8 769.5,632.2 770.0,632.2 770.5,632.4 771.0,632.1 771.5,632.1 772.0,632.6 772.5,632.1 773.0,632.4 773.5,631.8 774.0,631.9 774.5,631.7 775.0,631.4 775.5,631.8 776.0,631.1 776.5,631.6 777.0,630.8 777.5,631.7 778.0,631.6 778.5,631.9 779.0,632.3 779.5,631.5 780.0,631.8 780.5,631.5 781.0,631.8 781.5,632.0 782.0,632.0 782.5,632.2 783.0,632.1 783.5,632.3 784.0,631.8 784.5,632.0 785.0,631.7 785.5,632.0 786.0,631.4 786.5,632.2 787.0,632.4 787.5,632.3 788.0,632.3 788.5,631.9 789.0,632.2 789.5,632.1 790.0,632.2 790.5,632.2 791.0,631.7 791.5,631.7 792.0,631.8 792.5,631.5 793.0,632.2 793.5,632.7 794.0,632.3 794.5,632.1 795.0,632.3 795.5,632.5 796.0,632.3 796.5,631.4 797.0,631.8 797.5,631.4 798.0,631.5 798.5,631.8 799.0,632.1 799.5,632.1 800.0,632.2 800.5,632.6 801.0,632.6 801.5,633.5 802.0,632.6 802.5,633.3 803.0,633.1 803.5,633.0 804.0,632.6 804.5,632.7 805.0,632.7 805.5,632.6 806.0,632.7 806.5,632.7 807.0,632.5 807.5,632.7 808.0,632.7 808.5,632.3 809.0,632.6 809.5,632.4 810.0,632.2 810.5,632.6 811.0,632.9 811.5,632.7 812.0,632.4 812.5,633.2 813.0,633.4 813.5,632.8 814.0,633.1 814.5,633.4 815.0,632.6 815.5,633.5 816.0,633.6 816.5,633.6 817.0,633.7 817.5,632.9 818.0,633.3 818.5,633.6 819.0,632.1 819.5,632.7 820.0,633.0 820.5,632.6 821.0,632.4 821.5,633.1 822.0,633.1 822.5,632.9 823.0,633.1 823.5,633.3 824.0,633.2 824.5,633.0 825.0,632.5 825.5,632.8 826.0,632.3 826.5,632.7 827.0,633.1 827.5,633.3 828.0,633.2 828.5,633.2 829.0,632.7 829.5,632.9 830.0,632.9 830.5,633.1 831.0,633.1 831.5,634.0 832.0,633.7 832.5,633.1 833.0,633.3 833.5,633.4 834.0,633.5 834.5,633.5 835.0,633.0 835.5,633.8 836.0,633.5 836.5,633.4 837.0,633.1 837.5,633.2 838.0,632.9 838.5,632.6 839.0,633.3 839.5,633.5 840.0,633.2 840.5,633.0 841.0,634.1 841.5,633.4 842.0,633.5 842.5,633.2 843.0,633.7 843.5,632.6 844.0,633.3 844.5,632.2 845.0,633.2 845.5,632.8 846.0,632.4 846.5,633.2 847.0,633.2 847.5,632.9 848.0,633.6 848.5,633.7 849.0,634.0 849.5,633.5 850.0,633.7 850.5,633.6 851.0,633.8 851.5,633.4 852.0,633.2 852.5,633.8 853.0,633.2 853.5,633.8 854.0,633.9 854.5,633.6 855.0,633.5 855.5,634.2 856.0,634.5 856.5,634.7 857.0,634.4 857.5,634.4 858.0,634.1 858.5,633.9 859.0,635.1 859.5,634.3 860.0,633.5 860.5,633.9 861.0,633.9 861.5,633.1 862.0,633.5 862.5,633.7 863.0,633.9 863.5,633.8 864.0,633.2 864.5,633.2 865.0,633.2 865.5,633.6 866.0,634.0 866.5,633.6 867.0,634.1" stroke="#ff8080"/>
<path d="M115.0,689.7 115.5,687.9 116.0,687.2 116.5,686.7 117.0,689.9 117.5,689.0 118.0,690.6 118.5,690.0 119.0,690.7 119.5,689.5 120.0,688.1 120.5,688.4 121.0,689.8 121.5,687.3 122.0,689.3 122.5,688.3 123.0,690.0 123.5,688.1 124.0,688.0 124.5,689.7 125.0,685.5 125.5,689.8 126.0,689.0 126.5,688.1 127.0,689.4 127.5,688.2 128.0,689.3 128.5,688.8 129.0,689.5 129.5,687.7 130.0,688.0 130.5,690.5 131.0,689.0 131.5,688.5 132.0,687.8 132.5,688.2 133.0,688.9 133.5,687.5 134.0,688.7 134.5,688.4 135.0,686.7 135.5,688.7 136.0,689.9 136.5,688.3 137.0,688.5 137.5,689.0 138.0,688.1 138.5,686.9 139.0,688.7 139.5,688.2 140.0,688.0 140.5,690.1 141.0,688.8 141.5,687.9 142.0,688.0 142.5,690.3 143.0,689.5 143.5,686.9 144.0,689.3 144.5,688.2 145.0,688.1 145.5,689.8 146.0,689.4 146.5,687.8 147.0,688.7 147.5,689.3 148.0,688.6 148.5,689.1 149.0,688.0 149.5,690.0 150.0,690.2 150.5,688.0 151.0,687.3 151.5,688.2 152.0,689.6 152.5,688.9 153.0,688.6 153.5,688.9 154.0,687.2 154.5,688.7 155.0,688.6 155.5,688.1 156.0,689.5 156.5,688.0 157.0,688.1 157.5,689.4 158.0,689.3 158.5,688.8 159.0,688.9 159.5,689.1 160.0,689.0 160.5,687.7 161.0,689.5 161.5,690.7 162.0,689.1 162.5,688.4 163.0,689.9 163.5,689.3 164.0,687.9 164.5,688.6 165.0,688.1 165.5,689.7 166.0,687.4 166.5,690.0 167.0,688.0 167.5,689.0 168.0,688.3 168.5,689.1 169.0,689.9 169.5,689.3 170.0,687.5 170.5,688.4 171.0,688.8 171.5,690.6 172.0,688.2 172.5,688.3 173.0,687.9 173.5,688.6 174.0,689.4 174.5,687.7 175.0,690.1 175.5,690.0 176.0,689.5 176.5,689.3 177.0,691.2 177.5,687.6 178.0,688.1 178.5,690.9 179.0,687.5 179.5,689.0 180.0,688.5 180.5,687.8 181.0,687.7 181.5,688.5 182.0,689.0 182.5,689.2 183.0,689.3 183.5,688.8 184.0,688.7 184.5,689.3 185.0,688.1 185.5,687.4 186.0,689.5 186.5,686.6 187.0,689.3 187.5,690.0 188.0,687.4 188.5,686.5 189.0,687.8 189.5,689.0 190.0,687.7 190.5,689.7 191.0,689.3 191.5,687.7 192.0,689.5 192.5,687.2 193.0,688.2 193.5,688.9 194.0,690.0 194.5,689.5 195.0,690.2 195.5,687.2 196.0,691.9 196.5,687.8 197.0,689.0 197.5,690.3 198.0,689.2 198.5,689.9 199.0,687.5 199.5,687.6 200.0,688.2 200.5,688.1 201.0,688.8 201.5,688.4 202.0,687.5 202.5,688.9 203.0,687.3 203.5,688.0 204.0,689.0 204.5,687.8 205.0,688.7 205.5,689.4 206.0,690.2 206.5,689.9 207.0,689.6 207.5,689.2 208.0,687.4 208.5,687.8 209.0,687.8 209.5,688.1 210.0,688.6 210.5,687.7 211.0,688.3 211.5,689.8 212.0,688.2 212.5,686.7 213.0,688.4 213.5,688.5 214.0,688.3 214.5,690.9 215.0,689.6 215.5,690.4 216.0,688.1 216.5,689.5 217.0,688.9 217.5,688.6 218.0,687.8 218.5,688.9 219.0,686.7 219.5,689.7 220.0,691.5 220.5,690.2 221.0,686.6 221.5,688.9 222.0,687.9 222.5,688.1 223.0,688.4 223.5,689.9 224.0,689.4 224.5,687.8 225.0,689.2 225.5,688.8 226.0,690.7 226.5,687.2 227.0,688.6 227.5,687.7 228.0,688.6 228.5,686.6 229.0,687.7 229.5,688.6 230.0,688.1 230.5,687.8 231.0,688.5 231.5,688.1 232.0,687.7 232.5,688.4 233.0,688.7 233.5,689.0 234.0,686.9 234.5,688.3 235.0,689.9 235.5,687.2 236.0,688.8 236.5,688.2 237.0,689.8 237.5,689.9 238.0,688.9 238.5,688.2 239.0,687.1 239.5,688.1 240.0,687.8 240.5,688.7 241.0,690.2 241.5,690.6 242.0,689.0 242.5,688.8 243.0,688.5 243.5,689.0 244.0,688.5 244.5,690.4 245.0,687.9 245.5,688.8 246.0,688.0 246.5,689.6 247.0,690.5 247.5,689.3 248.0,688.8 248.5,688.7 249.0,689.2 249.5,688.2 250.0,690.3 250.5,690.4 251.0,689.7 251.5,689.5 252.0,688.2 252.5,690.5 253.0,687.3 253.5,687.9 254.0,690.8 254.5,688.2 255.0,687.8 255.5,687.0 256.0,689.7 256.5,689.8 257.0,688.8 257.5,687.0 258.0,688.5 258.5,687.8 259.0,689.5 259.5,690.1 260.0,689.1 260.5,689.0 261.0,690.1 261.5,690.3 262.0,687.4 262.5,689.1 263.0,687.4 263.5,687.8 264.0,689.7 264.5,687.5 265.0,688.4 265.5,689.8 266.0,689.0 266.5,686.9 267.0,688.5 267.5,688.3 268.0,687.7 268.5,690.6 269.0,688.6 269.5,688.6 270.0,689.6 270.5,688.7 271.0,687.2 271.5,688.5 272.0,689.0 272.5,688.7 273.0,689.6 273.5,689.4 274.0,689.0 274.5,688.4 275.0,688.5 275.5,690.4 276.0,686.9 276.5,689.6 277.0,688.9 277.5,687.8 278.0,688.5 278.5,689.1 279.0,687.1 279.5,688.6 280.0,689.0 280.5,687.6 281.0,688.6 281.5,689.8 282.0,688.6 282.5,687.6 283.0,686.8 283.5,686.7 284.0,689.4 284.5,688.2 285.0,688.3 285.5,688.2 286.0,687.6 286.5,690.1 287.0,689.0 287.5,689.8 288.0,687.1 288.5,688.9 289.0,689.0 289.5,687.2 290.0,687.4 290.5,687.5 291.0,689.3 291.5,688.5 292.0,687.6 292.5,688.9 293.0,687.6 293.5,688.4 294.0,688.1 294.5,687.4 295.0,689.1 295.5,688.2 296.0,685.9 296.5,688.0 297.0,689.6 297.5,685.9 298.0,689.0 298.5,688.3 299.0,686.9 299.5,688.1 300.0,687.0 300.5,686.6 301.0,688.4 301.5,688.3 302.0,686.3 302.5,687.5 303.0,688.0 303.5,686.5 304.0,689.1 304.5,687.3 305.0,688.4 305.5,688.6 306.0,687.0 306.5,688.3 307.0,688.0 307.5,688.3 308.0,687.5 308.5,688.8 309.0,688.6 309.5,689.4 310.0,688.9 310.5,686.5 311.0,687.3 311.5,688.2 312.0,688.8 312.5,687.1 313.0,687.8 313.5,688.1 314.0,687.6 314.5,688.7 315.0,686.7 315.5,688.2 316.0,686.9 316.5,688.1 317.0,686.7 317.5,687.4 318.0,688.5 318.5,686.7 319.0,687.7 319.5,688.2 320.0,687.5 320.5,687.3 321.0,687.5 321.5,686.6 322.0,688.2 322.5,688.2 323.0,689.2 323.5,687.7 324.0,688.5 324.5,686.9 325.0,687.9 325.5,686.5 326.0,687.6 326.5,687.0 327.0,688.3 327.5,685.3 328.0,687.1 328.5,687.0 329.0,687.9 329.5,686.6 330.0,686.8 330.5,688.4 331.0,686.6 331.5,686.8 332.0,688.2 332.5,685.0 333.0,687.4 333.5,687.3 334.0,687.2 334.5,685.1 335.0,685.4 335.5,686.0 336.0,685.9 336.5,687.3 337.0,686.2 337.5,687.9 338.0,686.4 338.5,687.0 339.0,685.7 339.5,685.7 340.0,686.6 340.5,687.0 341.0,685.4 341.5,687.2 342.0,685.6 342.5,687.3 343.0,684.5 343.5,685.3 344.0,686.2 344.5,685.4 345.0,684.8 345.5,685.9 346.0,686.1 346.5,684.7 347.0,685.8 347.5,684.5 348.0,684.1 348.5,686.0 349.0,684.1 349.5,684.1 350.0,685.2 350.5,683.4 351.0,683.4 351.5,684.0 352.0,684.2 352.5,684.9 353.0,683.7 353.5,683.2 354.0,682.5 354.5,683.3 355.0,683.1 355.5,684.5 356.0,681.7 356.5,681.5 357.0,681.3 357.5,682.7 358.0,683.3 358.5,684.3 359.0,681.0 359.5,682.6 360.0,681.7 360.5,683.7 361.0,682.4 361.5,683.3 362.0,681.7 362.5,682.6 363.0,681.7 363.5,680.6 364.0,681.9 364.5,680.5 365.0,678.4 365.5,680.2 366.0,678.9 366.5,680.3 367.0,680.9 367.5,679.3 368.0,679.2 368.5,677.0 369.0,677.1 369.5,676.8 370.0,678.9 370.5,676.1 371.0,676.3 371.5,673.8 372.0,674.6 372.5,674.8 373.0,674.0 373.5,673.4 374.0,673.7 374.5,673.3 375.0,671.3 375.5,670.7 376.0,672.2 376.5,672.1 377.0,669.7 377.5,671.4 378.0,669.1 378.5,670.0 379.0,671.2 379.5,668.1 380.0,669.5 380.5,669.1 381.0,668.0 381.5,669.7 382.0,667.8 382.5,667.9 383.0,667.2 383.5,668.5 384.0,668.5 384.5,669.0 385.0,667.2 385.5,666.3 386.0,668.3 386.5,666.0 387.0,666.9 387.5,667.4 388.0,666.2 388.5,663.2 389.0,663.4 389.5,663.1 390.0,664.0 390.5,661.7 391.0,662.3 391.5,660.9 392.0,659.8 392.5,658.5 393.0,656.6 393.5,657.3 394.0,654.2 394.5,653.1 395.0,647.9 395.5,644.1 396.0,643.9 396.5,638.1 397.0,636.1 397.5,632.3 398.0,629.2 398.5,625.4 399.0,620.9 399.5,616.9 400.0,614.1 400.5,608.8 401.0,606.5 401.5,599.8 402.0,595.7 402.5,588.1 403.0,583.3 403.5,575.5 404.0,568.5 404.5,561.1 405.0,552.4 405.5,549.4 406.0,540.4 406.5,536.2 407.0,533.0 407.5,527.9 408.0,524.6 408.5,522.3 409.0,519.1 409.5,517.1 410.0,515.9 410.5,519.3 411.0,525.4 411.5,532.6 412.0,541.9 412.5,548.2 413.0,556.1 413.5,562.8 414.0,569.8 414.5,579.9 415.0,585.6 415.5,592.8 416.0,597.5 416.5,602.4 417.0,608.5 417.5,614.3 418.0,618.8 418.5,623.6 419.0,628.4 419.5,631.2 420.0,634.6 420.5,636.8 421.0,639.0 421.5,641.2 422.0,642.4 422.5,647.3 423.0,649.9 423.5,649.8 424.0,651.7 424.5,653.5 425.0,656.3 425.5,657.5 426.0,658.6 426.5,660.1 427.0,659.8 427.5,662.6 428.0,663.8 428.5,665.7 429.0,665.6 429.5,666.9 430.0,668.6 430.5,672.0 431.0,669.6 431.5,672.9 432.0,670.7 432.5,672.2 433.0,671.7 433.5,674.4 434.0,673.6 434.5,674.1 435.0,675.2 435.5,675.8 436.0,674.2 436.5,675.4 437.0,675.0 437.5,676.9 438.0,673.9 438.5,678.4 439.0,676.2 439.5,674.6 440.0,677.2 440.5,676.3 441.0,677.4 441.5,677.6 442.0,678.8 442.5,676.1 443.0,678.5 443.5,679.4 444.0,677.2 444.5,679.4 445.0,679.7 445.5,678.5 446.0,677.4 446.5,679.6 447.0,679.2 447.5,681.5 448.0,679.9 448.5,681.1 449.0,681.0 449.5,681.1 450.0,680.0 450.5,680.8 451.0,681.9 451.5,682.0 452.0,682.2 452.5,683.4 453.0,682.9 453.5,683.9 454.0,683.5 454.5,684.1 455.0,683.4 455.5,682.7 456.0,685.2 456.5,685.4 457.0,685.4 457.5,684.1 458.0,686.1 458.5,685.2 459.0,685.4 459.5,684.6 460.0,684.8 460.5,684.7 461.0,685.7 461.5,684.6 462.0,685.3 462.5,684.8 463.0,684.1 463.5,685.4 464.0,685.5 464.5,685.5 465.0,682.5 465.5,686.4 466.0,685.4 466.5,684.5 467.0,687.3 467.5,685.5 468.0,686.2 468.5,685.6 469.0,683.2 469.5,686.6 470.0,684.3 470.5,686.5 471.0,685.4 471.5,684.6 472.0,683.1 472.5,685.0 473.0,684.5 473.5,685.5 474.0,684.4 474.5,686.2 475.0,685.0 475.5,685.1 476.0,687.5 476.5,686.3 477.0,684.9 477.5,685.9 478.0,683.9 478.5,684.8 479.0,685.4 479.5,684.8 480.0,684.6 480.5,686.2 481.0,685.0 481.5,684.8 482.0,685.0 482.5,684.9 483.0,686.3 483.5,685.8 484.0,684.1 484.5,686.9 485.0,686.6 485.5,685.3 486.0,684.6 486.5,685.6 487.0,685.0 487.5,686.1 488.0,685.5 488.5,686.8 489.0,684.0 489.5,685.0 490.0,685.9 490.5,685.1 491.0,685.2 491.5,684.5 492.0,687.5 492.5,681.9 493.0,678.3 493.5,681.3 494.0,685.2 494.5,685.5 495.0,687.2 495.5,687.0 496.0,687.7 496.5,687.1 497.0,687.1 497.5,685.4 498.0,685.0 498.5,686.9 499.0,684.9 499.5,686.2 500.0,685.1 500.5,684.6 501.0,685.7 501.5,684.8 502.0,685.4 502.5,686.5 503.0,685.5 503.5,686.7 504.0,685.3 504.5,686.1 505.0,684.7 505.5,687.0 506.0,683.7 506.5,686.0 507.0,686.3 507.5,683.2 508.0,684.2 508.5,684.3 509.0,685.7 509.5,685.6 510.0,685.5 510.5,686.5 511.0,688.1 511.5,684.9 512.0,686.3 512.5,686.0 513.0,687.1 513.5,684.0 514.0,684.5 514.5,685.1 515.0,685.1 515.5,686.5 516.0,685.8 516.5,684.4 517.0,685.7 517.5,684.9 518.0,685.8 518.5,686.4 519.0,685.9 519.5,687.9 520.0,689.0 520.5,687.3 521.0,685.4 521.5,688.3 522.0,689.1 522.5,686.9 523.0,687.5 523.5,688.3 524.0,687.5 524.5,688.6 525.0,687.9 525.5,686.9 526.0,687.1 526.5,687.4 527.0,687.0 527.5,689.0 528.0,688.1 528.5,687.7 529.0,688.7 529.5,688.1 530.0,689.1 530.5,689.7 531.0,688.3 531.5,687.6 532.0,687.1 532.5,690.1 533.0,688.7 533.5,687.8 534.0,688.4 534.5,687.4 535.0,689.9 535.5,688.9 536.0,688.3 536.5,687.2 537.0,690.8 537.5,688.9 538.0,686.6 538.5,688.2 539.0,688.8 539.5,689.0 540.0,687.8 540.5,690.0 541.0,689.4 541.5,688.9 542.0,688.2 542.5,687.1 543.0,688.3 543.5,688.4 544.0,687.3 544.5,688.5 545.0,688.8 545.5,687.3 546.0,687.1 546.5,687.2 547.0,688.5 547.5,687.9 548.0,684.5 548.5,685.2 549.0,687.8 549.5,684.6 550.0,686.2 550.5,684.5 551.0,684.8 551.5,682.8 552.0,682.8 552.5,682.8 553.0,681.8 553.5,681.4 554.0,682.4 554.5,680.4 555.0,681.5 555.5,679.2 556.0,679.2 556.5,679.8 557.0,679.3 557.5,679.4 558.0,678.2 558.5,677.7 559.0,677.0 559.5,675.5 560.0,676.3 560.5,677.4 561.0,675.9 561.5,675.9 562.0,676.5 562.5,674.0 563.0,674.9 563.5,673.7 564.0,675.0 564.5,672.1 565.0,672.9 565.5,672.4 566.0,672.2 566.5,671.7 567.0,673.7 567.5,671.3 568.0,671.1 568.5,669.5 569.0,669.3 569.5,669.6 570.0,668.9 570.5,670.3 571.0,668.9 571.5,668.8 572.0,668.8 572.5,667.8 573.0,667.1 573.5,667.4 574.0,667.9 574.5,667.3 575.0,666.3 575.5,668.4 576.0,666.9 576.5,666.9 577.0,667.4 577.5,664.8 578.0,666.3 578.5,665.4 579.0,665.2 579.5,663.2 580.0,663.6 580.5,664.2 581.0,664.0 581.5,665.3 582.0,663.3 582.5,663.8 583.0,663.1 583.5,662.0 584.0,662.9 584.5,663.3 585.0,664.9 585.5,664.4 586.0,662.7 586.5,662.5 587.0,663.5 587.5,663.1 588.0,666.3 588.5,665.0 589.0,664.4 589.5,664.3 590.0,664.1 590.5,665.4 591.0,663.4 591.5,665.9 592.0,666.2 592.5,668.5 593.0,665.8 593.5,668.8 594.0,668.0 594.5,669.5 595.0,668.5 595.5,670.0 596.0,670.8 596.5,672.8 597.0,670.0 597.5,671.0 598.0,671.4 598.5,671.3 599.0,672.2 599.5,672.7 600.0,672.8 600.5,671.9 601.0,674.3 601.5,673.1 602.0,674.9 602.5,676.4 603.0,674.6 603.5,676.2 604.0,677.0 604.5,677.2 605.0,677.2 605.5,678.1 606.0,679.1 606.5,677.9 607.0,679.0 607.5,680.2 608.0,679.3 608.5,679.0 609.0,681.1 609.5,681.3 610.0,681.8 610.5,681.1 611.0,680.7 611.5,683.0 612.0,683.0 612.5,682.8 613.0,681.8 613.5,682.6 614.0,681.8 614.5,681.9 615.0,683.2 615.5,683.6 616.0,684.1 616.5,683.8 617.0,685.9 617.5,683.2 618.0,685.6 618.5,684.1 619.0,685.6 619.5,684.0 620.0,687.1 620.5,686.5 621.0,683.8 621.5,686.7 622.0,685.8 622.5,686.6 623.0,685.8 623.5,685.8 624.0,684.7 624.5,685.7 625.0,686.2 625.5,684.7 626.0,685.4 626.5,686.4 627.0,686.9 627.5,686.1 628.0,687.9 628.5,686.0 629.0,687.1 629.5,687.8 630.0,685.8 630.5,687.6 631.0,686.4 631.5,685.7 632.0,688.1 632.5,688.1 633.0,686.2 633.5,687.6 634.0,687.5 634.5,686.5 635.0,688.7 635.5,686.4 636.0,685.9 636.5,686.6 637.0,686.4 637.5,686.1 638.0,686.3 638.5,685.3 639.0,687.1 639.5,685.2 640.0,687.6 640.5,687.2 641.0,686.2 641.5,686.2 642.0,685.9 642.5,686.6 643.0,688.2 643.5,686.9 644.0,686.1 644.5,688.2 645.0,686.2 645.5,686.2 646.0,688.6 646.5,687.2 647.0,687.7 647.5,687.2 648.0,687.1 648.5,687.2 649.0,687.3 649.5,688.7 650.0,685.4 650.5,684.3 651.0,686.3 651.5,685.1 652.0,686.7 652.5,685.4 653.0,686.6 653.5,687.6 654.0,686.1 654.5,685.8 655.0,687.3 655.5,685.8 656.0,686.5 656.5,686.4 657.0,685.3 657.5,687.5 658.0,685.5 658.5,687.4 659.0,686.9 659.5,685.5 660.0,686.2 660.5,687.4 661.0,686.3 661.5,688.7 662.0,685.6 662.5,687.7 663.0,685.0 663.5,686.3 664.0,687.6 664.5,684.8 665.0,686.9 665.5,685.6 666.0,685.4 666.5,686.0 667.0,686.2 667.5,686.2 668.0,686.2 668.5,685.9 669.0,684.3 669.5,688.1 670.0,688.9 670.5,687.3 671.0,686.6 671.5,686.0 672.0,687.2 672.5,687.3 673.0,686.1 673.5,686.9 674.0,687.8 674.5,687.4 675.0,687.1 675.5,687.3 676.0,686.5 676.5,687.2 677.0,687.4 677.5,686.6 678.0,687.2 678.5,688.3 679.0,688.4 679.5,685.3 680.0,686.1 680.5,688.5 681.0,688.0 681.5,688.0 682.0,686.3 682.5,687.7 683.0,688.3 683.5,688.1 684.0,687.0 684.5,687.2 685.0,688.1 685.5,688.0 686.0,689.1 686.5,685.7 687.0,687.3 687.5,689.2 688.0,686.9 688.5,688.1 689.0,689.4 689.5,687.1 690.0,688.4 690.5,690.0 691.0,686.9 691.5,686.2 692.0,689.2 692.5,687.7 693.0,688.1 693.5,688.3 694.0,689.4 694.5,687.9 695.0,689.2 695.5,689.0 696.0,688.2 696.5,689.3 697.0,688.5 697.5,688.1 698.0,691.2 698.5,686.3 699.0,687.1 699.5,687.2 700.0,687.8 700.5,688.4 701.0,688.0 701.5,690.4 702.0,687.7 702.5,687.2 703.0,688.2 703.5,687.8 704.0,687.7 704.5,689.1 705.0,688.5 705.5,689.3 706.0,687.1 706.5,688.8 707.0,688.2 707.5,687.6 708.0,686.6 708.5,688.1 709.0,687.0 709.5,688.9 710.0,688.6 710.5,688.6 711.0,690.9 711.5,689.4 712.0,686.2 712.5,688.7 713.0,688.3 713.5,688.3 714.0,687.6 714.5,689.0 715.0,685.3 715.5,686.8 716.0,688.7 716.5,688.3 717.0,689.0 717.5,687.7 718.0,687.5 718.5,688.8 719.0,688.2 719.5,686.3 720.0,689.0 720.5,687.0 721.0,688.9 721.5,688.2 722.0,688.6 722.5,689.0 723.0,687.0 723.5,688.6 724.0,687.9 724.5,687.7 725.0,688.0 725.5,687.4 726.0,688.0 726.5,688.2 727.0,687.3 727.5,689.0 728.0,688.0 728.5,686.8 729.0,688.3 729.5,688.4 730.0,686.5 730.5,688.1 731.0,687.5 731.5,688.1 732.0,687.7 732.5,688.2 733.0,688.0 733.5,685.6 734.0,687.9 734.5,688.3 735.0,688.5 735.5,689.0 736.0,688.1 736.5,689.0 737.0,688.6 737.5,687.3 738.0,687.0 738.5,689.0 739.0,688.4 739.5,686.0 740.0,686.6 740.5,688.8 741.0,687.8 741.5,685.9 742.0,688.1 742.5,688.6 743.0,688.3 743.5,687.6 744.0,687.4 744.5,687.1 745.0,687.1 745.5,687.8 746.0,690.0 746.5,690.1 747.0,687.4 747.5,686.1 748.0,687.4 748.5,687.2 749.0,687.2 749.5,685.8 750.0,687.4 750.5,686.8 751.0,687.5 751.5,685.9 752.0,687.5 752.5,686.2 753.0,686.6 753.5,686.8 754.0,686.8 754.5,686.8 755.0,686.8 755.5,686.7 756.0,686.6 756.5,686.8 757.0,687.0 757.5,689.2 758.0,688.2 758.5,686.7 759.0,685.9 759.5,688.4 760.0,687.2 760.5,687.6 761.0,688.4 761.5,685.3 762.0,686.6 762.5,687.4 763.0,688.6 763.5,687.1 764.0,687.3 764.5,687.1 765.0,687.1 765.5,687.3 766.0,686.6 766.5,686.4 767.0,686.8 767.5,687.7 768.0,688.3 768.5,687.2 769.0,686.8 769.5,688.3 770.0,687.6 770.5,687.8 771.0,686.9 771.5,686.6 772.0,687.5 772.5,686.9 773.0,688.2 773.5,686.1 774.0,687.3 774.5,687.0 775.0,686.0 775.5,686.6 776.0,685.9 776.5,686.6 777.0,686.7 777.5,689.6 778.0,685.9 778.5,687.6 779.0,686.5 779.5,687.3 780.0,686.6 780.5,686.1 781.0,688.3 781.5,688.0 782.0,685.2 782.5,686.7 783.0,686.5 783.5,685.3 784.0,687.0 784.5,687.3 785.0,686.9 785.5,687.3 786.0,688.6 786.5,686.4 787.0,688.0 787.5,688.9 788.0,683.9 788.5,686.6 789.0,688.1 789.5,687.1 790.0,686.2 790.5,688.2 791.0,687.6 791.5,685.2 792.0,687.5 792.5,686.5 793.0,686.9 793.5,685.5 794.0,687.2 794.5,686.9 795.0,685.8 795.5,686.3 796.0,688.1 796.5,688.2 797.0,685.2 797.5,687.1 798.0,686.3 798.5,686.1 799.0,686.9 799.5,688.1 800.0,687.2 800.5,685.7 801.0,686.6 801.5,687.0 802.0,687.7 802.5,686.5 803.0,686.7 803.5,686.8 804.0,687.2 804.5,684.7 805.0,687.9 805.5,686.8 806.0,686.5 806.5,685.4 807.0,686.8 807.5,688.4 808.0,685.9 808.5,684.9 809.0,686.9 809.5,686.5 810.0,686.4 810.5,684.9 811.0,686.9 811.5,687.1 812.0,682.2 812.5,686.6 813.0,687.2 813.5,685.5 814.0,684.3 814.5,686.5 815.0,688.5 815.5,686.7 816.0,688.6 816.5,686.7 817.0,686.1 817.5,685.6 818.0,687.7 818.5,685.0 819.0,685.7 819.5,685.9 820.0,686.6 820.5,686.3 821.0,684.8 821.5,685.1 822.0,688.0 822.5,686.3 823.0,686.3 823.5,685.9 824.0,686.5 824.5,685.5 825.0,687.3 825.5,687.1 826.0,686.2 826.5,687.1 827.0,686.0 827.5,685.8 828.0,687.2 828.5,686.1 829.0,685.3 829.5,687.7 830.0,686.0 830.5,686.6 831.0,687.6 831.5,684.9 832.0,685.8 832.5,687.1 833.0,685.8 833.5,685.6 834.0,685.9 834.5,685.8 835.0,685.8 835.5,686.5 836.0,686.1 836.5,687.7 837.0,686.4 837.5,687.7 838.0,686.2 838.5,687.7 839.0,685.9 839.5,687.2 840.0,686.1 840.5,687.6 841.0,685.2 841.5,685.5 842.0,686.3 842.5,685.0 843.0,687.4 843.5,685.8 844.0,686.4 844.5,686.9 845.0,686.5 845.5,685.2 846.0,684.6 846.5,684.2 847.0,685.0 847.5,685.1 848.0,685.1 848.5,686.3 849.0,684.5 849.5,684.2 850.0,686.0 850.5,687.6 851.0,684.9 851.5,685.7 852.0,685.7 852.5,686.9 853.0,686.6 853.5,685.3 854.0,686.7 854.5,685.8 855.0,686.5 855.5,687.5 856.0,683.6 856.5,684.3 857.0,684.4 857.5,684.5 858.0,685.8 858.5,685.8 859.0,687.4 859.5,687.1 860.0,685.9 860.5,685.5 861.0,686.3 861.5,686.0 862.0,685.1 862.5,686.3 863.0,685.1 863.5,685.5 864.0,685.4 864.5,685.0 865.0,684.9 865.5,685.6 866.0,685.4 866.5,684.3 867.0,687.2" stroke="#000000"/>
</g>
<g stroke="#000" stroke-width="3.6" stroke-linecap="round">
<line x1="100.8" y1="695.8" x2="111" y2="695.8"/>
<line x1="100.8" y1="515.0" x2="111" y2="515.0"/>
<line x1="100.8" y1="334.3" x2="111" y2="334.3"/>
<line x1="100.8" y1="153.5" x2="111" y2="153.5"/>
<line x1="105.6" y1="605.4" x2="111" y2="605.4"/>
<line x1="105.6" y1="424.6" x2="111" y2="424.6"/>
<line x1="105.6" y1="243.9" x2="111" y2="243.9"/>
<line x1="105.6" y1="63.1" x2="111" y2="63.1"/>
<line x1="243.5" y1="700" x2="243.5" y2="708.7"/>
<line x1="394.9" y1="700" x2="394.9" y2="708.7"/>
<line x1="546.4" y1="700" x2="546.4" y2="708.7"/>
<line x1="697.8" y1="700" x2="697.8" y2="708.7"/>
<line x1="849.2" y1="700" x2="849.2" y2="708.7"/>
<line x1="167.8" y1="700" x2="167.8" y2="704.6"/>
<line x1="319.2" y1="700" x2="319.2" y2="704.6"/>
<line x1="470.6" y1="700" x2="470.6" y2="704.6"/>
<line x1="622.1" y1="700" x2="622.1" y2="704.6"/>
<line x1="773.5" y1="700" x2="773.5" y2="704.6"/>
</g>
<rect x="110.8" y="5" width="760.5" height="695" fill="none" stroke="#000" stroke-width="3.8"/>
<g class="leg">
<line x1="151.5" y1="32.2" x2="171" y2="32.2" stroke="#000000" stroke-width="2.2"/>
<text x="0" y="0" transform="translate(196.2 37.7) scale(1.07 1)" fill="#000000">Graphite</text>
<line x1="151.5" y1="55.5" x2="171" y2="55.5" stroke="#ff8080" stroke-width="2.2"/>
<text x="0" y="0" transform="translate(196.2 61.0) scale(1.07 1)" fill="#ff8080">H<tspan class="sub" dy="3.5">2</tspan><tspan dy="-3.5">O</tspan></text>
<line x1="151.5" y1="78.8" x2="171" y2="78.8" stroke="#d4d400" stroke-width="2.2"/>
<text x="0" y="0" transform="translate(196.2 84.3) scale(1.07 1)" fill="#d4d400">MeOH</text>
<line x1="151.5" y1="102.1" x2="171" y2="102.1" stroke="#60d800" stroke-width="2.2"/>
<text x="0" y="0" transform="translate(196.2 107.6) scale(1.07 1)" fill="#60d800">EtOH</text>
<line x1="151.5" y1="125.4" x2="171" y2="125.4" stroke="#ffaa00" stroke-width="2.2"/>
<text x="0" y="0" transform="translate(196.2 130.9) scale(1.07 1)" fill="#ffaa00">THF</text>
<line x1="151.5" y1="148.7" x2="171" y2="148.7" stroke="#6600dd" stroke-width="2.2"/>
<text x="0" y="0" transform="translate(196.2 154.2) scale(1.07 1)" fill="#6600dd">MeCN</text>
<line x1="151.5" y1="172.0" x2="171" y2="172.0" stroke="#ff0000" stroke-width="2.2"/>
<text x="0" y="0" transform="translate(196.2 177.5) scale(1.07 1)" fill="#ff0000">CH<tspan class="sub" dy="3.5">2</tspan><tspan dy="-3.5">Cl</tspan><tspan class="sub" dy="3.5">2</tspan></text>
<line x1="151.5" y1="195.3" x2="171" y2="195.3" stroke="#0000f0" stroke-width="2.2"/>
<text x="0" y="0" transform="translate(196.2 200.8) scale(1.07 1)" fill="#0000f0">CHCl<tspan class="sub" dy="3.5">3</tspan></text>
<line x1="151.5" y1="218.6" x2="171" y2="218.6" stroke="#00ee00" stroke-width="2.2"/>
<text x="0" y="0" transform="translate(196.2 224.1) scale(1.07 1)" fill="#00ee00">CCl<tspan class="sub" dy="3.5">4</tspan></text>
</g>
<g class="ax">
<text class="tl" transform="translate(88.5 712.8) scale(0.91 1)" text-anchor="end">0</text>
<text class="tl" transform="translate(88.5 532.0) scale(0.91 1)" text-anchor="end">1</text>
<text class="tl" transform="translate(88.5 351.3) scale(0.91 1)" text-anchor="end">2</text>
<text class="tl" transform="translate(88.5 170.5) scale(0.91 1)" text-anchor="end">3</text>
<text class="tl" transform="translate(240.0 765.2) scale(0.91 1)" text-anchor="middle">1800</text>
<text class="tl" transform="translate(393.9 765.2) scale(0.91 1)" text-anchor="middle">1600</text>
<text class="tl" transform="translate(545.4 765.2) scale(0.91 1)" text-anchor="middle">1400</text>
<text class="tl" transform="translate(696.8 765.2) scale(0.91 1)" text-anchor="middle">1200</text>
<text class="tl" transform="translate(848.2 765.2) scale(0.91 1)" text-anchor="middle">1000</text>
<text transform="translate(295 817) scale(0.993 1)">Binding</text>
<text transform="translate(466 817) scale(0.923 1)">Energy</text>
<text transform="translate(622 817) scale(0.89 1)">(eV)</text>
<text transform="translate(39 626) rotate(-90) scale(0.989 1)">Normalized</text>
<text transform="translate(39 372.5) rotate(-90) scale(0.951 1)">Intensity (a.u.)</text>
</g>
</svg>
</body></html>
